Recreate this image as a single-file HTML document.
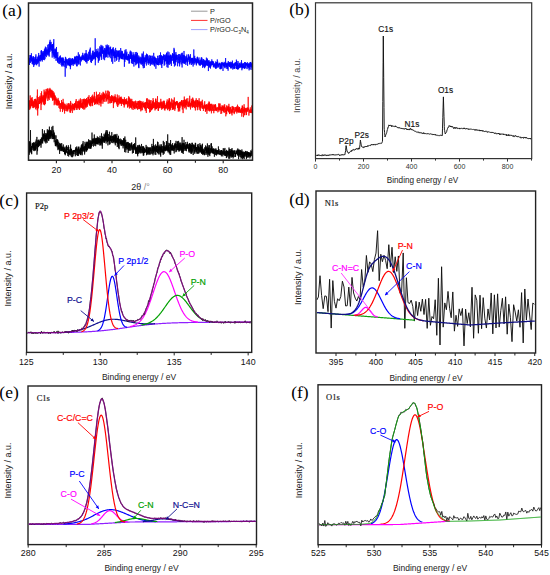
<!DOCTYPE html>
<html><head><meta charset="utf-8"><style>
html,body{margin:0;padding:0;background:#fff;width:550px;height:575px;overflow:hidden;}
svg{display:block;font-family:"Liberation Sans", sans-serif;}
</style></head><body>
<svg width="550" height="575" viewBox="0 0 550 575"><text x="2.3" y="16.2" font-size="17.5" fill="#000" text-anchor="start" font-family='"Liberation Serif", serif' >(a)</text>
<clipPath id="ca"><rect x="29" y="3.5" width="223" height="156.1"/></clipPath>
<polyline fill="none" stroke="#0000ff" stroke-width="0.75" stroke-opacity="1.0" stroke-linejoin="round" clip-path="url(#ca)" points="28.80,60.94 28.90,61.83 29.00,60.12 29.10,55.07 29.20,59.57 29.30,57.96 29.40,61.11 29.50,64.94 29.60,59.44 29.70,59.06 29.80,62.39 29.90,61.98 30.00,61.23 30.10,58.11 30.20,60.82 30.30,62.99 30.40,56.85 30.50,59.51 30.60,55.15 30.70,56.99 30.80,55.32 30.90,60.17 31.00,57.04 31.10,61.69 31.20,61.34 31.30,60.30 31.40,53.23 31.50,59.22 31.60,60.71 31.70,61.19 31.80,56.19 31.90,59.39 32.00,57.86 32.10,58.37 32.20,64.07 32.30,58.36 32.40,60.72 32.50,63.52 32.60,59.03 32.70,60.47 32.80,61.15 32.90,61.00 33.00,57.04 33.10,61.03 33.20,64.97 33.30,56.03 33.40,63.43 33.50,61.15 33.60,58.80 33.70,66.94 33.80,63.12 33.90,57.06 34.00,60.99 34.10,62.53 34.20,60.16 34.30,62.85 34.40,60.53 34.50,62.80 34.60,65.19 34.70,58.61 34.80,61.34 34.90,59.26 35.00,61.09 35.10,56.98 35.20,58.87 35.30,60.05 35.40,63.46 35.50,64.23 35.60,56.49 35.70,58.13 35.80,62.63 35.90,54.34 36.00,59.12 36.10,60.25 36.20,64.50 36.30,62.69 36.40,59.47 36.50,59.32 36.60,59.67 36.70,65.25 36.80,59.05 36.90,59.42 37.00,61.47 37.10,59.94 37.20,59.66 37.30,56.71 37.40,60.18 37.50,58.76 37.60,63.86 37.70,62.19 37.80,59.97 37.90,62.15 38.00,58.87 38.10,63.29 38.20,59.84 38.30,61.68 38.40,55.58 38.50,60.81 38.60,54.16 38.70,52.96 38.80,58.51 38.90,56.51 39.00,59.90 39.10,66.63 39.20,56.51 39.30,57.11 39.40,59.76 39.50,60.63 39.60,58.35 39.70,58.17 39.80,61.09 39.90,60.41 40.00,55.18 40.10,58.26 40.20,58.56 40.30,54.84 40.40,59.14 40.50,55.31 40.60,61.36 40.70,58.66 40.80,58.22 40.90,55.84 41.00,57.34 41.10,50.89 41.20,53.72 41.30,58.70 41.40,50.13 41.50,60.17 41.60,51.22 41.70,59.68 41.80,54.10 41.90,59.58 42.00,57.26 42.10,51.41 42.20,60.94 42.30,61.52 42.40,56.20 42.50,55.38 42.60,55.67 42.70,52.73 42.80,59.88 42.90,54.03 43.00,55.65 43.10,52.94 43.20,53.42 43.30,51.01 43.40,59.88 43.50,54.78 43.60,58.66 43.70,55.17 43.80,52.53 43.90,53.74 44.00,52.79 44.10,54.72 44.20,53.23 44.30,53.39 44.40,49.37 44.50,51.32 44.60,60.17 44.70,51.58 44.80,50.05 44.90,55.04 45.00,58.86 45.10,48.20 45.20,52.68 45.30,50.98 45.40,46.66 45.50,55.83 45.60,52.88 45.70,53.11 45.80,49.89 45.90,54.31 46.00,50.43 46.10,51.81 46.20,48.01 46.30,47.46 46.40,57.08 46.50,49.90 46.60,52.84 46.70,51.46 46.80,49.76 46.90,49.37 47.00,53.67 47.10,49.92 47.20,50.38 47.30,50.93 47.40,55.35 47.50,53.29 47.60,52.00 47.70,48.13 47.80,44.75 47.90,53.92 48.00,53.88 48.10,49.34 48.20,51.98 48.30,52.84 48.40,52.95 48.50,53.22 48.60,47.55 48.70,55.46 48.80,44.15 48.90,52.65 49.00,51.07 49.10,52.55 49.20,56.60 49.30,54.93 49.40,44.08 49.50,41.79 49.60,52.04 49.70,44.46 49.80,48.55 49.90,52.02 50.00,41.76 50.10,39.82 50.20,49.57 50.30,48.68 50.40,47.48 50.50,48.66 50.60,44.96 50.70,42.30 50.80,47.86 50.90,44.59 51.00,41.87 51.10,50.73 51.20,48.45 51.30,50.42 51.40,44.78 51.50,46.20 51.60,44.89 51.70,45.42 51.80,47.36 51.90,46.02 52.00,50.71 52.10,50.74 52.20,57.59 52.30,44.00 52.40,53.22 52.50,49.43 52.60,49.84 52.70,44.29 52.80,48.32 52.90,53.17 53.00,50.06 53.10,50.83 53.20,49.51 53.30,55.25 53.40,50.83 53.50,42.60 53.60,48.54 53.70,43.83 53.80,39.13 53.90,49.62 54.00,56.79 54.10,52.09 54.20,58.64 54.30,48.72 54.40,56.56 54.50,53.11 54.60,52.86 54.70,52.65 54.80,53.14 54.90,56.07 55.00,55.31 55.10,54.25 55.20,49.91 55.30,55.62 55.40,48.64 55.50,57.98 55.60,49.84 55.70,53.97 55.80,54.59 55.90,50.20 56.00,60.86 56.10,60.10 56.20,53.69 56.30,58.04 56.40,56.86 56.50,46.98 56.60,56.74 56.70,55.86 56.80,56.49 56.90,52.83 57.00,55.64 57.10,56.09 57.20,60.67 57.30,58.05 57.40,57.09 57.50,62.14 57.60,55.63 57.70,56.30 57.80,51.94 57.90,62.72 58.00,60.94 58.10,60.90 58.20,60.24 58.30,58.63 58.40,59.07 58.50,57.75 58.60,58.00 58.70,58.90 58.80,63.41 58.90,60.61 59.00,58.85 59.10,57.39 59.20,57.32 59.30,64.07 59.40,60.89 59.50,59.66 59.60,58.52 59.70,56.35 59.80,59.49 59.90,62.31 60.00,58.68 60.10,59.23 60.20,59.31 60.30,60.33 60.40,55.47 60.50,59.45 60.60,57.73 60.70,62.78 60.80,58.08 60.90,61.99 61.00,64.73 61.10,59.54 61.20,58.77 61.30,61.07 61.40,60.56 61.50,57.80 61.60,61.95 61.70,66.37 61.80,60.01 61.90,60.20 62.00,57.89 62.10,61.74 62.20,57.41 62.30,57.84 62.40,64.53 62.50,58.49 62.60,64.04 62.70,65.30 62.80,61.83 62.90,62.68 63.00,66.56 63.10,60.68 63.20,59.63 63.30,57.58 63.40,61.44 63.50,65.41 63.60,64.02 63.70,58.87 63.80,59.15 63.90,60.14 64.00,62.33 64.10,61.02 64.20,62.19 64.30,62.45 64.40,60.88 64.50,61.61 64.60,62.30 64.70,61.56 64.80,63.17 64.90,66.85 65.00,63.47 65.10,62.07 65.20,76.74 65.30,63.02 65.40,56.87 65.50,58.33 65.60,64.35 65.70,63.98 65.80,61.76 65.90,57.69 66.00,61.24 66.10,60.47 66.20,63.94 66.30,68.21 66.40,62.90 66.50,60.33 66.60,59.35 66.70,62.28 66.80,61.99 66.90,59.49 67.00,62.80 67.10,59.54 67.20,65.42 67.30,65.31 67.40,65.39 67.50,61.39 67.60,63.95 67.70,62.30 67.80,61.66 67.90,61.80 68.00,59.35 68.10,59.00 68.20,64.75 68.30,62.23 68.40,63.29 68.50,65.30 68.60,58.30 68.70,60.74 68.80,63.20 68.90,63.76 69.00,61.79 69.10,65.39 69.20,63.29 69.30,59.63 69.40,60.35 69.50,64.80 69.60,63.92 69.70,57.84 69.80,66.17 69.90,64.23 70.00,66.14 70.10,61.68 70.20,61.89 70.30,59.73 70.40,69.18 70.50,62.15 70.60,66.69 70.70,60.88 70.80,62.97 70.90,58.18 71.00,61.50 71.10,65.04 71.20,59.19 71.30,65.23 71.40,63.29 71.50,59.65 71.60,61.04 71.70,61.13 71.80,62.18 71.90,60.87 72.00,60.07 72.10,61.42 72.20,59.48 72.30,58.76 72.40,62.02 72.50,64.47 72.60,58.02 72.70,62.08 72.80,60.30 72.90,59.40 73.00,64.27 73.10,60.57 73.20,65.96 73.30,59.80 73.40,62.92 73.50,61.23 73.60,59.78 73.70,63.38 73.80,62.39 73.90,63.37 74.00,61.58 74.10,58.72 74.20,61.37 74.30,61.76 74.40,64.22 74.50,59.08 74.60,61.43 74.70,56.77 74.80,63.27 74.90,58.47 75.00,56.43 75.10,61.23 75.20,64.43 75.30,57.11 75.40,58.28 75.50,59.21 75.60,58.10 75.70,62.28 75.80,58.94 75.90,56.72 76.00,62.78 76.10,58.99 76.20,62.30 76.30,58.32 76.40,57.61 76.50,55.81 76.60,66.24 76.70,60.03 76.80,61.61 76.90,60.80 77.00,61.31 77.10,60.97 77.20,66.25 77.30,57.80 77.40,56.28 77.50,57.81 77.60,56.85 77.70,62.81 77.80,63.00 77.90,57.83 78.00,56.56 78.10,59.52 78.20,64.55 78.30,52.31 78.40,61.99 78.50,57.30 78.60,63.44 78.70,57.23 78.80,59.52 78.90,55.91 79.00,57.43 79.10,64.33 79.20,62.65 79.30,59.03 79.40,57.62 79.50,54.56 79.60,58.96 79.70,60.00 79.80,59.82 79.90,59.76 80.00,56.68 80.10,59.79 80.20,59.84 80.30,63.78 80.40,65.48 80.50,59.46 80.60,57.54 80.70,59.62 80.80,57.96 80.90,57.52 81.00,59.55 81.10,56.55 81.20,61.50 81.30,58.95 81.40,60.37 81.50,59.03 81.60,57.35 81.70,56.64 81.80,58.78 81.90,57.80 82.00,60.16 82.10,59.40 82.20,55.21 82.30,59.56 82.40,55.20 82.50,57.41 82.60,58.37 82.70,52.84 82.80,59.50 82.90,59.65 83.00,58.67 83.10,57.81 83.20,57.94 83.30,56.03 83.40,58.20 83.50,57.29 83.60,59.27 83.70,55.19 83.80,59.66 83.90,59.34 84.00,58.42 84.10,57.45 84.20,60.54 84.30,53.54 84.40,60.19 84.50,59.47 84.60,59.57 84.70,59.86 84.80,56.55 84.90,57.76 85.00,60.57 85.10,59.89 85.20,59.15 85.30,53.65 85.40,60.14 85.50,62.12 85.60,61.58 85.70,59.07 85.80,53.32 85.90,61.28 86.00,57.76 86.10,50.09 86.20,59.37 86.30,53.35 86.40,53.94 86.50,56.03 86.60,62.12 86.70,56.80 86.80,58.84 86.90,63.56 87.00,63.04 87.10,57.53 87.20,57.05 87.30,53.72 87.40,55.51 87.50,59.10 87.60,58.97 87.70,58.01 87.80,60.85 87.90,55.08 88.00,57.37 88.10,59.90 88.20,59.38 88.30,60.94 88.40,58.71 88.50,56.37 88.60,58.53 88.70,54.04 88.80,51.92 88.90,59.14 89.00,57.03 89.10,58.18 89.20,51.58 89.30,55.91 89.40,55.10 89.50,54.20 89.60,49.59 89.70,55.86 89.80,59.88 89.90,58.15 90.00,54.88 90.10,56.78 90.20,59.29 90.30,47.65 90.40,56.31 90.50,58.48 90.60,58.91 90.70,62.24 90.80,60.34 90.90,57.58 91.00,57.51 91.10,59.09 91.20,54.65 91.30,56.27 91.40,59.39 91.50,62.85 91.60,55.77 91.70,56.11 91.80,56.89 91.90,60.68 92.00,56.06 92.10,61.04 92.20,52.86 92.30,55.44 92.40,55.36 92.50,58.62 92.60,59.46 92.70,50.86 92.80,52.81 92.90,56.98 93.00,53.60 93.10,50.66 93.20,59.24 93.30,57.37 93.40,57.34 93.50,54.04 93.60,59.08 93.70,54.76 93.80,59.24 93.90,52.42 94.00,52.58 94.10,56.13 94.20,53.02 94.30,57.65 94.40,56.21 94.50,52.16 94.60,55.51 94.70,54.03 94.80,58.30 94.90,53.00 95.00,53.62 95.10,59.21 95.20,38.26 95.30,65.24 95.40,55.20 95.50,55.69 95.60,60.15 95.70,54.45 95.80,51.50 95.90,55.21 96.00,56.32 96.10,51.89 96.20,49.05 96.30,49.73 96.40,56.92 96.50,51.99 96.60,54.08 96.70,55.26 96.80,56.63 96.90,53.30 97.00,56.14 97.10,51.32 97.20,53.10 97.30,50.78 97.40,58.20 97.50,54.16 97.60,51.65 97.70,52.96 97.80,53.38 97.90,56.54 98.00,48.54 98.10,50.44 98.20,51.11 98.30,62.78 98.40,57.26 98.50,53.51 98.60,56.35 98.70,61.01 98.80,52.98 98.90,52.48 99.00,57.96 99.10,55.42 99.20,56.01 99.30,51.84 99.40,60.33 99.50,59.55 99.60,55.50 99.70,55.89 99.80,46.33 99.90,55.66 100.00,52.70 100.10,54.87 100.20,55.71 100.30,52.07 100.40,47.28 100.50,50.35 100.60,50.55 100.70,51.97 100.80,56.31 100.90,51.86 101.00,44.86 101.10,57.31 101.20,53.86 101.30,56.87 101.40,59.92 101.50,52.94 101.60,46.43 101.70,49.62 101.80,48.47 101.90,50.94 102.00,52.98 102.10,45.53 102.20,53.85 102.30,47.21 102.40,53.62 102.50,52.14 102.60,51.38 102.70,52.21 102.80,50.51 102.90,50.21 103.00,46.35 103.10,52.24 103.20,58.93 103.30,59.39 103.40,57.00 103.50,54.77 103.60,49.78 103.70,57.36 103.80,51.96 103.90,51.89 104.00,51.06 104.10,52.42 104.20,50.50 104.30,51.74 104.40,48.13 104.50,50.66 104.60,60.20 104.70,51.73 104.80,51.10 104.90,53.86 105.00,54.48 105.10,47.92 105.20,51.17 105.30,55.21 105.40,52.87 105.50,52.33 105.60,57.48 105.70,49.45 105.80,52.18 105.90,50.01 106.00,57.23 106.10,44.87 106.20,49.48 106.30,49.99 106.40,54.27 106.50,47.11 106.60,56.90 106.70,46.27 106.80,54.60 106.90,50.88 107.00,49.56 107.10,53.88 107.20,48.68 107.30,44.56 107.40,50.67 107.50,46.66 107.60,49.71 107.70,53.35 107.80,53.16 107.90,57.70 108.00,51.37 108.10,46.66 108.20,49.44 108.30,48.88 108.40,47.84 108.50,53.71 108.60,49.91 108.70,45.23 108.80,54.69 108.90,51.85 109.00,53.52 109.10,52.66 109.20,54.53 109.30,52.46 109.40,56.68 109.50,53.86 109.60,53.76 109.70,53.84 109.80,47.34 109.90,51.88 110.00,51.57 110.10,53.22 110.20,47.78 110.30,58.22 110.40,52.92 110.50,48.37 110.60,46.67 110.70,51.64 110.80,52.33 110.90,50.18 111.00,51.98 111.10,50.49 111.20,54.63 111.30,50.25 111.40,52.63 111.50,56.16 111.60,61.65 111.70,49.37 111.80,51.26 111.90,49.99 112.00,55.58 112.10,48.99 112.20,49.29 112.30,52.86 112.40,49.64 112.50,49.74 112.60,51.40 112.70,63.76 112.80,48.15 112.90,51.68 113.00,53.61 113.10,52.50 113.20,47.14 113.30,51.60 113.40,55.89 113.50,55.09 113.60,52.97 113.70,50.26 113.80,55.40 113.90,56.22 114.00,49.39 114.10,50.64 114.20,58.22 114.30,54.12 114.40,57.28 114.50,51.82 114.60,56.58 114.70,51.46 114.80,52.96 114.90,61.79 115.00,56.08 115.10,51.88 115.20,53.29 115.30,54.67 115.40,57.63 115.50,52.01 115.60,47.89 115.70,52.75 115.80,53.75 115.90,54.08 116.00,58.08 116.10,55.33 116.20,56.46 116.30,50.18 116.40,56.68 116.50,60.73 116.60,56.40 116.70,54.72 116.80,54.42 116.90,59.78 117.00,50.93 117.10,53.61 117.20,55.50 117.30,56.45 117.40,52.62 117.50,55.06 117.60,53.18 117.70,54.50 117.80,53.70 117.90,50.45 118.00,54.11 118.10,57.04 118.20,51.10 118.30,53.47 118.40,56.42 118.50,50.84 118.60,54.91 118.70,50.92 118.80,58.02 118.90,61.83 119.00,60.92 119.10,53.73 119.20,56.84 119.30,54.88 119.40,54.84 119.50,59.50 119.60,50.33 119.70,57.97 119.80,54.46 119.90,59.15 120.00,55.26 120.10,52.54 120.20,55.60 120.30,57.10 120.40,54.89 120.50,56.36 120.60,53.16 120.70,48.04 120.80,57.75 120.90,57.14 121.00,55.41 121.10,55.18 121.20,58.30 121.30,53.57 121.40,52.80 121.50,54.48 121.60,58.90 121.70,50.72 121.80,58.96 121.90,53.16 122.00,51.72 122.10,59.26 122.20,54.97 122.30,51.17 122.40,54.20 122.50,58.33 122.60,59.19 122.70,54.07 122.80,56.75 122.90,57.76 123.00,53.47 123.10,56.68 123.20,55.48 123.30,53.90 123.40,54.07 123.50,55.88 123.60,55.79 123.70,53.93 123.80,54.40 123.90,59.33 124.00,54.32 124.10,58.66 124.20,59.70 124.30,57.78 124.40,66.77 124.50,53.34 124.60,58.57 124.70,55.01 124.80,61.96 124.90,61.50 125.00,49.90 125.10,53.06 125.20,51.52 125.30,58.72 125.40,58.58 125.50,56.04 125.60,57.74 125.70,58.40 125.80,56.11 125.90,59.65 126.00,49.22 126.10,58.46 126.20,53.18 126.30,59.55 126.40,55.81 126.50,53.74 126.60,57.78 126.70,53.72 126.80,53.75 126.90,51.70 127.00,56.63 127.10,58.32 127.20,60.03 127.30,56.35 127.40,60.17 127.50,56.92 127.60,56.60 127.70,58.75 127.80,60.32 127.90,55.90 128.00,56.24 128.10,56.53 128.20,57.33 128.30,54.24 128.40,60.40 128.50,55.89 128.60,53.95 128.70,54.59 128.80,58.39 128.90,58.53 129.00,55.97 129.10,63.77 129.20,58.55 129.30,63.05 129.40,60.48 129.50,55.35 129.60,56.27 129.70,58.91 129.80,57.74 129.90,57.74 130.00,55.61 130.10,51.89 130.20,56.95 130.30,50.64 130.40,58.91 130.50,55.45 130.60,55.51 130.70,57.12 130.80,58.72 130.90,53.32 131.00,52.35 131.10,54.55 131.20,51.47 131.30,54.92 131.40,63.09 131.50,54.70 131.60,60.16 131.70,53.75 131.80,59.10 131.90,57.16 132.00,58.02 132.10,60.05 132.20,63.86 132.30,58.92 132.40,58.72 132.50,55.26 132.60,60.24 132.70,57.63 132.80,61.09 132.90,58.34 133.00,64.05 133.10,52.23 133.20,57.62 133.30,61.40 133.40,57.51 133.50,56.14 133.60,57.84 133.70,54.33 133.80,59.12 133.90,66.54 134.00,62.45 134.10,55.31 134.20,56.09 134.30,57.61 134.40,62.12 134.50,56.34 134.60,56.79 134.70,61.83 134.80,61.80 134.90,57.89 135.00,55.55 135.10,54.20 135.20,56.94 135.30,52.10 135.40,61.61 135.50,57.25 135.60,60.82 135.70,65.26 135.80,63.08 135.90,55.71 136.00,62.17 136.10,63.12 136.20,57.09 136.30,56.46 136.40,59.17 136.50,54.45 136.60,64.26 136.70,51.95 136.80,56.11 136.90,58.81 137.00,58.97 137.10,60.25 137.20,60.61 137.30,59.10 137.40,63.42 137.50,53.03 137.60,59.86 137.70,57.61 137.80,60.33 137.90,60.64 138.00,57.07 138.10,63.05 138.20,62.54 138.30,61.15 138.40,57.90 138.50,66.57 138.60,67.45 138.70,55.48 138.80,61.12 138.90,68.15 139.00,62.69 139.10,60.92 139.20,59.58 139.30,58.54 139.40,59.60 139.50,58.55 139.60,62.68 139.70,59.06 139.80,58.94 139.90,56.54 140.00,60.22 140.10,57.55 140.20,59.83 140.30,63.72 140.40,61.58 140.50,62.03 140.60,61.57 140.70,60.04 140.80,60.06 140.90,59.50 141.00,62.88 141.10,57.05 141.20,64.74 141.30,60.61 141.40,58.13 141.50,58.96 141.60,58.37 141.70,61.02 141.80,58.25 141.90,64.13 142.00,55.09 142.10,53.35 142.20,58.22 142.30,54.19 142.40,60.40 142.50,63.87 142.60,62.57 142.70,56.32 142.80,58.13 142.90,66.13 143.00,61.53 143.10,60.54 143.20,63.85 143.30,68.24 143.40,51.56 143.50,60.96 143.60,61.64 143.70,62.46 143.80,58.60 143.90,57.20 144.00,60.68 144.10,57.55 144.20,60.32 144.30,60.82 144.40,67.85 144.50,57.85 144.60,60.13 144.70,59.99 144.80,61.87 144.90,63.78 145.00,58.97 145.10,57.93 145.20,55.37 145.30,57.60 145.40,62.17 145.50,60.63 145.60,57.32 145.70,59.33 145.80,60.58 145.90,62.05 146.00,58.63 146.10,59.70 146.20,54.82 146.30,56.89 146.40,65.51 146.50,53.67 146.60,59.42 146.70,61.15 146.80,59.30 146.90,57.96 147.00,60.27 147.10,60.45 147.20,60.20 147.30,54.64 147.40,60.00 147.50,54.62 147.60,58.75 147.70,61.15 147.80,62.43 147.90,63.22 148.00,58.91 148.10,63.30 148.20,64.07 148.30,63.95 148.40,64.73 148.50,59.98 148.60,59.89 148.70,62.97 148.80,56.21 148.90,61.07 149.00,58.79 149.10,59.29 149.20,55.06 149.30,57.68 149.40,60.35 149.50,63.15 149.60,63.46 149.70,60.16 149.80,59.83 149.90,57.85 150.00,61.64 150.10,59.64 150.20,62.26 150.30,65.77 150.40,60.30 150.50,55.80 150.60,57.75 150.70,55.92 150.80,56.72 150.90,64.38 151.00,61.42 151.10,55.73 151.20,62.38 151.30,64.23 151.40,59.28 151.50,58.31 151.60,59.34 151.70,61.24 151.80,62.32 151.90,63.97 152.00,64.06 152.10,63.97 152.20,64.51 152.30,62.37 152.40,55.70 152.50,59.96 152.60,61.31 152.70,59.19 152.80,63.12 152.90,59.25 153.00,57.53 153.10,64.73 153.20,62.36 153.30,61.00 153.40,63.15 153.50,63.56 153.60,61.37 153.70,52.89 153.80,58.28 153.90,58.95 154.00,57.35 154.10,60.92 154.20,65.73 154.30,58.85 154.40,56.89 154.50,66.44 154.60,58.95 154.70,56.59 154.80,61.03 154.90,61.59 155.00,58.18 155.10,62.69 155.20,58.83 155.30,57.52 155.40,60.84 155.50,62.62 155.60,58.39 155.70,61.29 155.80,60.01 155.90,68.77 156.00,58.16 156.10,64.44 156.20,60.12 156.30,59.90 156.40,62.44 156.50,62.96 156.60,64.07 156.70,61.26 156.80,58.47 156.90,58.66 157.00,61.79 157.10,62.00 157.20,64.44 157.30,61.51 157.40,65.01 157.50,64.78 157.60,60.74 157.70,55.81 157.80,56.72 157.90,55.95 158.00,64.99 158.10,57.71 158.20,63.90 158.30,61.97 158.40,65.34 158.50,63.21 158.60,59.91 158.70,59.62 158.80,60.46 158.90,60.73 159.00,58.62 159.10,60.10 159.20,64.98 159.30,55.12 159.40,60.95 159.50,57.48 159.60,60.72 159.70,62.66 159.80,59.99 159.90,62.45 160.00,55.42 160.10,63.43 160.20,58.34 160.30,61.97 160.40,60.65 160.50,52.42 160.60,57.85 160.70,60.74 160.80,64.70 160.90,60.92 161.00,60.83 161.10,55.85 161.20,64.30 161.30,65.40 161.40,60.10 161.50,59.35 161.60,55.18 161.70,62.61 161.80,68.02 161.90,62.10 162.00,63.71 162.10,61.55 162.20,56.99 162.30,63.90 162.40,56.22 162.50,59.26 162.60,60.71 162.70,62.50 162.80,61.09 162.90,60.99 163.00,57.55 163.10,55.96 163.20,59.98 163.30,57.66 163.40,55.86 163.50,55.97 163.60,58.27 163.70,54.18 163.80,55.68 163.90,54.80 164.00,60.23 164.10,60.90 164.20,65.68 164.30,55.15 164.40,57.59 164.50,62.36 164.60,58.95 164.70,58.61 164.80,64.72 164.90,58.54 165.00,56.06 165.10,55.56 165.20,60.53 165.30,60.42 165.40,55.35 165.50,56.50 165.60,61.08 165.70,61.19 165.80,57.49 165.90,61.30 166.00,61.13 166.10,54.00 166.20,58.43 166.30,60.62 166.40,57.61 166.50,52.85 166.60,58.46 166.70,61.59 166.80,64.09 166.90,52.63 167.00,67.20 167.10,55.82 167.20,62.14 167.30,62.97 167.40,62.20 167.50,59.65 167.60,55.64 167.70,61.07 167.80,56.97 167.90,51.45 168.00,67.75 168.10,61.27 168.20,64.64 168.30,56.29 168.40,63.54 168.50,63.91 168.60,63.79 168.70,58.96 168.80,55.33 168.90,58.45 169.00,52.23 169.10,53.75 169.20,59.23 169.30,55.90 169.40,59.68 169.50,58.57 169.60,64.82 169.70,62.86 169.80,58.73 169.90,62.56 170.00,56.44 170.10,57.79 170.20,61.61 170.30,54.97 170.40,57.92 170.50,54.70 170.60,59.11 170.70,63.77 170.80,56.40 170.90,59.41 171.00,55.92 171.10,55.13 171.20,54.85 171.30,63.15 171.40,65.94 171.50,60.12 171.60,56.39 171.70,60.78 171.80,57.55 171.90,61.05 172.00,59.45 172.10,59.40 172.20,60.41 172.30,56.71 172.40,57.24 172.50,53.14 172.60,57.09 172.70,54.03 172.80,57.99 172.90,55.45 173.00,58.72 173.10,59.81 173.20,53.96 173.30,55.83 173.40,55.41 173.50,60.67 173.60,63.65 173.70,60.97 173.80,57.21 173.90,62.86 174.00,47.86 174.10,62.94 174.20,56.19 174.30,49.53 174.40,66.50 174.50,63.14 174.60,54.95 174.70,58.70 174.80,57.48 174.90,58.46 175.00,53.48 175.10,55.98 175.20,59.57 175.30,58.79 175.40,61.84 175.50,58.31 175.60,65.43 175.70,55.79 175.80,58.84 175.90,51.99 176.00,54.06 176.10,62.17 176.20,55.01 176.30,59.64 176.40,57.76 176.50,54.66 176.60,56.84 176.70,56.31 176.80,56.38 176.90,60.28 177.00,59.96 177.10,56.07 177.20,55.03 177.30,58.77 177.40,57.56 177.50,61.11 177.60,66.24 177.70,60.52 177.80,57.75 177.90,57.31 178.00,55.15 178.10,55.00 178.20,54.69 178.30,56.61 178.40,56.51 178.50,60.20 178.60,56.60 178.70,57.24 178.80,54.04 178.90,63.04 179.00,59.47 179.10,63.50 179.20,60.39 179.30,62.57 179.40,57.14 179.50,60.17 179.60,66.39 179.70,54.12 179.80,61.63 179.90,63.27 180.00,59.30 180.10,60.38 180.20,62.00 180.30,55.95 180.40,59.34 180.50,55.31 180.60,55.94 180.70,56.15 180.80,57.67 180.90,58.60 181.00,59.58 181.10,53.71 181.20,64.43 181.30,61.85 181.40,60.52 181.50,57.13 181.60,58.00 181.70,60.01 181.80,59.61 181.90,53.09 182.00,60.68 182.10,67.48 182.20,52.65 182.30,61.52 182.40,59.60 182.50,58.13 182.60,62.75 182.70,54.85 182.80,59.04 182.90,63.08 183.00,57.98 183.10,57.32 183.20,58.98 183.30,57.28 183.40,63.43 183.50,55.92 183.60,61.40 183.70,54.91 183.80,60.81 183.90,58.47 184.00,50.94 184.10,58.82 184.20,55.61 184.30,57.53 184.40,63.57 184.50,55.54 184.60,55.74 184.70,63.32 184.80,59.34 184.90,63.66 185.00,60.01 185.10,56.41 185.20,58.89 185.30,62.79 185.40,61.95 185.50,59.16 185.60,59.32 185.70,58.87 185.80,57.50 185.90,64.98 186.00,59.29 186.10,55.94 186.20,57.90 186.30,61.48 186.40,61.25 186.50,58.98 186.60,57.44 186.70,59.50 186.80,54.55 186.90,55.66 187.00,61.83 187.10,58.12 187.20,60.64 187.30,63.11 187.40,61.48 187.50,59.67 187.60,65.80 187.70,61.59 187.80,58.66 187.90,61.82 188.00,60.90 188.10,57.29 188.20,59.98 188.30,59.32 188.40,54.19 188.50,59.35 188.60,59.06 188.70,58.64 188.80,55.23 188.90,58.92 189.00,59.84 189.10,60.27 189.20,56.79 189.30,61.81 189.40,56.62 189.50,59.44 189.60,63.77 189.70,58.17 189.80,58.71 189.90,64.67 190.00,59.11 190.10,59.38 190.20,60.85 190.30,63.17 190.40,54.15 190.50,58.00 190.60,57.53 190.70,57.34 190.80,58.01 190.90,58.08 191.00,61.24 191.10,57.99 191.20,60.79 191.30,61.58 191.40,58.51 191.50,60.88 191.60,65.01 191.70,61.45 191.80,58.87 191.90,60.44 192.00,58.17 192.10,61.39 192.20,63.01 192.30,58.51 192.40,60.17 192.50,63.73 192.60,57.85 192.70,61.30 192.80,58.10 192.90,58.67 193.00,59.51 193.10,66.54 193.20,59.86 193.30,59.57 193.40,59.51 193.50,60.56 193.60,62.70 193.70,61.52 193.80,49.44 193.90,61.62 194.00,64.80 194.10,61.83 194.20,62.69 194.30,57.49 194.40,60.87 194.50,61.04 194.60,60.62 194.70,55.81 194.80,63.51 194.90,60.33 195.00,60.23 195.10,60.71 195.20,60.80 195.30,62.42 195.40,58.24 195.50,59.12 195.60,62.19 195.70,61.85 195.80,60.57 195.90,60.11 196.00,59.49 196.10,61.44 196.20,64.52 196.30,59.02 196.40,65.40 196.50,63.74 196.60,60.58 196.70,63.63 196.80,58.16 196.90,57.54 197.00,58.64 197.10,60.81 197.20,61.04 197.30,60.60 197.40,62.12 197.50,56.74 197.60,63.12 197.70,58.53 197.80,60.38 197.90,61.00 198.00,59.24 198.10,58.75 198.20,59.65 198.30,62.05 198.40,63.50 198.50,63.46 198.60,59.78 198.70,60.29 198.80,60.01 198.90,63.27 199.00,57.42 199.10,65.16 199.20,61.13 199.30,60.45 199.40,63.11 199.50,64.75 199.60,63.15 199.70,64.83 199.80,62.70 199.90,65.27 200.00,65.32 200.10,62.22 200.20,65.80 200.30,62.87 200.40,62.71 200.50,60.40 200.60,61.88 200.70,64.35 200.80,59.56 200.90,64.09 201.00,63.41 201.10,63.26 201.20,57.59 201.30,62.42 201.40,64.16 201.50,60.95 201.60,62.91 201.70,57.30 201.80,64.26 201.90,61.24 202.00,64.74 202.10,58.59 202.20,64.36 202.30,62.26 202.40,64.65 202.50,60.73 202.60,61.44 202.70,67.93 202.80,60.99 202.90,61.28 203.00,62.27 203.10,60.59 203.20,65.60 203.30,66.81 203.40,61.35 203.50,59.06 203.60,65.60 203.70,65.46 203.80,64.83 203.90,65.59 204.00,61.05 204.10,62.63 204.20,59.92 204.30,59.85 204.40,65.24 204.50,61.55 204.60,68.17 204.70,63.24 204.80,61.65 204.90,64.88 205.00,67.13 205.10,64.20 205.20,60.41 205.30,63.97 205.40,66.22 205.50,62.06 205.60,61.44 205.70,65.45 205.80,63.50 205.90,60.74 206.00,62.36 206.10,61.54 206.20,63.89 206.30,63.48 206.40,57.63 206.50,64.84 206.60,59.80 206.70,64.19 206.80,65.28 206.90,64.31 207.00,65.60 207.10,62.10 207.20,61.23 207.30,65.40 207.40,60.99 207.50,58.59 207.60,65.64 207.70,61.78 207.80,62.72 207.90,60.32 208.00,60.49 208.10,60.87 208.20,62.64 208.30,64.26 208.40,71.05 208.50,65.12 208.60,60.87 208.70,61.14 208.80,65.73 208.90,63.34 209.00,60.14 209.10,67.58 209.20,61.65 209.30,64.09 209.40,64.00 209.50,66.66 209.60,62.58 209.70,65.80 209.80,61.97 209.90,66.07 210.00,61.95 210.10,62.84 210.20,67.79 210.30,64.34 210.40,63.90 210.50,68.57 210.60,64.47 210.70,61.91 210.80,65.30 210.90,61.13 211.00,66.18 211.10,66.36 211.20,62.49 211.30,62.38 211.40,64.15 211.50,63.80 211.60,61.66 211.70,65.03 211.80,59.37 211.90,62.87 212.00,62.95 212.10,63.24 212.20,64.51 212.30,61.19 212.40,65.14 212.50,63.48 212.60,62.48 212.70,60.94 212.80,61.34 212.90,64.69 213.00,61.84 213.10,64.07 213.20,66.24 213.30,66.18 213.40,67.33 213.50,63.34 213.60,61.65 213.70,66.20 213.80,64.67 213.90,66.44 214.00,64.05 214.10,66.61 214.20,65.87 214.30,65.60 214.40,65.15 214.50,64.93 214.60,64.59 214.70,64.58 214.80,66.23 214.90,63.02 215.00,67.85 215.10,63.91 215.20,66.26 215.30,63.97 215.40,63.64 215.50,68.52 215.60,63.53 215.70,61.47 215.80,62.69 215.90,63.54 216.00,68.83 216.10,64.68 216.20,66.24 216.30,62.13 216.40,65.02 216.50,65.71 216.60,68.13 216.70,62.82 216.80,65.60 216.90,64.97 217.00,62.16 217.10,64.30 217.20,63.79 217.30,59.43 217.40,65.64 217.50,65.53 217.60,63.46 217.70,61.57 217.80,67.55 217.90,64.99 218.00,66.59 218.10,67.43 218.20,63.35 218.30,66.18 218.40,63.97 218.50,64.35 218.60,64.32 218.70,64.50 218.80,66.86 218.90,64.79 219.00,64.21 219.10,63.96 219.20,65.28 219.30,62.69 219.40,63.52 219.50,64.48 219.60,63.41 219.70,64.36 219.80,63.34 219.90,68.83 220.00,67.43 220.10,65.59 220.20,64.55 220.30,69.26 220.40,65.36 220.50,64.51 220.60,65.33 220.70,65.35 220.80,67.67 220.90,64.69 221.00,69.12 221.10,62.91 221.20,66.21 221.30,62.68 221.40,68.57 221.50,64.10 221.60,64.68 221.70,66.73 221.80,67.43 221.90,62.52 222.00,64.12 222.10,61.95 222.20,65.15 222.30,64.66 222.40,64.16 222.50,63.47 222.60,64.10 222.70,63.36 222.80,66.02 222.90,68.07 223.00,70.93 223.10,64.71 223.20,64.09 223.30,65.99 223.40,63.01 223.50,64.68 223.60,62.85 223.70,66.44 223.80,65.22 223.90,64.69 224.00,65.79 224.10,64.53 224.20,61.85 224.30,66.28 224.40,63.76 224.50,64.75 224.60,67.10 224.70,67.59 224.80,62.85 224.90,63.50 225.00,68.28 225.10,68.02 225.20,63.61 225.30,62.71 225.40,63.83 225.50,64.12 225.60,58.02 225.70,65.22 225.80,62.54 225.90,62.69 226.00,67.04 226.10,63.78 226.20,65.03 226.30,66.47 226.40,66.85 226.50,64.51 226.60,65.29 226.70,63.52 226.80,68.76 226.90,66.53 227.00,62.97 227.10,65.22 227.20,66.67 227.30,66.20 227.40,68.94 227.50,68.01 227.60,64.14 227.70,65.05 227.80,62.64 227.90,65.74 228.00,65.55 228.10,70.71 228.20,65.44 228.30,61.02 228.40,63.89 228.50,65.48 228.60,62.72 228.70,63.51 228.80,64.52 228.90,65.95 229.00,64.93 229.10,63.48 229.20,66.86 229.30,64.18 229.40,64.27 229.50,62.50 229.60,63.70 229.70,66.59 229.80,62.03 229.90,65.14 230.00,66.73 230.10,64.53 230.20,65.77 230.30,63.05 230.40,67.92 230.50,67.50 230.60,65.77 230.70,61.79 230.80,63.21 230.90,67.25 231.00,68.73 231.10,65.90 231.20,67.80 231.30,64.10 231.40,64.93 231.50,65.32 231.60,66.16 231.70,62.27 231.80,67.19 231.90,67.95 232.00,63.04 232.10,62.63 232.20,66.02 232.30,64.03 232.40,60.62 232.50,66.94 232.60,65.64 232.70,64.39 232.80,69.53 232.90,65.61 233.00,63.85 233.10,65.54 233.20,63.29 233.30,63.84 233.40,66.11 233.50,64.26 233.60,64.46 233.70,68.65 233.80,67.05 233.90,66.94 234.00,66.40 234.10,66.32 234.20,68.23 234.30,65.33 234.40,69.02 234.50,63.50 234.60,64.87 234.70,62.66 234.80,64.70 234.90,66.40 235.00,68.23 235.10,64.08 235.20,65.39 235.30,64.68 235.40,63.94 235.50,63.06 235.60,65.51 235.70,62.00 235.80,65.61 235.90,65.44 236.00,64.11 236.10,63.42 236.20,62.70 236.30,69.06 236.40,59.64 236.50,68.45 236.60,66.58 236.70,64.70 236.80,63.16 236.90,60.95 237.00,68.78 237.10,63.60 237.20,64.84 237.30,67.47 237.40,66.08 237.50,69.31 237.60,64.32 237.70,66.48 237.80,63.01 237.90,69.50 238.00,64.02 238.10,61.16 238.20,65.20 238.30,65.17 238.40,69.15 238.50,64.79 238.60,65.42 238.70,66.60 238.80,68.51 238.90,65.33 239.00,67.46 239.10,66.46 239.20,64.89 239.30,65.61 239.40,65.52 239.50,63.70 239.60,67.80 239.70,62.80 239.80,67.72 239.90,67.31 240.00,65.29 240.10,64.01 240.20,65.04 240.30,66.39 240.40,66.91 240.50,66.03 240.60,67.39 240.70,64.42 240.80,65.94 240.90,62.49 241.00,66.95 241.10,65.79 241.20,64.70 241.30,67.72 241.40,66.82 241.50,60.13 241.60,65.58 241.70,62.73 241.80,67.54 241.90,70.25 242.00,64.52 242.10,65.66 242.20,65.04 242.30,66.18 242.40,66.74 242.50,67.97 242.60,63.65 242.70,68.51 242.80,63.76 242.90,66.05 243.00,67.73 243.10,66.88 243.20,63.76 243.30,64.21 243.40,64.66 243.50,65.44 243.60,67.71 243.70,63.10 243.80,66.43 243.90,66.70 244.00,66.60 244.10,66.43 244.20,68.41 244.30,66.47 244.40,67.17 244.50,66.62 244.60,68.93 244.70,61.99 244.80,67.97 244.90,65.08 245.00,65.04 245.10,63.75 245.20,62.07 245.30,64.86 245.40,64.29 245.50,66.50 245.60,62.82 245.70,68.26 245.80,66.09 245.90,65.12 246.00,64.26 246.10,64.12 246.20,63.48 246.30,64.58 246.40,65.61 246.50,65.27 246.60,62.96 246.70,65.10 246.80,63.94 246.90,65.90 247.00,69.08 247.10,66.77 247.20,65.03 247.30,62.59 247.40,62.99 247.50,62.48 247.60,66.96 247.70,64.20 247.80,65.74 247.90,64.47 248.00,65.79 248.10,68.22 248.20,64.36 248.30,65.00 248.40,64.14 248.50,67.25 248.60,63.74 248.70,63.55 248.80,63.08 248.90,63.04 249.00,66.51 249.10,70.38 249.20,63.81 249.30,67.40 249.40,66.11 249.50,63.62 249.60,65.14 249.70,65.23 249.80,64.39 249.90,69.21 250.00,62.16 250.10,66.36 250.20,66.27 250.30,64.60 250.40,65.94 250.50,62.13 250.60,65.95 250.70,66.43 250.80,66.94 250.90,61.95 251.00,68.38 251.10,69.84 251.20,67.47 251.30,67.53 251.40,63.11 251.50,65.46 251.60,64.20 251.70,64.61 251.80,67.45 251.90,64.22"/>
<polyline fill="none" stroke="#ff0000" stroke-width="0.75" stroke-opacity="1.0" stroke-linejoin="round" clip-path="url(#ca)" points="28.80,105.43 28.90,104.65 29.00,104.99 29.10,105.00 29.20,106.33 29.30,104.62 29.40,106.10 29.50,100.64 29.60,106.95 29.70,109.81 29.80,105.09 29.90,100.26 30.00,108.59 30.10,103.50 30.20,95.43 30.30,103.80 30.40,106.29 30.50,105.60 30.60,108.19 30.70,106.29 30.80,104.77 30.90,98.33 31.00,100.94 31.10,104.88 31.20,106.39 31.30,101.15 31.40,102.40 31.50,105.71 31.60,98.36 31.70,98.22 31.80,103.50 31.90,104.97 32.00,102.69 32.10,97.03 32.20,104.21 32.30,99.98 32.40,106.13 32.50,103.76 32.60,104.88 32.70,106.05 32.80,102.37 32.90,106.60 33.00,107.89 33.10,105.21 33.20,108.13 33.30,101.94 33.40,106.80 33.50,104.73 33.60,100.73 33.70,103.59 33.80,102.14 33.90,102.04 34.00,104.06 34.10,107.15 34.20,102.73 34.30,104.12 34.40,98.99 34.50,104.02 34.60,107.37 34.70,106.25 34.80,105.15 34.90,101.90 35.00,100.42 35.10,103.25 35.20,99.19 35.30,99.50 35.40,106.55 35.50,100.47 35.60,109.29 35.70,98.75 35.80,104.79 35.90,99.52 36.00,103.91 36.10,99.89 36.20,103.41 36.30,102.73 36.40,101.73 36.50,104.88 36.60,108.14 36.70,101.17 36.80,106.02 36.90,103.34 37.00,102.92 37.10,110.28 37.20,95.71 37.30,100.63 37.40,89.52 37.50,101.77 37.60,102.01 37.70,115.51 37.80,103.85 37.90,108.67 38.00,106.96 38.10,101.06 38.20,104.10 38.30,108.07 38.40,102.96 38.50,103.03 38.60,103.97 38.70,97.10 38.80,99.38 38.90,103.22 39.00,103.87 39.10,98.82 39.20,100.78 39.30,101.40 39.40,101.23 39.50,104.05 39.60,101.97 39.70,102.10 39.80,96.59 39.90,97.75 40.00,102.41 40.10,95.72 40.20,102.08 40.30,98.78 40.40,98.18 40.50,103.15 40.60,98.48 40.70,97.76 40.80,98.31 40.90,100.78 41.00,110.08 41.10,93.00 41.20,100.25 41.30,99.39 41.40,103.48 41.50,98.76 41.60,91.28 41.70,104.54 41.80,95.95 41.90,99.49 42.00,94.77 42.10,95.64 42.20,97.67 42.30,102.37 42.40,102.23 42.50,97.02 42.60,100.84 42.70,97.63 42.80,99.26 42.90,99.32 43.00,100.88 43.10,96.37 43.20,98.00 43.30,96.94 43.40,98.60 43.50,95.31 43.60,104.27 43.70,96.31 43.80,100.60 43.90,98.50 44.00,102.07 44.10,89.65 44.20,104.88 44.30,96.57 44.40,92.76 44.50,97.60 44.60,105.24 44.70,98.76 44.80,92.31 44.90,95.01 45.00,101.47 45.10,91.34 45.20,95.70 45.30,95.17 45.40,104.10 45.50,94.96 45.60,100.76 45.70,93.32 45.80,92.74 45.90,99.30 46.00,97.78 46.10,88.98 46.20,97.63 46.30,97.54 46.40,92.77 46.50,95.76 46.60,95.84 46.70,92.93 46.80,92.45 46.90,92.03 47.00,93.42 47.10,89.38 47.20,94.08 47.30,88.56 47.40,94.34 47.50,93.65 47.60,90.01 47.70,97.00 47.80,100.98 47.90,98.62 48.00,88.47 48.10,98.29 48.20,94.28 48.30,93.20 48.40,91.11 48.50,93.27 48.60,98.46 48.70,95.25 48.80,91.63 48.90,90.64 49.00,91.57 49.10,95.30 49.20,100.07 49.30,89.13 49.40,92.91 49.50,91.64 49.60,90.28 49.70,94.59 49.80,95.17 49.90,87.88 50.00,89.33 50.10,97.64 50.20,94.42 50.30,89.46 50.40,91.49 50.50,95.81 50.60,95.14 50.70,91.69 50.80,89.52 50.90,93.66 51.00,97.03 51.10,90.06 51.20,97.73 51.30,96.52 51.40,90.95 51.50,94.19 51.60,94.11 51.70,96.63 51.80,96.85 51.90,89.92 52.00,89.88 52.10,98.44 52.20,95.30 52.30,96.48 52.40,96.30 52.50,100.62 52.60,91.15 52.70,99.29 52.80,92.77 52.90,98.27 53.00,100.50 53.10,91.24 53.20,97.52 53.30,95.32 53.40,95.41 53.50,96.68 53.60,93.11 53.70,93.56 53.80,99.16 53.90,99.92 54.00,95.34 54.10,92.54 54.20,105.19 54.30,101.30 54.40,99.00 54.50,94.60 54.60,96.22 54.70,99.05 54.80,95.31 54.90,103.72 55.00,99.16 55.10,100.12 55.20,95.75 55.30,96.30 55.40,96.84 55.50,100.35 55.60,98.81 55.70,98.89 55.80,100.92 55.90,100.79 56.00,104.79 56.10,99.80 56.20,97.47 56.30,100.66 56.40,105.25 56.50,99.34 56.60,101.29 56.70,100.23 56.80,102.63 56.90,102.33 57.00,99.34 57.10,101.19 57.20,104.73 57.30,105.30 57.40,104.92 57.50,104.87 57.60,101.57 57.70,101.61 57.80,105.41 57.90,99.57 58.00,102.85 58.10,97.91 58.20,102.18 58.30,101.38 58.40,100.10 58.50,105.16 58.60,101.63 58.70,102.74 58.80,103.14 58.90,101.93 59.00,107.92 59.10,102.77 59.20,104.74 59.30,100.74 59.40,103.08 59.50,103.56 59.60,103.68 59.70,103.01 59.80,105.03 59.90,108.88 60.00,104.42 60.10,104.47 60.20,103.86 60.30,111.70 60.40,109.29 60.50,106.54 60.60,106.98 60.70,103.29 60.80,104.81 60.90,105.82 61.00,105.63 61.10,103.11 61.20,103.36 61.30,106.80 61.40,106.31 61.50,100.02 61.60,105.82 61.70,108.93 61.80,103.97 61.90,106.32 62.00,101.95 62.10,107.94 62.20,102.92 62.30,102.60 62.40,105.06 62.50,112.06 62.60,104.38 62.70,102.74 62.80,107.22 62.90,106.66 63.00,110.38 63.10,98.86 63.20,102.08 63.30,105.40 63.40,107.22 63.50,107.20 63.60,109.10 63.70,102.53 63.80,104.28 63.90,106.09 64.00,108.61 64.10,107.71 64.20,105.46 64.30,103.97 64.40,108.85 64.50,109.05 64.60,113.57 64.70,106.26 64.80,110.86 64.90,103.71 65.00,105.43 65.10,105.13 65.20,105.71 65.30,104.70 65.40,105.57 65.50,106.84 65.60,105.88 65.70,108.71 65.80,106.87 65.90,107.11 66.00,110.84 66.10,107.96 66.20,107.59 66.30,107.18 66.40,107.42 66.50,108.73 66.60,105.31 66.70,110.21 66.80,111.30 66.90,110.28 67.00,106.20 67.10,103.47 67.20,106.38 67.30,107.88 67.40,109.58 67.50,107.08 67.60,106.80 67.70,111.36 67.80,105.92 67.90,110.26 68.00,109.87 68.10,104.32 68.20,108.33 68.30,106.26 68.40,105.29 68.50,103.05 68.60,103.76 68.70,108.71 68.80,106.71 68.90,108.36 69.00,105.02 69.10,106.88 69.20,106.99 69.30,103.80 69.40,103.50 69.50,108.76 69.60,108.02 69.70,105.30 69.80,107.37 69.90,109.28 70.00,112.22 70.10,105.35 70.20,109.13 70.30,112.91 70.40,107.71 70.50,111.24 70.60,100.95 70.70,111.17 70.80,107.44 70.90,102.67 71.00,109.41 71.10,110.08 71.20,110.47 71.30,110.43 71.40,107.25 71.50,105.39 71.60,106.10 71.70,107.17 71.80,108.28 71.90,105.96 72.00,107.30 72.10,109.42 72.20,107.97 72.30,113.06 72.40,112.69 72.50,104.05 72.60,105.53 72.70,103.56 72.80,103.91 72.90,108.37 73.00,104.30 73.10,104.12 73.20,106.14 73.30,108.94 73.40,105.85 73.50,105.82 73.60,109.18 73.70,107.96 73.80,107.90 73.90,110.41 74.00,103.92 74.10,107.17 74.20,104.87 74.30,109.30 74.40,108.71 74.50,103.67 74.60,110.06 74.70,103.27 74.80,109.57 74.90,106.93 75.00,103.97 75.10,103.27 75.20,105.46 75.30,106.19 75.40,104.29 75.50,107.74 75.60,102.33 75.70,106.00 75.80,106.12 75.90,100.93 76.00,106.91 76.10,102.54 76.20,99.09 76.30,104.27 76.40,105.31 76.50,108.43 76.60,104.53 76.70,109.97 76.80,109.85 76.90,108.86 77.00,109.48 77.10,106.73 77.20,104.15 77.30,107.51 77.40,108.39 77.50,106.31 77.60,104.91 77.70,101.13 77.80,107.46 77.90,106.52 78.00,101.78 78.10,105.74 78.20,107.50 78.30,105.09 78.40,107.62 78.50,107.51 78.60,101.08 78.70,104.42 78.80,106.66 78.90,107.88 79.00,109.28 79.10,99.62 79.20,104.96 79.30,107.20 79.40,108.65 79.50,109.98 79.60,102.31 79.70,103.92 79.80,101.89 79.90,107.35 80.00,101.04 80.10,108.37 80.20,107.62 80.30,106.27 80.40,98.40 80.50,102.78 80.60,106.97 80.70,100.52 80.80,103.98 80.90,104.35 81.00,107.29 81.10,105.45 81.20,105.40 81.30,103.24 81.40,104.54 81.50,104.09 81.60,106.65 81.70,103.90 81.80,107.52 81.90,99.26 82.00,107.97 82.10,103.81 82.20,107.71 82.30,104.52 82.40,106.83 82.50,108.75 82.60,102.49 82.70,104.39 82.80,103.60 82.90,104.73 83.00,99.11 83.10,103.51 83.20,103.24 83.30,101.57 83.40,103.35 83.50,99.18 83.60,108.19 83.70,105.24 83.80,109.64 83.90,101.11 84.00,100.17 84.10,104.62 84.20,98.55 84.30,104.39 84.40,101.48 84.50,102.59 84.60,104.39 84.70,103.71 84.80,109.33 84.90,105.48 85.00,99.46 85.10,106.51 85.20,99.25 85.30,103.66 85.40,99.47 85.50,100.75 85.60,107.41 85.70,101.53 85.80,101.23 85.90,101.45 86.00,102.20 86.10,107.67 86.20,99.43 86.30,99.22 86.40,104.88 86.50,98.03 86.60,101.85 86.70,106.52 86.80,102.94 86.90,101.40 87.00,100.65 87.10,99.97 87.20,100.96 87.30,103.21 87.40,106.66 87.50,105.75 87.60,100.91 87.70,100.36 87.80,104.81 87.90,96.89 88.00,101.18 88.10,101.51 88.20,99.01 88.30,99.34 88.40,103.53 88.50,97.20 88.60,99.49 88.70,100.30 88.80,102.56 88.90,97.96 89.00,95.26 89.10,101.24 89.20,101.35 89.30,101.00 89.40,99.99 89.50,98.99 89.60,105.65 89.70,102.65 89.80,101.63 89.90,105.07 90.00,99.68 90.10,103.85 90.20,101.92 90.30,99.02 90.40,104.17 90.50,97.06 90.60,103.76 90.70,106.38 90.80,102.93 90.90,105.95 91.00,103.37 91.10,99.67 91.20,101.43 91.30,100.34 91.40,97.78 91.50,97.96 91.60,101.53 91.70,103.04 91.80,95.80 91.90,101.07 92.00,102.85 92.10,101.57 92.20,98.06 92.30,104.41 92.40,97.32 92.50,103.13 92.60,106.08 92.70,94.65 92.80,101.81 92.90,101.95 93.00,101.65 93.10,98.50 93.20,99.90 93.30,96.47 93.40,101.22 93.50,102.46 93.60,98.67 93.70,97.82 93.80,99.21 93.90,100.63 94.00,100.81 94.10,100.26 94.20,100.77 94.30,96.43 94.40,91.97 94.50,102.39 94.60,104.88 94.70,95.98 94.80,98.29 94.90,101.28 95.00,103.29 95.10,102.30 95.20,104.24 95.30,100.05 95.40,101.48 95.50,101.44 95.60,98.78 95.70,103.85 95.80,102.01 95.90,103.09 96.00,98.79 96.10,103.19 96.20,96.65 96.30,101.14 96.40,91.73 96.50,96.70 96.60,102.12 96.70,98.38 96.80,100.30 96.90,94.67 97.00,104.52 97.10,101.52 97.20,99.56 97.30,100.90 97.40,100.60 97.50,103.96 97.60,100.18 97.70,94.90 97.80,98.66 97.90,103.42 98.00,101.17 98.10,98.06 98.20,101.24 98.30,99.67 98.40,101.17 98.50,94.31 98.60,96.42 98.70,101.26 98.80,98.46 98.90,97.73 99.00,105.19 99.10,98.10 99.20,99.79 99.30,97.27 99.40,97.03 99.50,98.71 99.60,94.40 99.70,92.34 99.80,103.10 99.90,98.51 100.00,102.29 100.10,99.15 100.20,99.20 100.30,100.79 100.40,100.91 100.50,94.91 100.60,102.38 100.70,95.57 100.80,99.19 100.90,106.48 101.00,98.75 101.10,103.65 101.20,97.36 101.30,100.32 101.40,98.54 101.50,99.65 101.60,95.67 101.70,95.44 101.80,99.31 101.90,93.38 102.00,95.59 102.10,100.18 102.20,96.24 102.30,95.37 102.40,94.66 102.50,98.53 102.60,96.92 102.70,98.49 102.80,97.41 102.90,103.72 103.00,96.59 103.10,91.84 103.20,98.26 103.30,97.88 103.40,98.33 103.50,92.84 103.60,101.32 103.70,97.20 103.80,97.63 103.90,92.84 104.00,99.19 104.10,97.51 104.20,101.88 104.30,96.39 104.40,93.84 104.50,98.05 104.60,94.81 104.70,98.91 104.80,94.27 104.90,97.21 105.00,96.90 105.10,97.49 105.20,96.00 105.30,95.08 105.40,97.39 105.50,95.79 105.60,98.05 105.70,96.74 105.80,90.66 105.90,97.39 106.00,101.86 106.10,98.52 106.20,99.44 106.30,99.00 106.40,96.17 106.50,93.53 106.60,100.11 106.70,100.87 106.80,99.39 106.90,98.97 107.00,98.89 107.10,97.61 107.20,98.55 107.30,97.77 107.40,98.74 107.50,94.89 107.60,95.87 107.70,99.53 107.80,96.79 107.90,90.50 108.00,98.24 108.10,90.96 108.20,103.70 108.30,100.11 108.40,99.99 108.50,95.97 108.60,94.60 108.70,97.39 108.80,98.11 108.90,95.75 109.00,98.57 109.10,100.19 109.20,99.95 109.30,95.05 109.40,91.71 109.50,98.23 109.60,96.27 109.70,99.61 109.80,103.21 109.90,103.23 110.00,99.21 110.10,101.68 110.20,103.30 110.30,98.57 110.40,99.26 110.50,101.02 110.60,98.40 110.70,97.05 110.80,96.33 110.90,98.61 111.00,96.77 111.10,101.00 111.20,97.68 111.30,103.02 111.40,102.30 111.50,95.09 111.60,101.96 111.70,97.61 111.80,102.86 111.90,100.36 112.00,98.75 112.10,100.88 112.20,97.30 112.30,99.93 112.40,100.12 112.50,98.58 112.60,100.17 112.70,96.14 112.80,100.72 112.90,95.58 113.00,100.97 113.10,100.55 113.20,101.27 113.30,97.61 113.40,108.09 113.50,98.63 113.60,99.75 113.70,97.15 113.80,103.52 113.90,98.03 114.00,102.30 114.10,96.71 114.20,100.38 114.30,98.43 114.40,102.22 114.50,98.72 114.60,97.10 114.70,100.92 114.80,96.20 114.90,96.91 115.00,101.90 115.10,94.34 115.20,101.93 115.30,98.63 115.40,97.18 115.50,100.53 115.60,101.67 115.70,98.21 115.80,99.41 115.90,102.23 116.00,102.12 116.10,99.85 116.20,97.83 116.30,97.35 116.40,102.96 116.50,102.03 116.60,101.77 116.70,101.02 116.80,104.13 116.90,99.36 117.00,99.16 117.10,99.17 117.20,105.70 117.30,94.50 117.40,101.17 117.50,101.63 117.60,100.57 117.70,107.01 117.80,103.76 117.90,102.65 118.00,97.98 118.10,101.94 118.20,99.52 118.30,100.71 118.40,101.18 118.50,99.29 118.60,102.44 118.70,105.26 118.80,103.62 118.90,101.35 119.00,95.37 119.10,103.84 119.20,103.83 119.30,100.31 119.40,99.55 119.50,102.74 119.60,98.68 119.70,103.17 119.80,97.98 119.90,98.45 120.00,101.08 120.10,97.01 120.20,101.09 120.30,102.58 120.40,97.48 120.50,103.72 120.60,99.63 120.70,102.72 120.80,101.82 120.90,99.99 121.00,99.83 121.10,96.59 121.20,99.41 121.30,99.22 121.40,105.90 121.50,104.20 121.60,97.65 121.70,103.65 121.80,102.08 121.90,100.45 122.00,102.79 122.10,103.71 122.20,100.00 122.30,100.83 122.40,102.07 122.50,98.94 122.60,102.16 122.70,101.46 122.80,99.84 122.90,99.43 123.00,102.59 123.10,104.17 123.20,102.70 123.30,99.49 123.40,103.89 123.50,102.33 123.60,103.50 123.70,105.08 123.80,99.48 123.90,101.58 124.00,100.36 124.10,99.63 124.20,107.47 124.30,104.60 124.40,97.28 124.50,103.25 124.60,100.61 124.70,105.25 124.80,102.39 124.90,101.72 125.00,102.60 125.10,103.27 125.20,102.34 125.30,101.69 125.40,101.93 125.50,103.71 125.60,99.30 125.70,102.37 125.80,102.07 125.90,101.11 126.00,104.42 126.10,98.99 126.20,101.50 126.30,100.21 126.40,104.00 126.50,101.29 126.60,102.71 126.70,103.63 126.80,98.33 126.90,103.86 127.00,100.66 127.10,102.01 127.20,102.41 127.30,104.90 127.40,104.73 127.50,107.51 127.60,103.28 127.70,101.55 127.80,101.50 127.90,104.62 128.00,107.18 128.10,103.83 128.20,101.40 128.30,103.69 128.40,103.67 128.50,103.09 128.60,101.05 128.70,96.29 128.80,101.64 128.90,105.90 129.00,103.69 129.10,97.27 129.20,103.18 129.30,98.28 129.40,108.50 129.50,103.74 129.60,100.06 129.70,105.40 129.80,101.22 129.90,104.81 130.00,103.40 130.10,100.24 130.20,105.15 130.30,99.87 130.40,106.98 130.50,103.62 130.60,100.76 130.70,98.71 130.80,107.80 130.90,107.38 131.00,100.25 131.10,107.94 131.20,104.06 131.30,103.05 131.40,103.43 131.50,102.98 131.60,107.48 131.70,104.12 131.80,98.90 131.90,109.28 132.00,106.12 132.10,100.96 132.20,102.90 132.30,101.49 132.40,104.01 132.50,104.94 132.60,104.56 132.70,102.38 132.80,101.88 132.90,106.22 133.00,103.76 133.10,109.94 133.20,101.95 133.30,106.15 133.40,104.24 133.50,102.15 133.60,107.72 133.70,104.50 133.80,101.87 133.90,103.39 134.00,106.90 134.10,101.07 134.20,107.89 134.30,106.10 134.40,103.61 134.50,107.89 134.60,108.94 134.70,106.74 134.80,104.87 134.90,109.26 135.00,108.36 135.10,102.08 135.20,103.98 135.30,103.98 135.40,103.49 135.50,100.69 135.60,106.95 135.70,104.85 135.80,104.91 135.90,108.33 136.00,103.23 136.10,104.57 136.20,105.45 136.30,106.45 136.40,104.50 136.50,107.79 136.60,104.81 136.70,108.30 136.80,102.93 136.90,105.42 137.00,101.22 137.10,104.63 137.20,103.14 137.30,108.51 137.40,106.93 137.50,106.34 137.60,109.82 137.70,108.80 137.80,106.94 137.90,103.31 138.00,101.38 138.10,105.06 138.20,104.24 138.30,103.50 138.40,104.44 138.50,100.93 138.60,109.08 138.70,102.30 138.80,103.52 138.90,106.75 139.00,101.08 139.10,107.69 139.20,107.75 139.30,104.53 139.40,102.56 139.50,104.14 139.60,100.59 139.70,108.98 139.80,105.61 139.90,103.50 140.00,108.94 140.10,106.91 140.20,109.33 140.30,102.15 140.40,103.96 140.50,100.90 140.60,107.22 140.70,105.88 140.80,111.34 140.90,105.17 141.00,104.36 141.10,103.65 141.20,107.71 141.30,101.27 141.40,107.45 141.50,106.15 141.60,104.19 141.70,103.16 141.80,108.26 141.90,110.36 142.00,104.35 142.10,106.89 142.20,110.06 142.30,103.89 142.40,104.85 142.50,102.32 142.60,105.12 142.70,105.30 142.80,104.41 142.90,103.57 143.00,101.36 143.10,101.98 143.20,102.94 143.30,107.18 143.40,104.16 143.50,103.26 143.60,107.22 143.70,106.97 143.80,103.50 143.90,103.83 144.00,107.22 144.10,106.44 144.20,103.27 144.30,106.11 144.40,105.39 144.50,108.41 144.60,103.17 144.70,107.80 144.80,106.60 144.90,102.78 145.00,108.25 145.10,107.86 145.20,101.95 145.30,110.71 145.40,102.40 145.50,103.00 145.60,104.58 145.70,107.48 145.80,106.98 145.90,105.17 146.00,109.07 146.10,106.50 146.20,109.15 146.30,112.95 146.40,105.93 146.50,98.51 146.60,104.19 146.70,102.52 146.80,105.65 146.90,105.66 147.00,102.10 147.10,102.29 147.20,104.68 147.30,104.86 147.40,98.35 147.50,108.01 147.60,105.46 147.70,105.35 147.80,106.17 147.90,102.59 148.00,105.23 148.10,108.18 148.20,108.29 148.30,106.61 148.40,104.59 148.50,103.11 148.60,108.95 148.70,106.78 148.80,104.18 148.90,99.40 149.00,102.95 149.10,100.04 149.20,108.75 149.30,105.84 149.40,103.27 149.50,104.56 149.60,112.48 149.70,108.67 149.80,101.60 149.90,104.95 150.00,101.90 150.10,100.53 150.20,105.78 150.30,112.00 150.40,109.63 150.50,105.41 150.60,104.24 150.70,105.85 150.80,108.17 150.90,101.20 151.00,100.06 151.10,110.53 151.20,106.05 151.30,109.76 151.40,105.93 151.50,109.41 151.60,103.54 151.70,106.65 151.80,109.62 151.90,108.12 152.00,103.95 152.10,107.77 152.20,103.37 152.30,101.21 152.40,106.71 152.50,109.19 152.60,107.63 152.70,101.66 152.80,107.69 152.90,107.15 153.00,103.91 153.10,98.15 153.20,108.10 153.30,107.73 153.40,106.62 153.50,100.27 153.60,100.95 153.70,108.09 153.80,107.49 153.90,106.60 154.00,104.48 154.10,106.31 154.20,103.63 154.30,104.28 154.40,102.69 154.50,105.91 154.60,103.97 154.70,107.90 154.80,107.23 154.90,102.83 155.00,110.44 155.10,101.92 155.20,106.45 155.30,108.27 155.40,108.84 155.50,98.77 155.60,108.03 155.70,108.66 155.80,109.30 155.90,98.69 156.00,103.17 156.10,104.84 156.20,103.83 156.30,109.01 156.40,103.15 156.50,108.68 156.60,106.74 156.70,100.88 156.80,102.22 156.90,103.74 157.00,105.38 157.10,107.99 157.20,104.56 157.30,107.74 157.40,100.49 157.50,96.18 157.60,104.10 157.70,106.42 157.80,104.02 157.90,102.12 158.00,106.30 158.10,110.72 158.20,104.76 158.30,102.93 158.40,102.58 158.50,110.82 158.60,104.93 158.70,106.84 158.80,108.62 158.90,108.20 159.00,102.33 159.10,107.84 159.20,107.51 159.30,106.46 159.40,107.99 159.50,103.36 159.60,104.79 159.70,103.46 159.80,107.23 159.90,103.07 160.00,106.15 160.10,101.77 160.20,104.62 160.30,103.91 160.40,104.64 160.50,105.36 160.60,104.42 160.70,104.31 160.80,98.85 160.90,108.21 161.00,103.11 161.10,104.22 161.20,102.49 161.30,107.88 161.40,102.25 161.50,106.41 161.60,108.39 161.70,109.76 161.80,108.41 161.90,106.72 162.00,101.35 162.10,108.69 162.20,108.39 162.30,107.35 162.40,107.24 162.50,105.09 162.60,103.34 162.70,108.05 162.80,108.61 162.90,101.79 163.00,107.54 163.10,105.57 163.20,107.45 163.30,105.64 163.40,108.10 163.50,107.84 163.60,107.43 163.70,100.75 163.80,107.24 163.90,104.95 164.00,101.49 164.10,106.88 164.20,100.77 164.30,107.42 164.40,109.76 164.50,103.30 164.60,107.48 164.70,106.09 164.80,106.68 164.90,110.58 165.00,106.54 165.10,105.14 165.20,106.92 165.30,104.77 165.40,107.95 165.50,105.54 165.60,106.72 165.70,108.74 165.80,105.25 165.90,107.63 166.00,105.37 166.10,106.23 166.20,103.16 166.30,106.96 166.40,108.28 166.50,104.44 166.60,107.00 166.70,105.93 166.80,101.44 166.90,105.69 167.00,108.51 167.10,103.23 167.20,99.45 167.30,105.24 167.40,102.76 167.50,110.16 167.60,104.51 167.70,104.61 167.80,102.78 167.90,105.34 168.00,102.96 168.10,101.97 168.20,104.41 168.30,102.23 168.40,108.41 168.50,101.18 168.60,104.35 168.70,102.56 168.80,100.54 168.90,109.37 169.00,98.44 169.10,108.75 169.20,100.43 169.30,104.78 169.40,111.08 169.50,98.34 169.60,100.52 169.70,108.30 169.80,104.99 169.90,102.90 170.00,104.38 170.10,101.67 170.20,104.82 170.30,108.79 170.40,103.34 170.50,104.85 170.60,107.92 170.70,110.19 170.80,102.72 170.90,105.29 171.00,102.78 171.10,102.54 171.20,103.24 171.30,102.56 171.40,99.37 171.50,98.62 171.60,102.26 171.70,104.75 171.80,107.88 171.90,102.82 172.00,103.86 172.10,106.25 172.20,106.48 172.30,103.99 172.40,104.17 172.50,109.73 172.60,103.34 172.70,102.88 172.80,99.59 172.90,105.54 173.00,103.52 173.10,109.80 173.20,103.30 173.30,106.61 173.40,106.95 173.50,109.02 173.60,100.45 173.70,108.76 173.80,104.27 173.90,103.92 174.00,103.32 174.10,103.07 174.20,103.21 174.30,97.45 174.40,100.61 174.50,104.36 174.60,101.43 174.70,103.98 174.80,110.81 174.90,105.26 175.00,103.03 175.10,109.08 175.20,101.84 175.30,103.69 175.40,102.53 175.50,102.74 175.60,106.22 175.70,105.78 175.80,101.99 175.90,103.72 176.00,104.33 176.10,102.90 176.20,103.96 176.30,101.98 176.40,101.93 176.50,103.45 176.60,101.06 176.70,105.24 176.80,103.47 176.90,101.36 177.00,102.25 177.10,102.63 177.20,103.54 177.30,104.32 177.40,103.38 177.50,101.48 177.60,108.09 177.70,106.56 177.80,104.27 177.90,106.68 178.00,104.88 178.10,103.19 178.20,104.17 178.30,111.58 178.40,106.76 178.50,106.90 178.60,102.77 178.70,105.62 178.80,110.37 178.90,105.10 179.00,106.95 179.10,107.47 179.20,105.71 179.30,108.37 179.40,104.51 179.50,105.26 179.60,102.03 179.70,111.39 179.80,104.69 179.90,104.13 180.00,107.79 180.10,102.40 180.20,103.78 180.30,101.54 180.40,103.84 180.50,102.66 180.60,105.32 180.70,103.39 180.80,102.04 180.90,102.90 181.00,103.40 181.10,102.26 181.20,106.40 181.30,105.64 181.40,104.13 181.50,100.30 181.60,105.17 181.70,100.04 181.80,104.21 181.90,103.81 182.00,101.98 182.10,101.29 182.20,101.67 182.30,109.51 182.40,102.88 182.50,103.04 182.60,106.37 182.70,104.82 182.80,106.63 182.90,100.11 183.00,100.49 183.10,113.10 183.20,103.47 183.30,102.76 183.40,104.04 183.50,106.40 183.60,100.17 183.70,104.36 183.80,103.47 183.90,105.46 184.00,104.03 184.10,102.02 184.20,101.05 184.30,96.57 184.40,106.30 184.50,99.32 184.60,102.35 184.70,108.22 184.80,102.29 184.90,105.22 185.00,102.87 185.10,105.45 185.20,103.54 185.30,102.00 185.40,107.29 185.50,102.68 185.60,99.62 185.70,102.49 185.80,104.95 185.90,100.24 186.00,105.64 186.10,105.57 186.20,109.42 186.30,101.56 186.40,105.26 186.50,98.63 186.60,102.18 186.70,103.66 186.80,104.51 186.90,103.19 187.00,103.08 187.10,101.59 187.20,102.06 187.30,104.19 187.40,104.90 187.50,105.13 187.60,106.13 187.70,106.67 187.80,98.18 187.90,101.81 188.00,102.82 188.10,101.45 188.20,106.24 188.30,105.39 188.40,102.96 188.50,103.60 188.60,106.84 188.70,102.27 188.80,102.36 188.90,105.81 189.00,104.57 189.10,107.26 189.20,104.29 189.30,105.36 189.40,101.70 189.50,100.58 189.60,103.21 189.70,95.74 189.80,104.39 189.90,105.99 190.00,103.46 190.10,102.62 190.20,106.32 190.30,103.14 190.40,106.03 190.50,109.45 190.60,105.31 190.70,105.92 190.80,104.68 190.90,104.00 191.00,104.08 191.10,103.51 191.20,106.37 191.30,98.81 191.40,102.60 191.50,105.21 191.60,101.01 191.70,103.10 191.80,101.46 191.90,104.65 192.00,105.85 192.10,107.52 192.20,104.87 192.30,101.48 192.40,104.21 192.50,105.11 192.60,107.48 192.70,97.59 192.80,104.62 192.90,98.52 193.00,105.61 193.10,104.88 193.20,105.06 193.30,106.15 193.40,104.78 193.50,99.89 193.60,104.73 193.70,107.10 193.80,103.49 193.90,103.91 194.00,100.51 194.10,107.08 194.20,102.51 194.30,101.88 194.40,102.72 194.50,101.61 194.60,103.31 194.70,107.53 194.80,106.23 194.90,107.98 195.00,108.17 195.10,101.68 195.20,105.47 195.30,108.27 195.40,110.47 195.50,100.37 195.60,100.37 195.70,105.55 195.80,103.39 195.90,101.63 196.00,105.39 196.10,102.24 196.20,98.26 196.30,104.37 196.40,104.79 196.50,106.20 196.60,107.04 196.70,105.02 196.80,103.92 196.90,102.78 197.00,100.17 197.10,103.45 197.20,107.33 197.30,106.43 197.40,110.21 197.50,104.32 197.60,99.97 197.70,106.99 197.80,107.58 197.90,101.71 198.00,100.54 198.10,105.29 198.20,106.80 198.30,101.94 198.40,104.05 198.50,102.91 198.60,101.86 198.70,101.53 198.80,105.42 198.90,104.09 199.00,103.33 199.10,98.22 199.20,109.78 199.30,102.68 199.40,104.84 199.50,102.22 199.60,106.25 199.70,101.30 199.80,105.55 199.90,104.83 200.00,107.76 200.10,102.50 200.20,103.70 200.30,104.81 200.40,110.94 200.50,101.62 200.60,106.26 200.70,103.81 200.80,106.36 200.90,107.28 201.00,105.96 201.10,106.31 201.20,106.37 201.30,104.14 201.40,105.13 201.50,101.42 201.60,104.82 201.70,103.78 201.80,105.14 201.90,107.73 202.00,106.83 202.10,107.09 202.20,108.74 202.30,99.77 202.40,107.05 202.50,105.91 202.60,105.74 202.70,102.66 202.80,107.46 202.90,109.01 203.00,108.73 203.10,105.90 203.20,107.78 203.30,108.53 203.40,110.85 203.50,109.35 203.60,106.61 203.70,106.51 203.80,106.72 203.90,106.90 204.00,105.08 204.10,108.33 204.20,104.64 204.30,104.39 204.40,107.34 204.50,105.02 204.60,105.88 204.70,101.27 204.80,108.55 204.90,106.56 205.00,106.28 205.10,107.79 205.20,107.18 205.30,104.91 205.40,111.73 205.50,105.59 205.60,109.19 205.70,111.36 205.80,105.25 205.90,107.06 206.00,104.81 206.10,109.50 206.20,106.07 206.30,104.18 206.40,110.23 206.50,109.26 206.60,104.79 206.70,109.97 206.80,107.54 206.90,113.81 207.00,111.35 207.10,105.76 207.20,106.49 207.30,105.01 207.40,107.53 207.50,107.35 207.60,109.07 207.70,107.49 207.80,103.69 207.90,105.34 208.00,110.83 208.10,110.21 208.20,107.01 208.30,107.10 208.40,107.04 208.50,107.53 208.60,103.40 208.70,109.71 208.80,105.95 208.90,107.93 209.00,101.44 209.10,108.19 209.20,110.90 209.30,102.24 209.40,111.38 209.50,108.86 209.60,105.96 209.70,103.92 209.80,110.60 209.90,108.44 210.00,109.26 210.10,107.20 210.20,105.95 210.30,109.99 210.40,105.62 210.50,110.10 210.60,103.94 210.70,105.75 210.80,104.51 210.90,111.15 211.00,103.84 211.10,105.33 211.20,109.65 211.30,108.64 211.40,113.34 211.50,112.51 211.60,109.61 211.70,109.80 211.80,103.83 211.90,106.09 212.00,107.42 212.10,107.80 212.20,104.97 212.30,106.04 212.40,106.26 212.50,110.79 212.60,109.30 212.70,107.52 212.80,107.67 212.90,109.02 213.00,106.70 213.10,107.73 213.20,104.32 213.30,109.95 213.40,110.65 213.50,109.25 213.60,109.53 213.70,109.28 213.80,113.21 213.90,108.92 214.00,105.37 214.10,106.02 214.20,110.14 214.30,110.97 214.40,110.29 214.50,110.46 214.60,108.95 214.70,105.08 214.80,106.90 214.90,104.36 215.00,107.66 215.10,105.42 215.20,108.80 215.30,108.19 215.40,104.10 215.50,110.30 215.60,110.37 215.70,105.42 215.80,108.97 215.90,110.29 216.00,107.99 216.10,110.63 216.20,109.10 216.30,111.14 216.40,109.11 216.50,108.32 216.60,109.87 216.70,110.50 216.80,109.29 216.90,107.71 217.00,106.94 217.10,107.90 217.20,107.46 217.30,109.23 217.40,109.16 217.50,108.59 217.60,108.79 217.70,109.19 217.80,112.36 217.90,111.55 218.00,107.53 218.10,109.79 218.20,108.11 218.30,108.64 218.40,108.32 218.50,107.47 218.60,105.82 218.70,103.36 218.80,109.35 218.90,111.57 219.00,106.89 219.10,110.07 219.20,108.08 219.30,109.58 219.40,107.16 219.50,108.45 219.60,108.73 219.70,103.69 219.80,109.48 219.90,108.70 220.00,103.50 220.10,110.47 220.20,108.96 220.30,109.50 220.40,109.85 220.50,108.14 220.60,106.69 220.70,108.09 220.80,108.14 220.90,114.00 221.00,113.17 221.10,108.04 221.20,108.21 221.30,109.84 221.40,110.38 221.50,107.63 221.60,106.96 221.70,113.41 221.80,111.49 221.90,105.79 222.00,105.34 222.10,107.40 222.20,109.70 222.30,110.42 222.40,108.49 222.50,105.72 222.60,109.73 222.70,110.57 222.80,109.27 222.90,108.20 223.00,110.54 223.10,109.18 223.20,106.88 223.30,109.52 223.40,106.53 223.50,111.42 223.60,110.36 223.70,107.21 223.80,109.82 223.90,112.07 224.00,104.77 224.10,109.09 224.20,112.95 224.30,106.08 224.40,109.07 224.50,106.38 224.60,109.30 224.70,104.31 224.80,105.99 224.90,108.32 225.00,109.78 225.10,110.30 225.20,110.41 225.30,111.96 225.40,111.01 225.50,111.11 225.60,107.46 225.70,109.22 225.80,116.33 225.90,114.39 226.00,111.34 226.10,111.16 226.20,111.70 226.30,108.76 226.40,113.77 226.50,108.84 226.60,109.47 226.70,114.25 226.80,105.27 226.90,110.44 227.00,106.05 227.10,108.32 227.20,109.51 227.30,108.97 227.40,110.09 227.50,108.12 227.60,109.52 227.70,107.26 227.80,108.95 227.90,106.87 228.00,111.15 228.10,107.09 228.20,111.25 228.30,108.95 228.40,109.19 228.50,112.29 228.60,110.06 228.70,105.91 228.80,110.90 228.90,103.84 229.00,110.43 229.10,109.06 229.20,107.00 229.30,110.07 229.40,109.28 229.50,114.07 229.60,109.03 229.70,113.95 229.80,112.80 229.90,108.70 230.00,108.29 230.10,112.69 230.20,109.70 230.30,110.32 230.40,109.48 230.50,107.52 230.60,109.25 230.70,108.06 230.80,106.89 230.90,109.44 231.00,113.70 231.10,113.36 231.20,109.93 231.30,110.34 231.40,111.12 231.50,112.85 231.60,110.74 231.70,109.12 231.80,109.30 231.90,112.41 232.00,115.40 232.10,108.84 232.20,105.95 232.30,111.77 232.40,109.98 232.50,110.42 232.60,112.65 232.70,110.28 232.80,107.46 232.90,106.18 233.00,110.06 233.10,107.82 233.20,109.07 233.30,107.60 233.40,109.46 233.50,107.21 233.60,109.45 233.70,109.29 233.80,111.39 233.90,112.90 234.00,109.83 234.10,108.46 234.20,114.13 234.30,110.93 234.40,111.44 234.50,111.43 234.60,113.13 234.70,112.24 234.80,111.58 234.90,107.02 235.00,108.51 235.10,109.01 235.20,110.02 235.30,110.42 235.40,110.28 235.50,110.86 235.60,110.30 235.70,109.40 235.80,107.01 235.90,111.92 236.00,111.43 236.10,108.51 236.20,111.25 236.30,111.05 236.40,110.41 236.50,106.62 236.60,107.88 236.70,109.08 236.80,113.48 236.90,108.58 237.00,109.59 237.10,108.08 237.20,109.31 237.30,110.97 237.40,106.19 237.50,104.69 237.60,111.60 237.70,110.37 237.80,109.11 237.90,112.21 238.00,112.22 238.10,106.18 238.20,109.98 238.30,112.49 238.40,109.00 238.50,109.70 238.60,112.19 238.70,109.80 238.80,107.98 238.90,108.98 239.00,107.73 239.10,111.42 239.20,106.96 239.30,112.30 239.40,107.12 239.50,110.43 239.60,107.48 239.70,109.73 239.80,112.35 239.90,112.54 240.00,112.90 240.10,110.18 240.20,110.57 240.30,110.81 240.40,111.56 240.50,109.59 240.60,112.51 240.70,111.00 240.80,112.60 240.90,111.30 241.00,111.69 241.10,108.97 241.20,109.58 241.30,107.89 241.40,109.82 241.50,110.05 241.60,112.01 241.70,107.96 241.80,116.65 241.90,110.17 242.00,112.83 242.10,112.41 242.20,105.55 242.30,109.91 242.40,113.25 242.50,105.75 242.60,111.90 242.70,108.66 242.80,109.53 242.90,110.86 243.00,106.85 243.10,110.81 243.20,109.19 243.30,109.00 243.40,111.78 243.50,117.15 243.60,111.10 243.70,111.50 243.80,110.35 243.90,109.07 244.00,110.94 244.10,104.26 244.20,110.82 244.30,112.15 244.40,110.03 244.50,115.25 244.60,107.33 244.70,111.58 244.80,111.50 244.90,110.97 245.00,108.35 245.10,108.32 245.20,110.03 245.30,110.66 245.40,108.18 245.50,108.47 245.60,111.54 245.70,112.43 245.80,109.43 245.90,109.17 246.00,109.12 246.10,115.16 246.20,111.42 246.30,110.37 246.40,112.39 246.50,114.82 246.60,112.70 246.70,107.82 246.80,110.35 246.90,109.75 247.00,111.64 247.10,108.23 247.20,109.78 247.30,108.49 247.40,111.15 247.50,110.60 247.60,107.88 247.70,107.33 247.80,109.63 247.90,111.74 248.00,111.45 248.10,110.41 248.20,96.90 248.30,109.61 248.40,109.16 248.50,109.92 248.60,108.27 248.70,109.74 248.80,109.31 248.90,115.59 249.00,111.86 249.10,110.20 249.20,110.47 249.30,110.34 249.40,110.91 249.50,109.81 249.60,110.53 249.70,112.47 249.80,112.11 249.90,111.14 250.00,113.03 250.10,110.99 250.20,108.77 250.30,107.36 250.40,109.30 250.50,110.47 250.60,111.32 250.70,112.57 250.80,109.53 250.90,109.11 251.00,112.01 251.10,112.76 251.20,109.72 251.30,111.22 251.40,113.12 251.50,111.19 251.60,110.50 251.70,106.79 251.80,105.49 251.90,111.79"/>
<polyline fill="none" stroke="#000000" stroke-width="0.75" stroke-opacity="1.0" stroke-linejoin="round" clip-path="url(#ca)" points="28.80,150.28 28.90,147.50 29.00,146.38 29.10,148.83 29.20,147.03 29.30,154.74 29.40,141.16 29.50,148.81 29.60,141.93 29.70,151.39 29.80,146.34 29.90,152.87 30.00,146.97 30.10,151.38 30.20,148.94 30.30,151.59 30.40,148.36 30.50,130.09 30.60,146.22 30.70,143.86 30.80,142.71 30.90,149.58 31.00,148.06 31.10,149.27 31.20,148.50 31.30,146.31 31.40,153.35 31.50,148.49 31.60,147.22 31.70,154.22 31.80,145.91 31.90,147.66 32.00,147.07 32.10,146.17 32.20,147.33 32.30,144.21 32.40,147.40 32.50,142.88 32.60,144.80 32.70,145.10 32.80,149.70 32.90,148.55 33.00,147.30 33.10,143.68 33.20,145.82 33.30,149.28 33.40,150.56 33.50,142.50 33.60,145.52 33.70,147.05 33.80,147.72 33.90,146.66 34.00,148.57 34.10,142.23 34.20,151.13 34.30,143.01 34.40,146.56 34.50,147.90 34.60,149.79 34.70,148.96 34.80,148.82 34.90,150.00 35.00,145.62 35.10,148.31 35.20,150.68 35.30,143.61 35.40,141.59 35.50,142.74 35.60,150.11 35.70,149.54 35.80,144.56 35.90,144.23 36.00,147.02 36.10,148.76 36.20,139.58 36.30,143.64 36.40,144.51 36.50,146.26 36.60,145.44 36.70,144.15 36.80,145.99 36.90,136.92 37.00,154.66 37.10,147.49 37.20,147.62 37.30,142.67 37.40,146.00 37.50,151.15 37.60,150.34 37.70,144.71 37.80,140.43 37.90,144.84 38.00,143.28 38.10,146.90 38.20,139.98 38.30,143.40 38.40,144.79 38.50,142.33 38.60,147.15 38.70,139.99 38.80,139.58 38.90,142.35 39.00,146.07 39.10,142.31 39.20,141.28 39.30,145.71 39.40,143.73 39.50,141.20 39.60,143.21 39.70,141.93 39.80,144.59 39.90,142.97 40.00,139.80 40.10,140.74 40.20,140.84 40.30,143.29 40.40,143.20 40.50,139.17 40.60,141.15 40.70,142.66 40.80,145.13 40.90,142.26 41.00,147.69 41.10,141.30 41.20,143.51 41.30,139.94 41.40,137.65 41.50,141.13 41.60,142.24 41.70,141.61 41.80,140.92 41.90,139.25 42.00,137.55 42.10,139.13 42.20,141.52 42.30,143.00 42.40,129.07 42.50,141.65 42.60,143.08 42.70,143.55 42.80,140.58 42.90,141.40 43.00,137.67 43.10,138.72 43.20,140.60 43.30,135.23 43.40,136.11 43.50,139.20 43.60,134.13 43.70,138.52 43.80,133.44 43.90,138.76 44.00,138.11 44.10,136.10 44.20,134.77 44.30,136.07 44.40,130.38 44.50,136.21 44.60,137.77 44.70,141.15 44.80,135.54 44.90,136.51 45.00,141.42 45.10,142.42 45.20,135.21 45.30,140.01 45.40,140.32 45.50,138.11 45.60,133.23 45.70,133.28 45.80,138.01 45.90,143.48 46.00,135.42 46.10,140.86 46.20,141.79 46.30,141.78 46.40,133.74 46.50,140.29 46.60,138.52 46.70,137.09 46.80,135.25 46.90,137.18 47.00,133.15 47.10,142.88 47.20,131.37 47.30,129.29 47.40,135.29 47.50,139.26 47.60,133.17 47.70,134.47 47.80,131.40 47.90,134.29 48.00,131.31 48.10,131.30 48.20,129.80 48.30,132.62 48.40,140.02 48.50,134.05 48.60,134.78 48.70,141.04 48.80,132.17 48.90,131.02 49.00,135.67 49.10,130.25 49.20,135.04 49.30,137.56 49.40,126.62 49.50,132.38 49.60,139.18 49.70,130.72 49.80,131.88 49.90,134.70 50.00,133.01 50.10,131.38 50.20,138.90 50.30,132.25 50.40,135.06 50.50,136.11 50.60,133.40 50.70,129.94 50.80,136.99 50.90,132.90 51.00,138.14 51.10,130.75 51.20,132.88 51.30,135.86 51.40,134.80 51.50,132.54 51.60,133.62 51.70,130.75 51.80,134.92 51.90,126.82 52.00,135.45 52.10,139.12 52.20,137.81 52.30,137.79 52.40,134.06 52.50,136.91 52.60,134.34 52.70,135.40 52.80,135.49 52.90,125.85 53.00,138.82 53.10,137.55 53.20,138.84 53.30,133.65 53.40,138.68 53.50,138.20 53.60,130.33 53.70,131.89 53.80,137.46 53.90,135.47 54.00,137.54 54.10,135.89 54.20,142.31 54.30,132.57 54.40,134.32 54.50,135.63 54.60,134.69 54.70,137.16 54.80,138.93 54.90,135.35 55.00,140.45 55.10,143.35 55.20,142.91 55.30,145.70 55.40,143.39 55.50,140.27 55.60,145.60 55.70,142.74 55.80,146.22 55.90,140.58 56.00,135.42 56.10,138.24 56.20,142.20 56.30,143.42 56.40,141.51 56.50,145.04 56.60,139.27 56.70,140.69 56.80,145.54 56.90,143.14 57.00,143.44 57.10,147.20 57.20,146.52 57.30,141.53 57.40,144.41 57.50,139.41 57.60,144.16 57.70,145.41 57.80,139.83 57.90,148.86 58.00,150.18 58.10,146.29 58.20,147.57 58.30,149.25 58.40,144.92 58.50,148.28 58.60,146.66 58.70,141.71 58.80,143.50 58.90,144.51 59.00,148.96 59.10,146.50 59.20,148.95 59.30,145.22 59.40,143.21 59.50,152.08 59.60,153.89 59.70,147.86 59.80,146.43 59.90,150.14 60.00,144.24 60.10,146.67 60.20,143.57 60.30,148.63 60.40,148.09 60.50,146.49 60.60,145.92 60.70,143.75 60.80,145.61 60.90,150.99 61.00,146.97 61.10,151.19 61.20,145.79 61.30,147.87 61.40,146.96 61.50,147.54 61.60,150.24 61.70,143.07 61.80,150.28 61.90,150.22 62.00,148.51 62.10,148.76 62.20,148.06 62.30,150.44 62.40,148.88 62.50,146.64 62.60,149.24 62.70,151.33 62.80,149.90 62.90,149.09 63.00,149.59 63.10,147.88 63.20,148.02 63.30,144.49 63.40,148.83 63.50,151.83 63.60,148.43 63.70,147.19 63.80,151.76 63.90,149.98 64.00,149.98 64.10,150.86 64.20,151.48 64.30,149.68 64.40,147.77 64.50,154.23 64.60,150.09 64.70,148.09 64.80,150.52 64.90,153.07 65.00,146.66 65.10,153.46 65.20,149.94 65.30,155.25 65.40,152.03 65.50,150.18 65.60,153.57 65.70,153.67 65.80,149.73 65.90,151.22 66.00,149.43 66.10,152.99 66.20,147.35 66.30,150.41 66.40,145.69 66.50,152.38 66.60,145.56 66.70,148.46 66.80,149.63 66.90,150.27 67.00,150.09 67.10,148.86 67.20,150.12 67.30,147.04 67.40,152.12 67.50,153.33 67.60,153.26 67.70,151.36 67.80,155.93 67.90,152.64 68.00,153.86 68.10,152.53 68.20,151.69 68.30,149.80 68.40,145.31 68.50,153.25 68.60,151.44 68.70,156.53 68.80,146.97 68.90,153.81 69.00,149.50 69.10,151.80 69.20,149.69 69.30,152.68 69.40,151.78 69.50,153.98 69.60,152.23 69.70,153.04 69.80,154.97 69.90,153.15 70.00,151.58 70.10,154.90 70.20,151.63 70.30,152.89 70.40,151.13 70.50,150.30 70.60,144.62 70.70,153.59 70.80,149.10 70.90,153.68 71.00,156.28 71.10,148.68 71.20,154.02 71.30,151.64 71.40,152.98 71.50,148.94 71.60,151.93 71.70,152.23 71.80,155.33 71.90,157.07 72.00,152.59 72.10,150.92 72.20,157.24 72.30,151.53 72.40,151.64 72.50,152.02 72.60,152.91 72.70,153.50 72.80,150.32 72.90,151.46 73.00,156.36 73.10,155.67 73.20,152.80 73.30,152.37 73.40,151.11 73.50,154.21 73.60,150.38 73.70,151.95 73.80,150.50 73.90,150.07 74.00,151.28 74.10,151.61 74.20,150.15 74.30,151.42 74.40,151.74 74.50,150.38 74.60,149.91 74.70,151.19 74.80,153.28 74.90,154.29 75.00,151.96 75.10,150.81 75.20,151.40 75.30,156.27 75.40,153.75 75.50,149.04 75.60,151.29 75.70,150.07 75.80,150.47 75.90,147.12 76.00,151.44 76.10,147.91 76.20,149.85 76.30,155.18 76.40,153.85 76.50,149.09 76.60,148.65 76.70,148.94 76.80,146.44 76.90,148.72 77.00,150.52 77.10,148.51 77.20,153.11 77.30,151.23 77.40,149.77 77.50,155.60 77.60,152.91 77.70,151.25 77.80,155.80 77.90,154.40 78.00,149.17 78.10,151.80 78.20,149.81 78.30,147.20 78.40,155.80 78.50,154.74 78.60,147.52 78.70,152.06 78.80,146.49 78.90,153.51 79.00,150.55 79.10,149.89 79.20,153.89 79.30,150.60 79.40,149.85 79.50,152.88 79.60,149.65 79.70,152.70 79.80,150.37 79.90,152.50 80.00,151.93 80.10,152.31 80.20,147.52 80.30,155.11 80.40,149.66 80.50,154.71 80.60,148.40 80.70,149.21 80.80,149.19 80.90,152.92 81.00,148.64 81.10,150.84 81.20,145.48 81.30,148.34 81.40,150.17 81.50,149.22 81.60,144.42 81.70,150.75 81.80,146.74 81.90,154.52 82.00,148.72 82.10,155.29 82.20,150.92 82.30,150.31 82.40,147.71 82.50,148.63 82.60,150.13 82.70,143.53 82.80,151.49 82.90,145.52 83.00,147.96 83.10,141.12 83.20,149.79 83.30,150.54 83.40,149.21 83.50,149.26 83.60,147.29 83.70,148.68 83.80,151.53 83.90,146.96 84.00,149.47 84.10,150.04 84.20,147.31 84.30,148.57 84.40,148.46 84.50,146.41 84.60,154.51 84.70,146.47 84.80,152.39 84.90,150.55 85.00,141.81 85.10,148.14 85.20,150.27 85.30,149.61 85.40,144.72 85.50,147.94 85.60,143.77 85.70,144.16 85.80,146.35 85.90,147.51 86.00,151.46 86.10,147.87 86.20,149.80 86.30,143.33 86.40,143.39 86.50,145.24 86.60,151.56 86.70,142.69 86.80,141.93 86.90,146.17 87.00,149.73 87.10,141.60 87.20,145.49 87.30,142.25 87.40,150.26 87.50,148.03 87.60,146.77 87.70,145.78 87.80,145.18 87.90,146.20 88.00,143.87 88.10,143.12 88.20,142.40 88.30,145.60 88.40,143.19 88.50,147.99 88.60,139.27 88.70,146.99 88.80,146.83 88.90,148.77 89.00,144.42 89.10,140.70 89.20,142.33 89.30,148.30 89.40,144.02 89.50,143.65 89.60,143.08 89.70,144.55 89.80,144.01 89.90,140.03 90.00,142.80 90.10,147.49 90.20,148.73 90.30,144.03 90.40,142.80 90.50,148.30 90.60,143.69 90.70,140.66 90.80,143.72 90.90,146.11 91.00,148.63 91.10,142.47 91.20,145.48 91.30,142.82 91.40,147.16 91.50,144.46 91.60,144.42 91.70,140.62 91.80,142.56 91.90,142.49 92.00,132.57 92.10,145.92 92.20,143.26 92.30,142.60 92.40,142.09 92.50,143.20 92.60,143.79 92.70,139.05 92.80,143.33 92.90,143.24 93.00,142.92 93.10,138.27 93.20,142.31 93.30,138.78 93.40,143.69 93.50,146.58 93.60,145.17 93.70,141.43 93.80,140.76 93.90,140.64 94.00,143.38 94.10,140.23 94.20,140.58 94.30,134.49 94.40,139.52 94.50,139.67 94.60,140.37 94.70,145.71 94.80,137.77 94.90,137.81 95.00,143.69 95.10,138.79 95.20,141.26 95.30,142.26 95.40,141.73 95.50,139.25 95.60,144.43 95.70,146.18 95.80,138.43 95.90,140.65 96.00,144.35 96.10,140.78 96.20,138.29 96.30,140.02 96.40,143.88 96.50,138.21 96.60,142.03 96.70,142.40 96.80,139.17 96.90,142.90 97.00,143.19 97.10,144.18 97.20,143.95 97.30,136.43 97.40,143.77 97.50,142.78 97.60,143.97 97.70,138.30 97.80,143.69 97.90,142.02 98.00,137.27 98.10,144.75 98.20,138.39 98.30,137.63 98.40,141.97 98.50,138.85 98.60,141.81 98.70,139.91 98.80,141.52 98.90,143.14 99.00,140.49 99.10,143.25 99.20,143.16 99.30,137.93 99.40,143.14 99.50,142.38 99.60,140.86 99.70,143.87 99.80,145.51 99.90,142.72 100.00,135.82 100.10,141.70 100.20,139.90 100.30,138.49 100.40,141.32 100.50,139.22 100.60,145.24 100.70,141.04 100.80,140.22 100.90,142.56 101.00,142.59 101.10,143.74 101.20,142.02 101.30,139.94 101.40,140.44 101.50,133.34 101.60,135.45 101.70,143.16 101.80,138.92 101.90,145.49 102.00,145.44 102.10,135.99 102.20,140.79 102.30,148.71 102.40,137.35 102.50,140.97 102.60,139.02 102.70,138.97 102.80,138.82 102.90,139.61 103.00,141.99 103.10,137.13 103.20,141.14 103.30,137.39 103.40,141.16 103.50,140.49 103.60,137.09 103.70,139.90 103.80,137.17 103.90,136.81 104.00,143.00 104.10,133.75 104.20,141.07 104.30,141.50 104.40,137.47 104.50,142.63 104.60,142.05 104.70,135.23 104.80,140.82 104.90,140.62 105.00,136.87 105.10,140.90 105.20,141.42 105.30,136.85 105.40,132.90 105.50,140.27 105.60,136.71 105.70,133.67 105.80,137.77 105.90,131.58 106.00,137.86 106.10,143.51 106.20,130.05 106.30,140.25 106.40,135.95 106.50,137.51 106.60,135.94 106.70,140.70 106.80,138.68 106.90,136.27 107.00,134.62 107.10,137.32 107.20,142.17 107.30,130.40 107.40,139.85 107.50,139.59 107.60,132.33 107.70,141.91 107.80,138.35 107.90,145.35 108.00,143.80 108.10,137.63 108.20,137.90 108.30,135.24 108.40,134.08 108.50,140.78 108.60,137.52 108.70,137.03 108.80,137.73 108.90,140.35 109.00,141.14 109.10,138.20 109.20,137.58 109.30,138.49 109.40,144.58 109.50,131.69 109.60,134.53 109.70,139.59 109.80,138.56 109.90,141.91 110.00,142.16 110.10,144.22 110.20,135.59 110.30,139.97 110.40,137.32 110.50,141.07 110.60,138.63 110.70,140.81 110.80,135.76 110.90,138.58 111.00,136.47 111.10,137.27 111.20,136.68 111.30,142.72 111.40,141.58 111.50,139.04 111.60,141.53 111.70,135.07 111.80,132.11 111.90,136.19 112.00,137.75 112.10,140.70 112.20,141.55 112.30,142.08 112.40,143.10 112.50,140.62 112.60,138.73 112.70,136.05 112.80,140.58 112.90,136.94 113.00,136.03 113.10,140.38 113.20,139.29 113.30,141.30 113.40,136.47 113.50,142.35 113.60,139.88 113.70,138.29 113.80,136.52 113.90,135.58 114.00,134.74 114.10,143.33 114.20,134.67 114.30,141.05 114.40,138.38 114.50,137.42 114.60,137.78 114.70,139.00 114.80,142.13 114.90,141.13 115.00,139.44 115.10,135.28 115.20,134.07 115.30,145.34 115.40,136.55 115.50,134.88 115.60,143.21 115.70,135.20 115.80,142.14 115.90,142.77 116.00,140.73 116.10,142.97 116.20,135.80 116.30,136.37 116.40,139.58 116.50,140.22 116.60,140.02 116.70,141.76 116.80,138.13 116.90,133.92 117.00,141.73 117.10,139.85 117.20,143.08 117.30,146.99 117.40,140.94 117.50,142.52 117.60,138.07 117.70,143.62 117.80,141.95 117.90,141.72 118.00,143.80 118.10,137.62 118.20,142.83 118.30,142.56 118.40,146.06 118.50,135.79 118.60,141.06 118.70,148.04 118.80,140.20 118.90,140.16 119.00,146.95 119.10,149.19 119.20,142.00 119.30,139.54 119.40,139.96 119.50,140.61 119.60,139.30 119.70,139.47 119.80,142.49 119.90,142.13 120.00,143.51 120.10,142.20 120.20,138.52 120.30,144.45 120.40,143.02 120.50,140.58 120.60,141.57 120.70,143.41 120.80,142.73 120.90,142.15 121.00,144.90 121.10,145.85 121.20,141.76 121.30,142.69 121.40,139.48 121.50,142.35 121.60,144.34 121.70,145.56 121.80,143.52 121.90,142.81 122.00,140.98 122.10,143.82 122.20,139.96 122.30,143.66 122.40,143.39 122.50,140.68 122.60,144.42 122.70,142.86 122.80,145.34 122.90,142.16 123.00,145.09 123.10,148.36 123.20,142.41 123.30,146.16 123.40,141.96 123.50,142.86 123.60,138.36 123.70,143.57 123.80,140.72 123.90,144.46 124.00,138.06 124.10,141.68 124.20,144.53 124.30,145.49 124.40,139.48 124.50,143.21 124.60,152.08 124.70,146.88 124.80,145.07 124.90,136.51 125.00,141.98 125.10,146.29 125.20,145.50 125.30,146.20 125.40,147.74 125.50,145.25 125.60,147.53 125.70,139.80 125.80,152.48 125.90,144.30 126.00,143.33 126.10,149.69 126.20,147.11 126.30,148.24 126.40,143.62 126.50,146.31 126.60,147.62 126.70,142.26 126.80,145.00 126.90,144.98 127.00,144.89 127.10,143.75 127.20,142.16 127.30,147.15 127.40,146.66 127.50,149.37 127.60,145.85 127.70,144.14 127.80,141.92 127.90,146.44 128.00,145.34 128.10,152.15 128.20,153.01 128.30,150.97 128.40,143.81 128.50,142.43 128.60,145.84 128.70,143.98 128.80,150.74 128.90,147.00 129.00,145.53 129.10,146.71 129.20,150.43 129.30,144.11 129.40,148.29 129.50,143.10 129.60,146.37 129.70,145.10 129.80,147.95 129.90,147.53 130.00,150.58 130.10,149.14 130.20,145.46 130.30,143.43 130.40,144.93 130.50,146.08 130.60,146.69 130.70,145.20 130.80,150.52 130.90,150.12 131.00,146.71 131.10,146.10 131.20,146.87 131.30,147.46 131.40,147.55 131.50,143.03 131.60,146.45 131.70,142.37 131.80,147.84 131.90,149.69 132.00,144.78 132.10,148.30 132.20,146.12 132.30,145.92 132.40,153.48 132.50,150.47 132.60,149.34 132.70,146.78 132.80,149.19 132.90,147.52 133.00,149.37 133.10,145.58 133.20,147.94 133.30,147.06 133.40,144.22 133.50,152.98 133.60,150.55 133.70,146.07 133.80,144.19 133.90,146.30 134.00,146.02 134.10,146.69 134.20,144.19 134.30,146.13 134.40,148.65 134.50,149.65 134.60,143.01 134.70,148.55 134.80,145.83 134.90,145.71 135.00,147.75 135.10,146.76 135.20,150.63 135.30,150.67 135.40,147.90 135.50,146.99 135.60,153.76 135.70,137.42 135.80,149.93 135.90,148.46 136.00,151.70 136.10,152.94 136.20,147.51 136.30,153.98 136.40,148.58 136.50,152.05 136.60,147.65 136.70,149.28 136.80,147.87 136.90,149.22 137.00,151.98 137.10,146.74 137.20,148.41 137.30,150.75 137.40,148.00 137.50,154.88 137.60,145.32 137.70,156.31 137.80,147.58 137.90,152.07 138.00,153.85 138.10,150.91 138.20,145.62 138.30,148.58 138.40,149.71 138.50,151.09 138.60,152.25 138.70,152.65 138.80,153.62 138.90,147.03 139.00,152.35 139.10,144.92 139.20,150.09 139.30,146.79 139.40,144.87 139.50,152.23 139.60,149.67 139.70,152.46 139.80,145.48 139.90,146.49 140.00,149.54 140.10,148.01 140.20,150.03 140.30,148.16 140.40,148.94 140.50,146.77 140.60,153.36 140.70,149.02 140.80,146.70 140.90,151.75 141.00,151.23 141.10,150.51 141.20,150.54 141.30,148.87 141.40,149.59 141.50,143.95 141.60,145.74 141.70,146.63 141.80,150.74 141.90,153.28 142.00,149.53 142.10,149.25 142.20,153.03 142.30,149.00 142.40,151.76 142.50,151.16 142.60,146.39 142.70,150.84 142.80,150.55 142.90,146.88 143.00,147.19 143.10,146.55 143.20,153.71 143.30,155.72 143.40,151.92 143.50,154.25 143.60,146.35 143.70,153.82 143.80,155.35 143.90,154.38 144.00,147.45 144.10,152.95 144.20,149.69 144.30,152.92 144.40,148.26 144.50,150.04 144.60,148.46 144.70,151.30 144.80,149.73 144.90,153.03 145.00,152.24 145.10,151.13 145.20,149.91 145.30,149.19 145.40,150.02 145.50,152.05 145.60,150.36 145.70,150.80 145.80,149.91 145.90,149.80 146.00,148.20 146.10,144.91 146.20,151.56 146.30,151.53 146.40,147.37 146.50,155.20 146.60,146.84 146.70,152.72 146.80,150.70 146.90,150.87 147.00,153.10 147.10,152.51 147.20,150.08 147.30,147.13 147.40,146.69 147.50,150.53 147.60,154.30 147.70,152.40 147.80,149.92 147.90,150.91 148.00,151.87 148.10,154.69 148.20,147.94 148.30,151.98 148.40,150.77 148.50,147.95 148.60,147.25 148.70,153.46 148.80,150.91 148.90,149.44 149.00,150.28 149.10,152.68 149.20,150.27 149.30,154.38 149.40,149.31 149.50,147.88 149.60,149.71 149.70,147.46 149.80,149.06 149.90,153.35 150.00,154.66 150.10,151.73 150.20,150.55 150.30,147.54 150.40,147.29 150.50,151.02 150.60,150.47 150.70,148.44 150.80,148.80 150.90,154.26 151.00,152.71 151.10,150.16 151.20,150.64 151.30,153.49 151.40,151.00 151.50,150.66 151.60,145.73 151.70,145.42 151.80,144.82 151.90,143.88 152.00,149.98 152.10,150.91 152.20,147.64 152.30,151.22 152.40,151.22 152.50,149.80 152.60,146.00 152.70,153.94 152.80,153.76 152.90,148.44 153.00,155.30 153.10,150.14 153.20,147.88 153.30,148.90 153.40,138.91 153.50,149.06 153.60,145.65 153.70,153.10 153.80,150.89 153.90,146.23 154.00,151.58 154.10,145.34 154.20,150.44 154.30,151.32 154.40,150.20 154.50,146.95 154.60,149.71 154.70,149.51 154.80,150.18 154.90,154.06 155.00,154.63 155.10,154.32 155.20,148.28 155.30,147.97 155.40,150.07 155.50,151.20 155.60,144.40 155.70,148.34 155.80,154.89 155.90,146.62 156.00,148.00 156.10,148.08 156.20,151.34 156.30,149.83 156.40,149.12 156.50,145.87 156.60,151.67 156.70,150.01 156.80,146.02 156.90,150.07 157.00,152.15 157.10,145.97 157.20,145.77 157.30,147.21 157.40,147.61 157.50,141.68 157.60,148.35 157.70,153.03 157.80,149.09 157.90,152.77 158.00,142.14 158.10,149.68 158.20,153.78 158.30,154.28 158.40,148.62 158.50,147.73 158.60,151.03 158.70,146.65 158.80,148.97 158.90,145.40 159.00,150.19 159.10,149.97 159.20,154.41 159.30,150.93 159.40,148.14 159.50,149.69 159.60,146.41 159.70,150.02 159.80,149.34 159.90,151.07 160.00,152.47 160.10,144.42 160.20,150.79 160.30,151.91 160.40,146.59 160.50,155.09 160.60,147.88 160.70,156.63 160.80,152.00 160.90,152.50 161.00,150.57 161.10,152.59 161.20,146.94 161.30,147.56 161.40,144.36 161.50,151.26 161.60,147.79 161.70,151.82 161.80,151.38 161.90,146.00 162.00,151.64 162.10,150.40 162.20,150.23 162.30,150.93 162.40,149.57 162.50,149.66 162.60,152.54 162.70,146.83 162.80,146.23 162.90,147.45 163.00,152.44 163.10,150.88 163.20,154.86 163.30,140.89 163.40,147.49 163.50,148.22 163.60,150.21 163.70,153.18 163.80,148.90 163.90,146.55 164.00,151.74 164.10,153.72 164.20,142.17 164.30,150.97 164.40,150.15 164.50,146.96 164.60,147.95 164.70,150.09 164.80,149.33 164.90,148.53 165.00,145.92 165.10,150.01 165.20,147.30 165.30,149.41 165.40,147.49 165.50,149.98 165.60,151.24 165.70,149.77 165.80,150.95 165.90,145.12 166.00,150.37 166.10,149.86 166.20,147.23 166.30,148.53 166.40,140.99 166.50,149.19 166.60,147.77 166.70,142.44 166.80,150.36 166.90,147.06 167.00,149.67 167.10,148.17 167.20,150.23 167.30,149.07 167.40,147.98 167.50,150.20 167.60,151.17 167.70,134.37 167.80,148.81 167.90,147.00 168.00,145.50 168.10,152.45 168.20,151.44 168.30,145.65 168.40,145.40 168.50,150.98 168.60,146.78 168.70,147.63 168.80,142.84 168.90,148.15 169.00,151.82 169.10,147.17 169.20,148.15 169.30,153.55 169.40,151.01 169.50,152.59 169.60,150.26 169.70,151.91 169.80,143.53 169.90,145.97 170.00,143.51 170.10,154.84 170.20,148.85 170.30,147.93 170.40,146.07 170.50,145.29 170.60,140.02 170.70,154.82 170.80,147.97 170.90,148.38 171.00,144.04 171.10,147.98 171.20,145.77 171.30,147.89 171.40,149.94 171.50,145.61 171.60,149.04 171.70,150.70 171.80,149.70 171.90,149.16 172.00,147.70 172.10,145.06 172.20,149.62 172.30,146.79 172.40,145.13 172.50,150.20 172.60,143.12 172.70,146.23 172.80,150.18 172.90,150.68 173.00,146.72 173.10,148.01 173.20,149.43 173.30,147.58 173.40,145.46 173.50,149.05 173.60,148.23 173.70,148.03 173.80,151.05 173.90,148.60 174.00,146.29 174.10,148.14 174.20,153.47 174.30,145.46 174.40,146.81 174.50,145.17 174.60,148.63 174.70,143.74 174.80,148.88 174.90,149.81 175.00,145.16 175.10,144.91 175.20,142.96 175.30,147.58 175.40,144.04 175.50,145.52 175.60,146.12 175.70,145.29 175.80,149.90 175.90,152.20 176.00,140.85 176.10,144.84 176.20,148.06 176.30,144.07 176.40,145.63 176.50,147.89 176.60,151.48 176.70,150.80 176.80,146.30 176.90,147.58 177.00,146.05 177.10,146.61 177.20,143.53 177.30,141.68 177.40,145.97 177.50,150.08 177.60,149.41 177.70,141.30 177.80,146.44 177.90,145.08 178.00,147.88 178.10,143.59 178.20,149.78 178.30,146.31 178.40,148.71 178.50,149.62 178.60,140.88 178.70,146.21 178.80,151.55 178.90,146.91 179.00,150.07 179.10,148.12 179.20,145.25 179.30,147.66 179.40,150.04 179.50,150.77 179.60,151.25 179.70,143.27 179.80,149.29 179.90,142.40 180.00,146.27 180.10,146.01 180.20,148.61 180.30,147.62 180.40,150.52 180.50,144.69 180.60,149.23 180.70,147.80 180.80,146.58 180.90,142.79 181.00,148.33 181.10,147.52 181.20,150.22 181.30,146.39 181.40,145.70 181.50,147.72 181.60,147.94 181.70,148.64 181.80,152.42 181.90,144.52 182.00,152.76 182.10,137.14 182.20,149.47 182.30,143.87 182.40,152.75 182.50,143.65 182.60,149.78 182.70,143.33 182.80,142.88 182.90,148.96 183.00,149.17 183.10,144.25 183.20,154.00 183.30,145.45 183.40,151.36 183.50,143.28 183.60,143.45 183.70,146.76 183.80,143.31 183.90,147.92 184.00,139.77 184.10,147.07 184.20,144.76 184.30,143.53 184.40,147.20 184.50,145.86 184.60,145.16 184.70,149.11 184.80,147.52 184.90,147.79 185.00,150.76 185.10,146.41 185.20,150.56 185.30,145.37 185.40,148.57 185.50,148.33 185.60,145.02 185.70,142.04 185.80,142.79 185.90,143.85 186.00,148.50 186.10,146.38 186.20,145.90 186.30,148.30 186.40,149.10 186.50,151.16 186.60,145.05 186.70,148.59 186.80,149.09 186.90,144.02 187.00,147.34 187.10,144.17 187.20,146.30 187.30,148.30 187.40,141.84 187.50,144.38 187.60,144.60 187.70,147.36 187.80,144.86 187.90,148.25 188.00,144.53 188.10,145.59 188.20,149.01 188.30,148.15 188.40,147.67 188.50,147.11 188.60,150.27 188.70,151.41 188.80,146.16 188.90,145.11 189.00,144.19 189.10,152.55 189.20,144.66 189.30,143.40 189.40,148.19 189.50,150.56 189.60,143.73 189.70,147.07 189.80,143.17 189.90,145.40 190.00,152.36 190.10,148.02 190.20,146.76 190.30,147.77 190.40,148.41 190.50,147.28 190.60,144.08 190.70,144.12 190.80,153.60 190.90,145.40 191.00,151.22 191.10,145.58 191.20,151.56 191.30,149.79 191.40,147.13 191.50,153.69 191.60,145.04 191.70,147.12 191.80,145.31 191.90,142.82 192.00,146.80 192.10,145.08 192.20,146.95 192.30,152.54 192.40,142.85 192.50,144.29 192.60,145.19 192.70,146.63 192.80,150.95 192.90,150.12 193.00,149.44 193.10,148.66 193.20,155.04 193.30,144.83 193.40,144.78 193.50,148.06 193.60,148.75 193.70,147.49 193.80,145.76 193.90,144.43 194.00,147.43 194.10,146.21 194.20,146.88 194.30,145.17 194.40,152.15 194.50,149.61 194.60,153.65 194.70,146.88 194.80,148.54 194.90,147.68 195.00,148.47 195.10,147.70 195.20,147.97 195.30,142.84 195.40,147.71 195.50,150.47 195.60,142.98 195.70,147.55 195.80,150.18 195.90,152.16 196.00,148.35 196.10,149.90 196.20,153.59 196.30,152.31 196.40,147.39 196.50,146.98 196.60,151.57 196.70,149.34 196.80,147.21 196.90,148.10 197.00,149.66 197.10,148.23 197.20,148.10 197.30,148.16 197.40,144.67 197.50,153.71 197.60,152.29 197.70,153.12 197.80,148.54 197.90,149.28 198.00,150.55 198.10,151.25 198.20,143.91 198.30,149.99 198.40,146.26 198.50,148.84 198.60,147.22 198.70,153.79 198.80,150.58 198.90,149.04 199.00,152.97 199.10,148.95 199.20,147.17 199.30,148.67 199.40,148.20 199.50,149.35 199.60,151.54 199.70,148.93 199.80,149.09 199.90,143.19 200.00,150.09 200.10,151.91 200.20,149.70 200.30,145.80 200.40,146.31 200.50,144.87 200.60,152.50 200.70,150.54 200.80,148.15 200.90,146.76 201.00,150.44 201.10,149.12 201.20,150.36 201.30,147.23 201.40,146.53 201.50,153.78 201.60,146.99 201.70,149.44 201.80,153.19 201.90,144.67 202.00,151.50 202.10,149.82 202.20,149.26 202.30,150.39 202.40,146.50 202.50,143.74 202.60,154.76 202.70,148.96 202.80,152.11 202.90,152.70 203.00,150.53 203.10,150.99 203.20,151.69 203.30,154.00 203.40,151.13 203.50,153.19 203.60,149.08 203.70,148.74 203.80,150.10 203.90,150.95 204.00,151.32 204.10,155.07 204.20,152.15 204.30,150.12 204.40,155.20 204.50,150.84 204.60,150.93 204.70,151.30 204.80,149.14 204.90,147.16 205.00,150.39 205.10,149.24 205.20,147.81 205.30,150.40 205.40,149.58 205.50,148.56 205.60,145.48 205.70,149.70 205.80,154.74 205.90,152.48 206.00,153.00 206.10,150.14 206.20,152.95 206.30,148.47 206.40,149.05 206.50,151.59 206.60,146.56 206.70,150.42 206.80,151.07 206.90,154.67 207.00,148.51 207.10,151.42 207.20,148.66 207.30,148.95 207.40,143.41 207.50,147.96 207.60,153.36 207.70,151.74 207.80,150.83 207.90,156.77 208.00,151.84 208.10,147.29 208.20,149.96 208.30,150.34 208.40,154.62 208.50,148.22 208.60,151.62 208.70,153.05 208.80,148.49 208.90,150.80 209.00,145.46 209.10,150.86 209.20,145.01 209.30,149.65 209.40,155.02 209.50,151.70 209.60,150.80 209.70,151.07 209.80,156.16 209.90,152.11 210.00,153.36 210.10,149.63 210.20,149.66 210.30,148.13 210.40,150.34 210.50,149.03 210.60,153.29 210.70,152.44 210.80,150.54 210.90,149.48 211.00,143.59 211.10,149.39 211.20,151.65 211.30,152.56 211.40,143.19 211.50,144.92 211.60,151.34 211.70,148.37 211.80,150.42 211.90,149.80 212.00,152.46 212.10,146.38 212.20,149.60 212.30,153.38 212.40,151.56 212.50,149.00 212.60,152.20 212.70,151.80 212.80,148.90 212.90,152.83 213.00,152.80 213.10,151.60 213.20,153.48 213.30,148.28 213.40,153.07 213.50,150.72 213.60,148.90 213.70,149.76 213.80,154.11 213.90,149.89 214.00,150.41 214.10,149.67 214.20,149.35 214.30,153.66 214.40,156.74 214.50,154.61 214.60,152.59 214.70,153.21 214.80,150.53 214.90,150.18 215.00,148.54 215.10,154.92 215.20,150.60 215.30,149.70 215.40,149.91 215.50,151.93 215.60,150.15 215.70,151.54 215.80,151.91 215.90,154.76 216.00,148.53 216.10,152.27 216.20,149.88 216.30,150.54 216.40,155.50 216.50,153.11 216.60,150.69 216.70,152.81 216.80,151.60 216.90,154.33 217.00,150.50 217.10,152.86 217.20,151.20 217.30,151.74 217.40,151.36 217.50,150.26 217.60,152.01 217.70,154.11 217.80,150.34 217.90,150.87 218.00,152.69 218.10,154.46 218.20,153.91 218.30,153.53 218.40,146.42 218.50,150.33 218.60,149.33 218.70,153.87 218.80,154.14 218.90,149.10 219.00,150.33 219.10,151.77 219.20,151.10 219.30,153.68 219.40,154.31 219.50,153.41 219.60,154.59 219.70,154.24 219.80,151.89 219.90,151.05 220.00,150.35 220.10,154.01 220.20,154.19 220.30,154.50 220.40,151.37 220.50,151.24 220.60,152.78 220.70,155.10 220.80,153.02 220.90,152.73 221.00,150.30 221.10,153.26 221.20,153.50 221.30,150.06 221.40,156.34 221.50,150.16 221.60,154.45 221.70,151.85 221.80,152.70 221.90,150.53 222.00,151.06 222.10,153.98 222.20,151.94 222.30,150.71 222.40,154.45 222.50,154.06 222.60,152.82 222.70,152.98 222.80,156.40 222.90,152.09 223.00,153.38 223.10,153.48 223.20,149.32 223.30,148.12 223.40,152.83 223.50,154.53 223.60,153.03 223.70,151.37 223.80,151.10 223.90,154.45 224.00,151.94 224.10,148.98 224.20,154.18 224.30,151.36 224.40,153.52 224.50,155.02 224.60,155.67 224.70,153.96 224.80,152.31 224.90,147.95 225.00,153.39 225.10,152.40 225.20,155.71 225.30,155.63 225.40,153.84 225.50,155.85 225.60,152.62 225.70,152.70 225.80,150.91 225.90,152.12 226.00,153.29 226.10,155.20 226.20,151.20 226.30,154.64 226.40,158.08 226.50,149.86 226.60,152.29 226.70,152.92 226.80,155.12 226.90,157.32 227.00,155.65 227.10,152.83 227.20,151.02 227.30,152.80 227.40,152.84 227.50,153.48 227.60,150.96 227.70,156.33 227.80,151.35 227.90,154.47 228.00,153.44 228.10,150.54 228.20,153.12 228.30,153.03 228.40,152.57 228.50,154.78 228.60,151.95 228.70,158.64 228.80,155.51 228.90,150.99 229.00,147.52 229.10,155.80 229.20,153.59 229.30,153.22 229.40,150.89 229.50,149.87 229.60,148.94 229.70,158.72 229.80,156.61 229.90,151.85 230.00,157.21 230.10,149.00 230.20,155.41 230.30,154.65 230.40,151.20 230.50,152.10 230.60,150.81 230.70,153.20 230.80,156.01 230.90,155.31 231.00,154.05 231.10,155.59 231.20,149.21 231.30,157.59 231.40,153.04 231.50,150.26 231.60,152.32 231.70,151.74 231.80,153.38 231.90,153.86 232.00,148.05 232.10,155.95 232.20,156.99 232.30,150.92 232.40,156.44 232.50,155.97 232.60,155.44 232.70,156.80 232.80,150.18 232.90,154.82 233.00,151.02 233.10,158.43 233.20,151.12 233.30,150.57 233.40,155.72 233.50,154.62 233.60,153.33 233.70,153.57 233.80,154.62 233.90,157.07 234.00,151.73 234.10,152.07 234.20,152.04 234.30,153.14 234.40,153.34 234.50,150.50 234.60,153.98 234.70,150.56 234.80,152.65 234.90,152.79 235.00,152.81 235.10,156.59 235.20,156.93 235.30,155.71 235.40,156.82 235.50,152.75 235.60,156.45 235.70,153.27 235.80,153.88 235.90,153.99 236.00,150.49 236.10,152.08 236.20,153.06 236.30,154.21 236.40,153.14 236.50,151.57 236.60,150.91 236.70,153.46 236.80,150.87 236.90,150.89 237.00,153.23 237.10,153.85 237.20,151.66 237.30,149.61 237.40,154.10 237.50,155.25 237.60,152.60 237.70,152.68 237.80,148.46 237.90,155.46 238.00,151.14 238.10,155.07 238.20,152.25 238.30,153.22 238.40,153.13 238.50,149.65 238.60,159.48 238.70,150.17 238.80,153.79 238.90,151.81 239.00,153.05 239.10,156.54 239.20,149.56 239.30,153.27 239.40,154.65 239.50,153.85 239.60,154.45 239.70,151.99 239.80,150.08 239.90,150.80 240.00,152.74 240.10,155.22 240.20,153.81 240.30,157.08 240.40,153.86 240.50,154.06 240.60,154.08 240.70,149.95 240.80,154.90 240.90,151.29 241.00,152.87 241.10,158.70 241.20,151.05 241.30,153.95 241.40,154.32 241.50,153.98 241.60,153.72 241.70,152.53 241.80,157.97 241.90,149.45 242.00,151.55 242.10,156.90 242.20,154.91 242.30,152.12 242.40,151.85 242.50,153.23 242.60,159.38 242.70,154.82 242.80,151.59 242.90,154.29 243.00,152.46 243.10,156.98 243.20,154.43 243.30,156.48 243.40,154.15 243.50,158.14 243.60,154.70 243.70,154.42 243.80,151.68 243.90,152.95 244.00,154.67 244.10,152.80 244.20,159.11 244.30,153.84 244.40,152.26 244.50,155.96 244.60,152.76 244.70,154.74 244.80,153.70 244.90,152.38 245.00,156.83 245.10,154.10 245.20,156.20 245.30,153.21 245.40,150.93 245.50,151.32 245.60,152.85 245.70,153.56 245.80,154.07 245.90,155.03 246.00,151.35 246.10,154.45 246.20,151.42 246.30,152.55 246.40,159.35 246.50,156.65 246.60,153.24 246.70,157.75 246.80,156.97 246.90,155.87 247.00,157.08 247.10,153.51 247.20,153.77 247.30,152.24 247.40,155.26 247.50,151.43 247.60,153.00 247.70,155.01 247.80,153.01 247.90,154.79 248.00,157.87 248.10,152.03 248.20,157.00 248.30,152.67 248.40,152.16 248.50,154.57 248.60,156.24 248.70,152.63 248.80,152.61 248.90,153.21 249.00,152.64 249.10,154.52 249.20,152.66 249.30,153.62 249.40,154.88 249.50,153.29 249.60,156.54 249.70,152.77 249.80,152.58 249.90,158.38 250.00,157.29 250.10,154.33 250.20,155.90 250.30,154.90 250.40,153.15 250.50,155.60 250.60,154.83 250.70,156.85 250.80,150.42 250.90,155.88 251.00,154.57 251.10,152.81 251.20,153.35 251.30,153.40 251.40,151.52 251.50,153.06 251.60,155.85 251.70,151.13 251.80,153.48 251.90,149.40"/>
<rect x="28.5" y="3" width="224.0" height="157.2" fill="none" stroke="#222" stroke-width="1.5"/>
<line x1="56.40" y1="160.2" x2="56.40" y2="163.2" stroke="#222" stroke-width="1.1"/>
<line x1="112.00" y1="160.2" x2="112.00" y2="163.2" stroke="#222" stroke-width="1.1"/>
<line x1="167.60" y1="160.2" x2="167.60" y2="163.2" stroke="#222" stroke-width="1.1"/>
<line x1="223.20" y1="160.2" x2="223.20" y2="163.2" stroke="#222" stroke-width="1.1"/>
<line x1="84.20" y1="160.2" x2="84.20" y2="162.7" stroke="#222" stroke-width="1.1"/>
<line x1="139.80" y1="160.2" x2="139.80" y2="162.7" stroke="#222" stroke-width="1.1"/>
<line x1="195.40" y1="160.2" x2="195.40" y2="162.7" stroke="#222" stroke-width="1.1"/>
<text x="56.4" y="172.5" font-size="8.8" fill="#111" text-anchor="middle" font-family='"Liberation Sans", sans-serif' >20</text>
<text x="112.0" y="172.5" font-size="8.8" fill="#111" text-anchor="middle" font-family='"Liberation Sans", sans-serif' >40</text>
<text x="167.6" y="172.5" font-size="8.8" fill="#111" text-anchor="middle" font-family='"Liberation Sans", sans-serif' >60</text>
<text x="223.2" y="172.5" font-size="8.8" fill="#111" text-anchor="middle" font-family='"Liberation Sans", sans-serif' >80</text>
<text x="140.5" y="189.5" font-size="9" fill="#222" text-anchor="middle" font-family='"Liberation Sans", sans-serif'>2θ <tspan fill="#888">/°</tspan></text>
<text x="12" y="81.2" font-size="9" fill="#111" text-anchor="middle" font-family='"Liberation Sans", sans-serif' transform="rotate(-90 12 81.2)">Intensity / a.u.</text>
<line x1="191" y1="11.2" x2="207.5" y2="11.2" stroke="#999" stroke-width="1"/>
<text x="210" y="13.799999999999999" font-size="7.3" fill="#222" text-anchor="start" font-family='"Liberation Sans", sans-serif' >P</text>
<line x1="191" y1="20.4" x2="207.5" y2="20.4" stroke="#ff3030" stroke-width="1"/>
<text x="210" y="23.0" font-size="7.3" fill="#222" text-anchor="start" font-family='"Liberation Sans", sans-serif' >P/rGO</text>
<line x1="191" y1="29.599999999999998" x2="207.5" y2="29.599999999999998" stroke="#a0a0ff" stroke-width="1"/>
<text x="210" y="32.199999999999996" font-size="7.3" fill="#222" text-anchor="start" font-family='"Liberation Sans", sans-serif' >P/rGO-C<tspan font-size="4.5" dy="1.5">3</tspan><tspan dy="-1.5">N</tspan><tspan font-size="4.5" dy="1.5">4</tspan></text>
<text x="289.3" y="14.5" font-size="17.5" fill="#000" text-anchor="start" font-family='"Liberation Serif", serif' >(b)</text>
<rect x="315.5" y="2.8" width="216.20000000000005" height="155.79999999999998" fill="none" stroke="#333" stroke-width="1.2"/>
<line x1="315.50" y1="158.6" x2="315.50" y2="161.6" stroke="#333" stroke-width="1.0"/>
<line x1="363.50" y1="158.6" x2="363.50" y2="161.6" stroke="#333" stroke-width="1.0"/>
<line x1="411.50" y1="158.6" x2="411.50" y2="161.6" stroke="#333" stroke-width="1.0"/>
<line x1="459.50" y1="158.6" x2="459.50" y2="161.6" stroke="#333" stroke-width="1.0"/>
<line x1="507.50" y1="158.6" x2="507.50" y2="161.6" stroke="#333" stroke-width="1.0"/>
<line x1="339.50" y1="158.6" x2="339.50" y2="160.6" stroke="#333" stroke-width="1.0"/>
<line x1="387.50" y1="158.6" x2="387.50" y2="160.6" stroke="#333" stroke-width="1.0"/>
<line x1="435.50" y1="158.6" x2="435.50" y2="160.6" stroke="#333" stroke-width="1.0"/>
<line x1="483.50" y1="158.6" x2="483.50" y2="160.6" stroke="#333" stroke-width="1.0"/>
<line x1="531.50" y1="158.6" x2="531.50" y2="160.6" stroke="#333" stroke-width="1.0"/>
<text x="315.5" y="169.3" font-size="7" fill="#333" text-anchor="middle" font-family='"Liberation Sans", sans-serif' >0</text>
<text x="363.5" y="169.3" font-size="7" fill="#333" text-anchor="middle" font-family='"Liberation Sans", sans-serif' >200</text>
<text x="411.5" y="169.3" font-size="7" fill="#333" text-anchor="middle" font-family='"Liberation Sans", sans-serif' >400</text>
<text x="459.5" y="169.3" font-size="7" fill="#333" text-anchor="middle" font-family='"Liberation Sans", sans-serif' >600</text>
<text x="507.5" y="169.3" font-size="7" fill="#333" text-anchor="middle" font-family='"Liberation Sans", sans-serif' >800</text>
<text x="422.5" y="183" font-size="8.2" fill="#222" text-anchor="middle" font-family='"Liberation Sans", sans-serif' >Binding energy / eV</text>
<text x="299.8" y="85.5" font-size="8.8" fill="#444" text-anchor="middle" font-family='"Liberation Sans", sans-serif' transform="rotate(-90 299.8 85.5)">Intensity / a.u.</text>
<clipPath id="cb"><rect x="316" y="3.3" width="215.20000000000005" height="154.7"/></clipPath>
<polyline fill="none" stroke="#111" stroke-width="0.95" stroke-opacity="1.0" stroke-linejoin="round" clip-path="url(#cb)" points="316.50,155.66 316.50,155.30 316.80,154.94 317.10,155.64 317.40,154.83 317.70,156.00 318.00,155.70 318.30,155.09 318.60,155.11 318.90,154.57 319.20,155.24 319.50,155.66 319.80,155.46 320.10,155.16 320.40,155.94 320.70,155.43 321.00,155.37 321.30,155.13 321.60,155.42 321.90,156.11 322.20,155.37 322.50,154.65 322.80,155.28 323.10,155.85 323.40,155.60 323.70,155.02 324.00,155.31 324.30,154.69 324.60,155.40 324.90,154.88 325.20,154.99 325.50,154.97 325.80,154.92 326.10,155.73 326.40,155.65 326.70,155.05 327.00,155.18 327.30,155.71 327.60,155.04 327.90,154.98 328.20,154.84 328.50,155.65 328.80,155.17 329.10,155.12 329.40,154.97 329.70,154.80 330.00,155.10 330.00,155.42 330.30,154.83 330.60,154.91 330.90,154.51 331.20,154.69 331.50,154.88 331.80,154.88 332.10,154.53 332.40,154.83 332.70,154.98 333.00,154.13 333.30,155.21 333.60,154.91 333.90,154.54 334.20,154.89 334.50,155.12 334.80,154.96 335.10,154.97 335.40,154.95 335.70,155.16 336.00,154.47 336.30,154.73 336.60,155.05 336.90,154.92 337.20,154.54 337.50,154.80 337.80,154.65 338.10,154.88 338.40,154.31 338.70,154.31 339.00,154.36 339.30,154.80 339.60,155.67 339.90,155.16 340.20,155.23 340.50,154.81 340.80,155.34 341.10,154.91 341.40,154.81 341.70,155.15 342.00,154.36 342.30,154.02 342.60,154.35 342.90,155.22 343.20,155.04 343.50,154.79 343.80,154.64 344.10,154.65 344.40,154.84 344.70,154.40 344.80,154.70 345.00,154.05 345.30,152.11 345.40,152.00 345.60,150.62 345.90,147.31 346.10,145.60 346.20,145.94 346.50,148.12 346.80,149.87 347.00,151.50 347.10,151.57 347.40,151.36 347.70,152.17 348.00,152.72 348.30,153.18 348.50,153.30 348.60,153.07 348.90,153.35 349.20,152.10 349.50,152.33 349.80,151.98 350.10,151.87 350.40,151.52 350.70,151.81 351.00,151.08 351.30,150.50 351.60,151.39 351.90,150.29 352.00,150.20 352.20,150.09 352.50,150.39 352.80,149.82 353.10,149.88 353.40,150.19 353.70,149.43 354.00,149.62 354.30,150.03 354.60,150.25 354.90,149.55 355.20,149.48 355.50,149.82 355.80,148.89 356.10,149.09 356.40,148.99 356.70,148.50 357.00,148.15 357.30,148.94 357.60,149.32 357.90,149.18 358.20,149.32 358.50,147.89 358.80,148.71 359.10,149.15 359.40,148.34 359.60,148.60 359.70,147.10 360.00,144.51 360.30,141.25 360.40,140.20 360.60,141.52 360.90,142.96 361.20,145.05 361.50,146.30 361.50,146.53 361.80,146.60 362.10,146.60 362.40,147.19 362.70,146.95 363.00,147.40 363.00,147.72 363.30,147.69 363.60,147.53 363.90,146.69 364.20,147.18 364.50,147.07 364.80,147.15 365.10,146.23 365.40,146.47 365.70,146.56 366.00,146.97 366.30,146.20 366.60,146.62 366.90,146.27 367.20,146.79 367.50,146.15 367.80,145.40 368.10,145.77 368.40,145.86 368.70,146.12 369.00,145.82 369.30,145.41 369.60,144.98 369.90,145.34 370.00,145.30 370.20,145.22 370.50,145.66 370.80,145.47 371.10,144.61 371.40,144.24 371.70,144.84 372.00,145.02 372.30,144.54 372.60,144.64 372.90,145.17 373.20,144.96 373.50,144.06 373.80,144.72 374.10,144.60 374.40,144.42 374.70,144.63 375.00,144.58 375.30,145.18 375.60,144.35 375.90,143.97 376.20,143.99 376.50,144.35 376.80,144.72 377.10,144.21 377.40,144.13 377.70,143.98 378.00,143.68 378.30,143.81 378.60,143.31 378.90,143.93 379.20,143.78 379.50,143.62 379.80,143.21 380.10,143.36 380.40,143.20 380.70,143.45 381.00,143.19 381.30,143.36 381.50,143.20 381.60,143.35 381.90,142.95 382.20,141.66 382.50,141.50 382.50,141.38 382.80,101.56 383.10,62.80 383.30,36.00 383.40,45.93 383.70,77.35 384.00,107.38 384.20,128.00 384.30,129.47 384.60,132.31 384.90,135.80 385.00,137.00 385.20,136.51 385.50,135.70 385.80,134.81 386.10,134.29 386.40,133.68 386.50,133.00 386.70,132.62 387.00,131.16 387.30,129.69 387.60,129.35 387.90,127.34 388.20,127.54 388.50,126.52 388.80,125.30 388.80,124.88 389.10,125.54 389.40,125.15 389.70,125.86 390.00,125.20 390.30,125.22 390.60,125.32 390.90,125.67 391.00,125.60 391.20,125.29 391.50,126.50 391.80,125.67 392.10,126.48 392.40,125.86 392.70,125.92 393.00,125.86 393.30,125.92 393.60,126.41 393.90,126.75 394.20,126.45 394.50,126.18 394.80,126.64 395.10,126.37 395.40,125.80 395.70,126.84 396.00,126.27 396.30,126.73 396.60,127.04 396.90,126.96 397.20,127.08 397.50,127.78 397.80,127.65 398.10,127.92 398.40,127.55 398.70,127.63 399.00,128.24 399.30,127.49 399.60,127.90 399.90,127.90 400.20,128.04 400.50,128.22 400.80,128.13 401.10,128.44 401.40,127.95 401.70,128.49 402.00,128.03 402.30,128.84 402.60,128.88 402.90,128.55 403.20,128.52 403.50,128.76 403.80,129.04 404.00,128.90 404.10,128.39 404.40,128.61 404.70,129.32 405.00,128.96 405.30,128.64 405.60,128.36 405.90,129.01 406.20,128.60 406.50,129.29 406.80,129.26 407.10,129.96 407.40,128.94 407.70,129.63 408.00,129.04 408.30,129.14 408.60,129.47 408.90,129.29 409.00,129.60 409.20,130.08 409.50,129.24 409.80,128.80 410.10,129.65 410.40,128.39 410.50,128.60 410.70,128.62 411.00,128.92 411.30,128.96 411.60,129.67 411.90,130.11 412.00,129.80 412.20,129.45 412.50,129.87 412.80,130.06 413.10,129.86 413.40,130.04 413.70,130.51 414.00,130.48 414.30,131.04 414.60,131.36 414.90,131.30 415.20,131.48 415.50,131.22 415.80,131.48 416.10,131.97 416.40,132.18 416.70,132.10 416.80,132.20 417.00,132.39 417.30,132.17 417.60,131.90 417.90,132.44 418.20,132.23 418.50,131.84 418.80,132.74 419.10,132.63 419.40,132.78 419.70,132.42 420.00,133.12 420.30,132.82 420.60,133.03 420.90,132.52 421.20,132.68 421.50,133.26 421.80,132.85 422.10,132.91 422.40,133.45 422.70,133.38 423.00,133.10 423.30,133.71 423.60,132.61 423.90,133.13 424.20,133.01 424.50,133.73 424.80,133.81 425.10,133.15 425.40,133.41 425.70,133.71 426.00,133.61 426.30,133.57 426.60,133.86 426.90,134.22 427.20,133.64 427.50,133.27 427.80,133.65 428.10,133.71 428.40,133.64 428.70,134.04 429.00,134.10 429.30,134.20 429.60,134.09 429.90,134.06 430.00,134.00 430.20,133.68 430.50,133.95 430.80,133.83 431.10,134.27 431.40,134.17 431.70,134.25 432.00,134.48 432.30,134.26 432.60,134.76 432.90,134.80 433.20,134.18 433.50,134.99 433.80,134.48 434.10,134.40 434.40,134.59 434.70,134.32 435.00,134.90 435.30,135.24 435.60,134.38 435.90,135.07 436.20,135.17 436.50,135.25 436.80,135.29 437.10,135.27 437.40,135.02 437.70,135.52 438.00,135.38 438.30,135.58 438.60,135.47 438.90,135.32 439.20,135.44 439.50,135.71 439.80,135.90 440.00,135.60 440.10,134.94 440.40,135.13 440.70,134.98 441.00,135.32 441.30,135.25 441.60,135.51 441.90,135.32 442.20,135.84 442.30,135.40 442.50,128.20 442.80,117.70 443.10,107.19 443.40,97.00 443.40,96.89 443.70,106.94 444.00,116.62 444.30,126.38 444.40,130.00 444.60,130.42 444.90,132.27 445.20,133.36 445.30,134.00 445.50,133.23 445.80,132.81 446.10,132.37 446.40,132.29 446.70,131.50 447.00,130.01 447.30,129.51 447.60,128.36 447.90,127.71 448.20,127.10 448.50,127.37 448.80,126.37 449.00,126.00 449.10,125.53 449.40,125.89 449.70,126.05 450.00,126.10 450.30,126.90 450.60,125.87 450.90,126.46 451.20,126.80 451.50,126.98 451.80,126.19 452.10,127.08 452.40,126.70 452.70,127.02 453.00,126.79 453.30,127.67 453.60,128.55 453.90,127.95 454.20,127.62 454.50,127.23 454.80,128.21 455.00,128.00 455.10,128.39 455.40,127.64 455.70,128.34 456.00,127.45 456.30,127.64 456.60,128.14 456.90,127.65 457.20,128.38 457.50,128.63 457.80,128.19 458.10,128.36 458.40,128.75 458.70,128.41 459.00,128.69 459.30,128.75 459.60,127.95 459.90,129.05 460.20,128.73 460.50,128.41 460.80,128.65 461.10,128.50 461.40,128.50 461.70,128.11 462.00,128.33 462.30,128.37 462.60,128.86 462.90,128.68 463.20,128.68 463.50,128.52 463.80,129.00 464.10,127.79 464.40,128.32 464.70,128.96 465.00,128.53 465.30,128.90 465.60,129.23 465.90,128.99 466.20,128.25 466.50,128.69 466.80,128.40 467.10,128.96 467.40,129.17 467.70,128.76 468.00,129.03 468.30,128.82 468.60,129.54 468.90,128.97 469.20,129.02 469.50,129.15 469.80,129.34 470.00,129.00 470.10,129.24 470.40,129.05 470.70,129.12 471.00,129.32 471.30,129.40 471.60,129.12 471.90,129.10 472.20,129.26 472.50,129.54 472.80,129.28 473.10,129.12 473.40,129.41 473.70,129.41 474.00,129.82 474.30,129.49 474.60,129.57 474.90,130.38 475.20,129.95 475.50,129.54 475.80,130.29 476.10,129.82 476.40,129.72 476.70,130.25 477.00,129.61 477.30,130.10 477.60,130.36 477.90,130.46 478.20,130.09 478.50,130.14 478.80,130.33 479.10,130.80 479.40,129.85 479.70,130.77 480.00,130.64 480.30,131.04 480.60,130.26 480.90,131.06 481.20,130.44 481.50,130.87 481.80,130.69 482.10,130.05 482.40,130.89 482.70,131.09 483.00,131.00 483.00,131.29 483.30,130.85 483.60,130.72 483.90,131.40 484.20,131.10 484.50,131.61 484.80,131.79 485.10,131.30 485.40,131.37 485.70,131.24 486.00,130.86 486.30,131.58 486.60,131.88 486.90,132.04 487.20,131.74 487.50,132.41 487.80,131.68 488.10,131.90 488.40,131.78 488.70,131.86 489.00,131.97 489.30,131.89 489.60,132.03 489.90,132.32 490.20,132.31 490.50,131.98 490.80,132.55 491.10,132.16 491.40,132.64 491.70,132.56 492.00,131.95 492.30,132.30 492.60,133.01 492.90,132.54 493.20,132.59 493.50,132.71 493.80,132.95 494.10,133.16 494.40,132.92 494.70,133.63 495.00,132.93 495.30,133.02 495.60,133.17 495.90,133.34 496.20,133.82 496.50,134.17 496.80,133.33 497.10,133.44 497.40,133.76 497.70,133.56 498.00,133.94 498.30,133.35 498.60,134.04 498.90,133.08 499.20,134.04 499.50,134.14 499.80,134.80 500.00,134.00 500.10,133.72 500.40,134.30 500.70,134.33 501.00,133.84 501.30,134.29 501.60,133.96 501.90,133.90 502.20,133.83 502.50,134.31 502.80,134.07 503.10,133.77 503.40,134.61 503.70,133.98 504.00,134.84 504.30,134.73 504.60,134.42 504.90,134.21 505.20,134.48 505.50,134.37 505.80,134.74 506.10,134.79 506.40,135.79 506.70,134.30 507.00,134.85 507.30,135.28 507.60,135.49 507.90,135.64 508.20,134.90 508.50,135.55 508.80,134.35 509.10,135.29 509.40,135.70 509.70,135.70 510.00,135.02 510.30,135.26 510.60,134.86 510.90,135.38 511.20,135.21 511.50,135.82 511.80,135.51 512.10,136.02 512.40,135.82 512.70,135.79 513.00,136.55 513.30,136.39 513.60,135.59 513.90,136.55 514.20,136.39 514.50,136.62 514.80,136.37 515.10,135.65 515.40,136.18 515.70,135.53 516.00,135.92 516.30,136.21 516.60,136.92 516.90,136.55 517.20,136.65 517.50,136.87 517.80,136.36 518.10,137.09 518.40,136.83 518.70,136.48 519.00,136.65 519.30,136.81 519.60,137.15 519.90,137.47 520.00,137.00 520.20,136.92 520.50,136.99 520.80,137.73 521.10,138.25 521.40,137.82 521.70,137.31 522.00,137.17 522.30,137.57 522.60,137.48 522.90,137.15 523.20,137.93 523.50,138.37 523.80,137.26 524.10,137.32 524.40,137.46 524.70,137.25 525.00,138.00 525.30,137.28 525.60,138.04 525.90,137.99 526.20,138.16 526.50,137.44 526.80,138.04 527.10,138.12 527.40,138.38 527.70,138.25 528.00,137.96 528.30,138.60 528.60,138.72 528.90,138.76 529.20,138.08 529.50,138.56 529.80,138.11 530.10,138.41 530.40,138.77 530.70,138.06 531.00,138.60 531.00,139.55"/>
<text x="385.7" y="31.6" font-size="8.3" fill="#111" text-anchor="middle" font-family='"Liberation Sans", sans-serif' stroke="#111" stroke-width="0.15">C1s</text>
<text x="346.2" y="143.8" font-size="8.3" fill="#111" text-anchor="middle" font-family='"Liberation Sans", sans-serif' stroke="#111" stroke-width="0.15">P2p</text>
<text x="361.7" y="137.5" font-size="8.3" fill="#111" text-anchor="middle" font-family='"Liberation Sans", sans-serif' stroke="#111" stroke-width="0.15">P2s</text>
<text x="412" y="126.8" font-size="8.3" fill="#111" text-anchor="middle" font-family='"Liberation Sans", sans-serif' stroke="#111" stroke-width="0.15">N1s</text>
<text x="445.5" y="92.6" font-size="8.3" fill="#111" text-anchor="middle" font-family='"Liberation Sans", sans-serif' stroke="#111" stroke-width="0.15">O1s</text>
<text x="-0.7" y="206.2" font-size="17.5" fill="#000" text-anchor="start" font-family='"Liberation Serif", serif' >(c)</text>
<rect x="26.6" y="193" width="225.1" height="159.39999999999998" fill="none" stroke="#222" stroke-width="1.4"/>
<line x1="26.30" y1="352.4" x2="26.30" y2="355.4" stroke="#222" stroke-width="1.0"/>
<line x1="100.25" y1="352.4" x2="100.25" y2="355.4" stroke="#222" stroke-width="1.0"/>
<line x1="174.20" y1="352.4" x2="174.20" y2="355.4" stroke="#222" stroke-width="1.0"/>
<line x1="248.15" y1="352.4" x2="248.15" y2="355.4" stroke="#222" stroke-width="1.0"/>
<line x1="63.27" y1="352.4" x2="63.27" y2="354.9" stroke="#222" stroke-width="1.0"/>
<line x1="137.22" y1="352.4" x2="137.22" y2="354.9" stroke="#222" stroke-width="1.0"/>
<line x1="211.18" y1="352.4" x2="211.18" y2="354.9" stroke="#222" stroke-width="1.0"/>
<text x="26.3" y="364.8" font-size="8.8" fill="#111" text-anchor="middle" font-family='"Liberation Sans", sans-serif' >125</text>
<text x="100.2" y="364.8" font-size="8.8" fill="#111" text-anchor="middle" font-family='"Liberation Sans", sans-serif' >130</text>
<text x="174.2" y="364.8" font-size="8.8" fill="#111" text-anchor="middle" font-family='"Liberation Sans", sans-serif' >135</text>
<text x="248.2" y="364.8" font-size="8.8" fill="#111" text-anchor="middle" font-family='"Liberation Sans", sans-serif' >140</text>
<text x="139" y="379.8" font-size="8.5" fill="#222" text-anchor="middle" font-family='"Liberation Sans", sans-serif' >Binding energy / eV</text>
<text x="10.8" y="278.4" font-size="9" fill="#222" text-anchor="middle" font-family='"Liberation Sans", sans-serif' transform="rotate(-90 10.8 278.4)">Intensity / a.u.</text>
<text x="35" y="208.5" font-size="8.5" fill="#111" stroke="#111" stroke-width="0.15" font-family='"Liberation Serif", serif'>P2p</text>
<clipPath id="cc"><rect x="27.2" y="193.6" width="223.9" height="158.20000000000002"/></clipPath>
<polyline fill="none" stroke="#9020ff" stroke-width="1.2" stroke-opacity="1.0" stroke-linejoin="round" clip-path="url(#cc)" points="27.50,332.76 28.00,332.76 28.50,332.76 29.00,332.76 29.50,332.76 30.00,332.76 30.50,332.75 31.00,332.75 31.50,332.75 32.00,332.75 32.50,332.75 33.00,332.75 33.50,332.75 34.00,332.74 34.50,332.74 35.00,332.74 35.50,332.74 36.00,332.74 36.50,332.74 37.00,332.73 37.50,332.73 38.00,332.73 38.50,332.73 39.00,332.73 39.50,332.72 40.00,332.72 40.50,332.72 41.00,332.72 41.50,332.71 42.00,332.71 42.50,332.71 43.00,332.71 43.50,332.70 44.00,332.70 44.50,332.70 45.00,332.70 45.50,332.69 46.00,332.69 46.50,332.69 47.00,332.68 47.50,332.68 48.00,332.68 48.50,332.67 49.00,332.67 49.50,332.67 50.00,332.66 50.50,332.66 51.00,332.65 51.50,332.65 52.00,332.65 52.50,332.64 53.00,332.64 53.50,332.63 54.00,332.63 54.50,332.62 55.00,332.62 55.50,332.61 56.00,332.61 56.50,332.60 57.00,332.60 57.50,332.59 58.00,332.59 58.50,332.58 59.00,332.57 59.50,332.57 60.00,332.56 60.50,332.55 61.00,332.55 61.50,332.54 62.00,332.53 62.50,332.53 63.00,332.52 63.50,332.51 64.00,332.50 64.50,332.49 65.00,332.49 65.50,332.48 66.00,332.47 66.50,332.46 67.00,332.45 67.50,332.44 68.00,332.43 68.50,332.42 69.00,332.41 69.50,332.40 70.00,332.39 70.50,332.38 71.00,332.36 71.50,332.35 72.00,332.34 72.50,332.33 73.00,332.31 73.50,332.30 74.00,332.29 74.50,332.27 75.00,332.26 75.50,332.24 76.00,332.23 76.50,332.21 77.00,332.20 77.50,332.18 78.00,332.17 78.50,332.15 79.00,332.13 79.50,332.11 80.00,332.09 80.50,332.08 81.00,332.06 81.50,332.04 82.00,332.02 82.50,332.00 83.00,331.97 83.50,331.95 84.00,331.93 84.50,331.91 85.00,331.88 85.50,331.86 86.00,331.84 86.50,331.81 87.00,331.79 87.50,331.76 88.00,331.73 88.50,331.71 89.00,331.68 89.50,331.65 90.00,331.62 90.50,331.59 91.00,331.56 91.50,331.53 92.00,331.50 92.50,331.46 93.00,331.43 93.50,331.40 94.00,331.36 94.50,331.33 95.00,331.29 95.50,331.25 96.00,331.22 96.50,331.18 97.00,331.14 97.50,331.10 98.00,331.06 98.50,331.02 99.00,330.98 99.50,330.93 100.00,330.89 100.50,330.84 101.00,330.80 101.50,330.75 102.00,330.71 102.50,330.66 103.00,330.61 103.50,330.56 104.00,330.51 104.50,330.46 105.00,330.41 105.50,330.35 106.00,330.30 106.50,330.25 107.00,330.19 107.50,330.14 108.00,330.08 108.50,330.02 109.00,329.96 109.50,329.90 110.00,329.85 110.50,329.78 111.00,329.72 111.50,329.66 112.00,329.60 112.50,329.54 113.00,329.47 113.50,329.41 114.00,329.34 114.50,329.28 115.00,329.21 115.50,329.14 116.00,329.07 116.50,329.01 117.00,328.94 117.50,328.87 118.00,328.80 118.50,328.73 119.00,328.66 119.50,328.59 120.00,328.51 120.50,328.44 121.00,328.37 121.50,328.30 122.00,328.22 122.50,328.15 123.00,328.08 123.50,328.00 124.00,327.93 124.50,327.85 125.00,327.78 125.50,327.70 126.00,327.63 126.50,327.56 127.00,327.48 127.50,327.41 128.00,327.33 128.50,327.26 129.00,327.18 129.50,327.11 130.00,327.03 130.50,326.96 131.00,326.89 131.50,326.81 132.00,326.74 132.50,326.67 133.00,326.59 133.50,326.52 134.00,326.45 134.50,326.38 135.00,326.31 135.50,326.24 136.00,326.17 136.50,326.10 137.00,326.03 137.50,325.96 138.00,325.89 138.50,325.82 139.00,325.76 139.50,325.69 140.00,325.62 140.50,325.56 141.00,325.50 141.50,325.43 142.00,325.37 142.50,325.31 143.00,325.24 143.50,325.18 144.00,325.12 144.50,325.06 145.00,325.01 145.50,324.95 146.00,324.89 146.50,324.84 147.00,324.78 147.50,324.73 148.00,324.67 148.50,324.62 149.00,324.57 149.50,324.52 150.00,324.46 150.50,324.41 151.00,324.37 151.50,324.32 152.00,324.27 152.50,324.22 153.00,324.18 153.50,324.13 154.00,324.09 154.50,324.05 155.00,324.00 155.50,323.96 156.00,323.92 156.50,323.88 157.00,323.84 157.50,323.80 158.00,323.76 158.50,323.73 159.00,323.69 159.50,323.65 160.00,323.62 160.50,323.59 161.00,323.55 161.50,323.52 162.00,323.49 162.50,323.46 163.00,323.42 163.50,323.39 164.00,323.36 164.50,323.34 165.00,323.31 165.50,323.28 166.00,323.25 166.50,323.23 167.00,323.20 167.50,323.18 168.00,323.15 168.50,323.13 169.00,323.10 169.50,323.08 170.00,323.06 170.50,323.04 171.00,323.01 171.50,322.99 172.00,322.97 172.50,322.95 173.00,322.93 173.50,322.91 174.00,322.90 174.50,322.88 175.00,322.86 175.50,322.84 176.00,322.83 176.50,322.81 177.00,322.79 177.50,322.78 178.00,322.76 178.50,322.75 179.00,322.73 179.50,322.72 180.00,322.71 180.50,322.69 181.00,322.68 181.50,322.67 182.00,322.65 182.50,322.64 183.00,322.63 183.50,322.62 184.00,322.61 184.50,322.60 185.00,322.59 185.50,322.58 186.00,322.57 186.50,322.56 187.00,322.55 187.50,322.54 188.00,322.53 188.50,322.52 189.00,322.51 189.50,322.50 190.00,322.49 190.50,322.49 191.00,322.48 191.50,322.47 192.00,322.46 192.50,322.46 193.00,322.45 193.50,322.44 194.00,322.44 194.50,322.43 195.00,322.42 195.50,322.42 196.00,322.41 196.50,322.41 197.00,322.40 197.50,322.39 198.00,322.39 198.50,322.38 199.00,322.38 199.50,322.37 200.00,322.37 200.50,322.36 201.00,322.36 201.50,322.36 202.00,322.35 202.50,322.35 203.00,322.34 203.50,322.34 204.00,322.34 204.50,322.33 205.00,322.33 205.50,322.32 206.00,322.32 206.50,322.32 207.00,322.31 207.50,322.31 208.00,322.31 208.50,322.31 209.00,322.30 209.50,322.30 210.00,322.30 210.50,322.29 211.00,322.29 211.50,322.29 212.00,322.29 212.50,322.28 213.00,322.28 213.50,322.28 214.00,322.28 214.50,322.28 215.00,322.27 215.50,322.27 216.00,322.27 216.50,322.27 217.00,322.27 217.50,322.26 218.00,322.26 218.50,322.26 219.00,322.26 219.50,322.26 220.00,322.26 220.50,322.25 221.00,322.25 221.50,322.25 222.00,322.25 222.50,322.25 223.00,322.25 223.50,322.25 224.00,322.24 224.50,322.24 225.00,322.24 225.50,322.24 226.00,322.24 226.50,322.24 227.00,322.24 227.50,322.24 228.00,322.24 228.50,322.23 229.00,322.23 229.50,322.23 230.00,322.23 230.50,322.23 231.00,322.23 231.50,322.23 232.00,322.23 232.50,322.23 233.00,322.23 233.50,322.23 234.00,322.23 234.50,322.22 235.00,322.22 235.50,322.22 236.00,322.22 236.50,322.22 237.00,322.22 237.50,322.22 238.00,322.22 238.50,322.22 239.00,322.22 239.50,322.22 240.00,322.22 240.50,322.22 241.00,322.22 241.50,322.22 242.00,322.22 242.50,322.22 243.00,322.22 243.50,322.21 244.00,322.21 244.50,322.21 245.00,322.21 245.50,322.21 246.00,322.21 246.50,322.21 247.00,322.21 247.50,322.21 248.00,322.21 248.50,322.21 249.00,322.21 249.50,322.21 250.00,322.21 250.50,322.21"/>
<polyline fill="none" stroke="#101090" stroke-width="1.2" stroke-opacity="1.0" stroke-linejoin="round" clip-path="url(#cc)" points="65.00,332.17 65.50,332.14 66.00,332.10 66.50,332.06 67.00,332.02 67.50,331.98 68.00,331.94 68.50,331.89 69.00,331.84 69.50,331.79 70.00,331.73 70.50,331.67 71.00,331.61 71.50,331.55 72.00,331.48 72.50,331.41 73.00,331.33 73.50,331.26 74.00,331.18 74.50,331.09 75.00,331.00 75.50,330.91 76.00,330.81 76.50,330.71 77.00,330.61 77.50,330.50 78.00,330.39 78.50,330.27 79.00,330.15 79.50,330.02 80.00,329.89 80.50,329.75 81.00,329.61 81.50,329.47 82.00,329.32 82.50,329.17 83.00,329.01 83.50,328.85 84.00,328.68 84.50,328.51 85.00,328.33 85.50,328.16 86.00,327.97 86.50,327.79 87.00,327.60 87.50,327.40 88.00,327.20 88.50,327.00 89.00,326.80 89.50,326.59 90.00,326.38 90.50,326.17 91.00,325.96 91.50,325.74 92.00,325.53 92.50,325.31 93.00,325.09 93.50,324.87 94.00,324.65 94.50,324.43 95.00,324.21 95.50,323.99 96.00,323.77 96.50,323.55 97.00,323.34 97.50,323.13 98.00,322.92 98.50,322.71 99.00,322.50 99.50,322.30 100.00,322.11 100.50,321.91 101.00,321.73 101.50,321.54 102.00,321.37 102.50,321.19 103.00,321.03 103.50,320.87 104.00,320.71 104.50,320.57 105.00,320.43 105.50,320.29 106.00,320.17 106.50,320.05 107.00,319.94 107.50,319.84 108.00,319.74 108.50,319.66 109.00,319.58 109.50,319.51 110.00,319.45 110.50,319.39 111.00,319.35 111.50,319.31 112.00,319.28 112.50,319.26 113.00,319.25 113.50,319.24 114.00,319.25 114.50,319.26 115.00,319.28 115.50,319.30 116.00,319.33 116.50,319.37 117.00,319.42 117.50,319.47 118.00,319.53 118.50,319.59 119.00,319.66 119.50,319.74 120.00,319.81 120.50,319.90 121.00,319.99 121.50,320.08 122.00,320.17 122.50,320.27 123.00,320.37 123.50,320.47 124.00,320.58 124.50,320.69 125.00,320.80 125.50,320.91 126.00,321.02 126.50,321.13 127.00,321.24 127.50,321.35 128.00,321.46 128.50,321.57 129.00,321.68 129.50,321.79 130.00,321.90 130.50,322.00 131.00,322.10 131.50,322.20 132.00,322.30 132.50,322.40 133.00,322.49 133.50,322.58 134.00,322.67 134.50,322.76 135.00,322.84 135.50,322.92 136.00,323.00 136.50,323.07 137.00,323.14 137.50,323.20 138.00,323.27 138.50,323.32 139.00,323.38 139.50,323.43 140.00,323.48 140.50,323.53 141.00,323.57 141.50,323.61 142.00,323.64 142.50,323.67 143.00,323.70 143.50,323.73 144.00,323.75 144.50,323.77 145.00,323.79 145.50,323.81 146.00,323.82 146.50,323.83 147.00,323.83 147.50,323.84 148.00,323.84 148.50,323.84 149.00,323.84 149.50,323.84 150.00,323.83 150.50,323.83 151.00,323.82 151.50,323.81 152.00,323.80 152.50,323.78 153.00,323.77 153.50,323.75 154.00,323.74 154.50,323.72 155.00,323.70"/>
<polyline fill="none" stroke="#0000ff" stroke-width="1.2" stroke-opacity="1.0" stroke-linejoin="round" clip-path="url(#cc)" points="97.50,330.75 98.00,330.57 98.50,330.34 99.00,330.05 99.50,329.68 100.00,329.21 100.50,328.63 101.00,327.92 101.50,327.04 102.00,325.97 102.50,324.69 103.00,323.18 103.50,321.41 104.00,319.37 104.50,317.06 105.00,314.48 105.50,311.64 106.00,308.55 106.50,305.27 107.00,301.84 107.50,298.32 108.00,294.79 108.50,291.32 109.00,288.02 109.50,284.97 110.00,282.25 110.50,279.96 111.00,278.16 111.50,276.92 112.00,276.26 112.50,276.23 113.00,276.80 113.50,277.96 114.00,279.68 114.50,281.88 115.00,284.50 115.50,287.45 116.00,290.65 116.50,293.99 117.00,297.40 117.50,300.79 118.00,304.09 118.50,307.23 119.00,310.17 119.50,312.87 120.00,315.31 120.50,317.48 121.00,319.37 121.50,320.99 122.00,322.36 122.50,323.50 123.00,324.43 123.50,325.18 124.00,325.77 124.50,326.22 125.00,326.55 125.50,326.80 126.00,326.97 126.50,327.08 127.00,327.14"/>
<polyline fill="none" stroke="#ff0000" stroke-width="1.2" stroke-opacity="1.0" stroke-linejoin="round" clip-path="url(#cc)" points="81.50,331.68 82.00,331.53 82.50,331.34 83.00,331.10 83.50,330.80 84.00,330.41 84.50,329.93 85.00,329.34 85.50,328.60 86.00,327.70 86.50,326.60 87.00,325.28 87.50,323.72 88.00,321.87 88.50,319.71 89.00,317.22 89.50,314.37 90.00,311.14 90.50,307.53 91.00,303.53 91.50,299.15 92.00,294.42 92.50,289.37 93.00,284.05 93.50,278.51 94.00,272.84 94.50,267.12 95.00,261.45 95.50,255.93 96.00,250.68 96.50,245.80 97.00,241.39 97.50,237.57 98.00,234.42 98.50,232.02 99.00,230.42 99.50,229.68 100.00,229.79 100.50,230.77 101.00,232.58 101.50,235.17 102.00,238.49 102.50,242.45 103.00,246.95 103.50,251.90 104.00,257.17 104.50,262.67 105.00,268.28 105.50,273.91 106.00,279.45 106.50,284.83 107.00,289.97 107.50,294.82 108.00,299.34 108.50,303.49 109.00,307.26 109.50,310.64 110.00,313.64 110.50,316.27 111.00,318.55 111.50,320.50 112.00,322.15 112.50,323.53 113.00,324.68 113.50,325.61 114.00,326.36 114.50,326.95 115.00,327.42 115.50,327.77 116.00,328.03 116.50,328.22 117.00,328.35 117.50,328.43 118.00,328.48"/>
<polyline fill="none" stroke="#ff00ff" stroke-width="1.2" stroke-opacity="1.0" stroke-linejoin="round" clip-path="url(#cc)" points="130.00,326.69 130.50,326.57 131.00,326.43 131.50,326.29 132.00,326.13 132.50,325.97 133.00,325.80 133.50,325.61 134.00,325.41 134.50,325.20 135.00,324.96 135.50,324.71 136.00,324.44 136.50,324.15 137.00,323.84 137.50,323.50 138.00,323.13 138.50,322.73 139.00,322.31 139.50,321.85 140.00,321.36 140.50,320.83 141.00,320.26 141.50,319.65 142.00,319.00 142.50,318.30 143.00,317.56 143.50,316.77 144.00,315.94 144.50,315.05 145.00,314.12 145.50,313.14 146.00,312.10 146.50,311.02 147.00,309.89 147.50,308.71 148.00,307.49 148.50,306.22 149.00,304.90 149.50,303.55 150.00,302.17 150.50,300.75 151.00,299.30 151.50,297.83 152.00,296.33 152.50,294.83 153.00,293.32 153.50,291.81 154.00,290.30 154.50,288.80 155.00,287.32 155.50,285.87 156.00,284.46 156.50,283.08 157.00,281.75 157.50,280.47 158.00,279.26 158.50,278.12 159.00,277.05 159.50,276.07 160.00,275.17 160.50,274.36 161.00,273.66 161.50,273.05 162.00,272.55 162.50,272.17 163.00,271.89 163.50,271.72 164.00,271.67 164.50,271.73 165.00,271.91 165.50,272.20 166.00,272.59 166.50,273.10 167.00,273.71 167.50,274.41 168.00,275.22 168.50,276.11 169.00,277.09 169.50,278.14 170.00,279.27 170.50,280.46 171.00,281.71 171.50,283.00 172.00,284.35 172.50,285.72 173.00,287.13 173.50,288.56 174.00,290.00 174.50,291.45 175.00,292.90 175.50,294.34 176.00,295.78 176.50,297.19 177.00,298.58 177.50,299.95 178.00,301.29 178.50,302.59 179.00,303.85 179.50,305.07 180.00,306.24 180.50,307.37 181.00,308.45 181.50,309.49 182.00,310.47 182.50,311.40 183.00,312.28 183.50,313.12 184.00,313.90 184.50,314.63 185.00,315.32 185.50,315.96 186.00,316.56 186.50,317.11 187.00,317.62 187.50,318.09 188.00,318.53 188.50,318.92 189.00,319.29 189.50,319.62 190.00,319.92 190.50,320.19 191.00,320.44 191.50,320.66 192.00,320.86 192.50,321.04 193.00,321.21 193.50,321.35 194.00,321.48 194.50,321.59 195.00,321.69 195.50,321.78 196.00,321.86 196.50,321.92 197.00,321.98 197.50,322.03 198.00,322.08"/>
<polyline fill="none" stroke="#00a000" stroke-width="1.2" stroke-opacity="1.0" stroke-linejoin="round" clip-path="url(#cc)" points="141.50,325.12 142.00,325.01 142.50,324.90 143.00,324.79 143.50,324.67 144.00,324.55 144.50,324.42 145.00,324.28 145.50,324.14 146.00,323.99 146.50,323.82 147.00,323.66 147.50,323.48 148.00,323.29 148.50,323.09 149.00,322.87 149.50,322.65 150.00,322.41 150.50,322.15 151.00,321.89 151.50,321.60 152.00,321.30 152.50,320.98 153.00,320.65 153.50,320.29 154.00,319.92 154.50,319.53 155.00,319.12 155.50,318.68 156.00,318.23 156.50,317.76 157.00,317.26 157.50,316.75 158.00,316.21 158.50,315.66 159.00,315.08 159.50,314.49 160.00,313.87 160.50,313.24 161.00,312.60 161.50,311.93 162.00,311.26 162.50,310.57 163.00,309.87 163.50,309.16 164.00,308.45 164.50,307.72 165.00,307.00 165.50,306.28 166.00,305.56 166.50,304.84 167.00,304.13 167.50,303.43 168.00,302.74 168.50,302.07 169.00,301.41 169.50,300.78 170.00,300.17 170.50,299.58 171.00,299.03 171.50,298.51 172.00,298.02 172.50,297.56 173.00,297.15 173.50,296.77 174.00,296.44 174.50,296.15 175.00,295.90 175.50,295.71 176.00,295.55 176.50,295.45 177.00,295.40 177.50,295.39 178.00,295.43 178.50,295.52 179.00,295.66 179.50,295.84 180.00,296.07 180.50,296.35 181.00,296.66 181.50,297.02 182.00,297.42 182.50,297.85 183.00,298.32 183.50,298.83 184.00,299.36 184.50,299.92 185.00,300.51 185.50,301.12 186.00,301.74 186.50,302.39 187.00,303.05 187.50,303.72 188.00,304.39 188.50,305.08 189.00,305.76 189.50,306.45 190.00,307.14 190.50,307.82 191.00,308.50 191.50,309.16 192.00,309.82 192.50,310.47 193.00,311.10 193.50,311.71 194.00,312.31 194.50,312.90 195.00,313.46 195.50,314.01 196.00,314.53 196.50,315.04 197.00,315.52 197.50,315.99 198.00,316.43 198.50,316.85 199.00,317.25 199.50,317.63 200.00,317.98 200.50,318.32 201.00,318.64 201.50,318.93 202.00,319.21 202.50,319.47 203.00,319.72 203.50,319.94 204.00,320.15 204.50,320.35 205.00,320.53 205.50,320.69 206.00,320.84 206.50,320.98 207.00,321.11 207.50,321.23 208.00,321.34 208.50,321.43 209.00,321.52 209.50,321.60 210.00,321.68 210.50,321.74 211.00,321.80 211.50,321.85 212.00,321.90 212.50,321.94 213.00,321.98"/>
<polyline fill="none" stroke="#222" stroke-width="0.9" stroke-opacity="1.0" stroke-linejoin="round" clip-path="url(#cc)" points="27.50,333.60 28.00,332.23 28.50,332.36 29.00,332.70 29.50,332.66 30.00,331.92 30.50,332.66 31.00,331.69 31.50,332.32 32.00,333.98 32.50,332.70 33.00,332.48 33.50,333.82 34.00,332.96 34.50,333.17 35.00,332.34 35.50,333.49 36.00,332.51 36.50,333.34 37.00,333.17 37.50,333.92 38.00,333.41 38.50,332.71 39.00,331.99 39.50,332.51 40.00,332.24 40.50,333.77 41.00,332.40 41.50,331.12 42.00,332.97 42.50,333.27 43.00,332.07 43.50,333.19 44.00,331.78 44.50,332.86 45.00,332.57 45.50,332.90 46.00,332.97 46.50,332.21 47.00,333.23 47.50,332.32 48.00,332.74 48.50,333.64 49.00,332.01 49.50,332.70 50.00,333.75 50.50,333.51 51.00,332.15 51.50,332.19 52.00,332.99 52.50,332.15 53.00,332.65 53.50,331.64 54.00,333.02 54.50,331.45 55.00,332.65 55.50,333.04 56.00,332.07 56.50,331.43 57.00,331.63 57.50,331.17 58.00,333.73 58.50,331.13 59.00,331.56 59.50,332.66 60.00,332.45 60.50,333.12 61.00,333.30 61.50,332.67 62.00,332.29 62.50,331.92 63.00,332.16 63.50,332.92 64.00,332.66 64.50,332.63 65.00,331.00 65.50,331.60 66.00,331.62 66.50,331.68 67.00,331.28 67.50,332.45 68.00,332.67 68.50,333.15 69.00,331.47 69.50,331.71 70.00,331.79 70.50,331.66 71.00,331.02 71.50,332.10 72.00,330.06 72.50,331.07 73.00,330.00 73.50,331.69 74.00,330.20 74.50,330.28 75.00,330.99 75.50,330.17 76.00,330.98 76.50,330.43 77.00,331.96 77.50,329.62 78.00,329.78 78.50,330.61 79.00,330.15 79.50,330.23 80.00,329.54 80.50,330.22 81.00,329.58 81.50,330.02 82.00,327.86 82.50,328.66 83.00,327.93 83.50,327.91 84.00,326.42 84.50,327.00 85.00,324.72 85.50,325.34 86.00,324.00 86.50,321.04 87.00,321.03 87.50,317.57 88.00,317.21 88.50,313.24 89.00,311.51 89.50,308.19 90.00,303.65 90.50,299.49 91.00,296.73 91.50,291.22 92.00,287.13 92.50,280.79 93.00,276.91 93.50,269.02 94.00,263.90 94.50,256.60 95.00,250.13 95.50,244.31 96.00,237.50 96.50,232.04 97.00,228.58 97.50,222.77 98.00,218.23 98.50,216.25 99.00,212.93 99.50,211.99 100.00,211.95 100.50,212.06 101.00,213.16 101.50,214.10 102.00,215.70 102.50,218.06 103.00,220.67 103.50,223.45 104.00,228.20 104.50,229.66 105.00,233.88 105.50,235.41 106.00,238.86 106.50,238.20 107.00,242.14 107.50,243.10 108.00,245.84 108.50,246.73 109.00,245.99 109.50,247.02 110.00,248.36 110.50,248.64 111.00,249.38 111.50,251.13 112.00,250.97 112.50,254.82 113.00,256.18 113.50,256.41 114.00,260.73 114.50,264.59 115.00,269.79 115.50,271.96 116.00,274.83 116.50,280.83 117.00,284.13 117.50,287.75 118.00,292.25 118.50,294.81 119.00,298.34 119.50,302.19 120.00,304.57 120.50,307.43 121.00,308.69 121.50,312.06 122.00,311.53 122.50,312.99 123.00,315.51 123.50,315.96 124.00,317.16 124.50,317.76 125.00,318.22 125.50,318.08 126.00,319.45 126.50,320.51 127.00,319.30 127.50,321.47 128.00,321.46 128.50,319.96 129.00,321.29 129.50,320.10 130.00,320.92 130.50,320.35 131.00,320.83 131.50,319.98 132.00,321.23 132.50,320.65 133.00,320.78 133.50,320.02 134.00,321.41 134.50,322.67 135.00,321.01 135.50,321.06 136.00,320.25 136.50,320.56 137.00,320.10 137.50,319.38 138.00,319.59 138.50,319.56 139.00,319.80 139.50,318.96 140.00,318.97 140.50,319.21 141.00,318.43 141.50,316.91 142.00,315.33 142.50,315.76 143.00,315.20 143.50,315.04 144.00,313.57 144.50,314.50 145.00,311.33 145.50,310.96 146.00,308.74 146.50,307.49 147.00,306.73 147.50,305.77 148.00,304.72 148.50,300.59 149.00,302.08 149.50,300.77 150.00,299.05 150.50,297.03 151.00,294.62 151.50,293.33 152.00,292.03 152.50,288.61 153.00,287.88 153.50,285.87 154.00,283.51 154.50,282.94 155.00,279.27 155.50,277.14 156.00,275.88 156.50,273.58 157.00,273.10 157.50,269.16 158.00,267.62 158.50,267.01 159.00,265.64 159.50,262.67 160.00,262.86 160.50,259.14 161.00,259.82 161.50,257.19 162.00,256.29 162.50,256.78 163.00,254.49 163.50,253.20 164.00,253.06 164.50,253.56 165.00,251.74 165.50,250.74 166.00,251.12 166.50,249.92 167.00,250.24 167.50,250.37 168.00,251.38 168.50,250.85 169.00,251.91 169.50,252.85 170.00,253.73 170.50,252.12 171.00,254.03 171.50,254.11 172.00,256.30 172.50,257.03 173.00,257.93 173.50,258.71 174.00,259.60 174.50,260.35 175.00,263.50 175.50,264.03 176.00,265.57 176.50,267.18 177.00,268.95 177.50,271.18 178.00,271.21 178.50,273.28 179.00,273.18 179.50,275.55 180.00,276.83 180.50,278.39 181.00,281.13 181.50,281.88 182.00,283.32 182.50,284.79 183.00,286.02 183.50,287.45 184.00,288.55 184.50,290.01 185.00,291.44 185.50,292.94 186.00,293.06 186.50,295.69 187.00,296.86 187.50,298.39 188.00,298.50 188.50,299.78 189.00,302.10 189.50,302.12 190.00,304.01 190.50,304.22 191.00,304.84 191.50,305.60 192.00,307.10 192.50,308.08 193.00,308.39 193.50,311.04 194.00,310.84 194.50,310.95 195.00,313.31 195.50,313.52 196.00,313.06 196.50,313.48 197.00,314.64 197.50,315.82 198.00,314.86 198.50,317.12 199.00,316.52 199.50,317.79 200.00,317.52 200.50,318.34 201.00,318.80 201.50,319.59 202.00,318.51 202.50,320.60 203.00,318.67 203.50,320.02 204.00,320.50 204.50,320.26 205.00,321.06 205.50,319.50 206.00,320.76 206.50,321.63 207.00,321.09 207.50,320.44 208.00,321.43 208.50,321.56 209.00,320.83 209.50,322.52 210.00,321.31 210.50,321.04 211.00,321.89 211.50,321.42 212.00,321.79 212.50,322.13 213.00,321.72 213.50,322.45 214.00,322.28 214.50,322.94 215.00,321.44 215.50,322.20 216.00,322.35 216.50,322.38 217.00,320.75 217.50,321.48 218.00,322.45 218.50,322.63 219.00,322.27 219.50,322.38 220.00,323.10 220.50,322.02 221.00,321.74 221.50,323.30 222.00,322.70 222.50,322.16 223.00,321.78 223.50,323.39 224.00,322.09 224.50,321.72 225.00,323.16 225.50,321.27 226.00,322.18 226.50,322.71 227.00,322.09 227.50,321.93 228.00,322.58 228.50,321.44 229.00,322.13 229.50,322.78 230.00,321.52 230.50,323.23 231.00,322.13 231.50,322.23 232.00,321.95 232.50,322.67 233.00,321.95 233.50,322.43 234.00,323.14 234.50,323.14 235.00,321.23 235.50,323.20 236.00,321.93 236.50,322.48 237.00,322.34 237.50,322.46 238.00,321.85 238.50,322.67 239.00,322.97 239.50,321.87 240.00,322.26 240.50,322.83 241.00,323.01 241.50,322.49 242.00,322.45 242.50,322.60 243.00,322.03 243.50,322.49 244.00,322.07 244.50,322.02 245.00,320.64 245.50,321.02 246.00,322.51 246.50,322.77 247.00,322.57 247.50,322.33 248.00,322.05 248.50,322.64 249.00,321.98 249.50,322.25 250.00,323.28 250.50,321.30"/>
<polyline fill="none" stroke="#800080" stroke-width="1.2" stroke-opacity="0.85" stroke-linejoin="round" clip-path="url(#cc)" points="27.50,332.76 28.00,332.76 28.50,332.76 29.00,332.76 29.50,332.76 30.00,332.75 30.50,332.75 31.00,332.75 31.50,332.75 32.00,332.75 32.50,332.75 33.00,332.75 33.50,332.74 34.00,332.74 34.50,332.74 35.00,332.74 35.50,332.74 36.00,332.74 36.50,332.73 37.00,332.73 37.50,332.73 38.00,332.73 38.50,332.73 39.00,332.72 39.50,332.72 40.00,332.72 40.50,332.72 41.00,332.71 41.50,332.71 42.00,332.71 42.50,332.71 43.00,332.70 43.50,332.70 44.00,332.70 44.50,332.69 45.00,332.69 45.50,332.69 46.00,332.68 46.50,332.68 47.00,332.67 47.50,332.67 48.00,332.66 48.50,332.66 49.00,332.65 49.50,332.65 50.00,332.64 50.50,332.64 51.00,332.63 51.50,332.62 52.00,332.62 52.50,332.61 53.00,332.60 53.50,332.59 54.00,332.58 54.50,332.57 55.00,332.56 55.50,332.55 56.00,332.54 56.50,332.53 57.00,332.52 57.50,332.50 58.00,332.49 58.50,332.47 59.00,332.46 59.50,332.44 60.00,332.42 60.50,332.40 61.00,332.38 61.50,332.36 62.00,332.34 62.50,332.31 63.00,332.29 63.50,332.26 64.00,332.23 64.50,332.20 65.00,332.17 65.50,332.14 66.00,332.10 66.50,332.06 67.00,332.02 67.50,331.98 68.00,331.94 68.50,331.89 69.00,331.84 69.50,331.79 70.00,331.73 70.50,331.67 71.00,331.61 71.50,331.55 72.00,331.48 72.50,331.41 73.00,331.33 73.50,331.26 74.00,331.17 74.50,331.09 75.00,331.00 75.50,330.90 76.00,330.81 76.50,330.70 77.00,330.59 77.50,330.48 78.00,330.35 78.50,330.22 79.00,330.07 79.50,329.92 80.00,329.75 80.50,329.56 81.00,329.34 81.50,329.09 82.00,328.81 82.50,328.48 83.00,328.09 83.50,327.63 84.00,327.09 84.50,326.43 85.00,325.65 85.50,324.72 86.00,323.61 86.50,322.30 87.00,320.75 87.50,318.93 88.00,316.82 88.50,314.37 89.00,311.56 89.50,308.38 90.00,304.79 90.50,300.79 91.00,296.38 91.50,291.56 92.00,286.36 92.50,280.82 93.00,274.98 93.50,268.90 94.00,262.66 94.50,256.35 95.00,250.07 95.50,243.93 96.00,238.03 96.50,232.49 97.00,227.41 97.50,222.90 98.00,219.03 98.50,215.89 99.00,213.51 99.50,211.93 100.00,211.15 100.50,211.14 101.00,211.87 101.50,213.26 102.00,215.23 102.50,217.66 103.00,220.45 103.50,223.46 104.00,226.58 104.50,229.70 105.00,232.69 105.50,235.48 106.00,237.99 106.50,240.17 107.00,242.01 107.50,243.52 108.00,244.71 108.50,245.65 109.00,246.40 109.50,247.05 110.00,247.68 110.50,248.39 111.00,249.28 111.50,250.41 112.00,251.85 112.50,253.64 113.00,255.82 113.50,258.39 114.00,261.33 114.50,264.60 115.00,268.15 115.50,271.92 116.00,275.83 116.50,279.82 117.00,283.79 117.50,287.70 118.00,291.46 118.50,295.02 119.00,298.35 119.50,301.42 120.00,304.20 120.50,306.68 121.00,308.88 121.50,310.80 122.00,312.46 122.50,313.88 123.00,315.08 123.50,316.09 124.00,316.94 124.50,317.65 125.00,318.25 125.50,318.74 126.00,319.15 126.50,319.50 127.00,319.80 127.50,320.06 128.00,320.28 128.50,320.47 129.00,320.64 129.50,320.79 130.00,320.92 130.50,321.03 131.00,321.12 131.50,321.20 132.00,321.25 132.50,321.29 133.00,321.32 133.50,321.32 134.00,321.29 134.50,321.25 135.00,321.18 135.50,321.08 136.00,320.96 136.50,320.80 137.00,320.61 137.50,320.39 138.00,320.13 138.50,319.84 139.00,319.50 139.50,319.12 140.00,318.69 140.50,318.22 141.00,317.70 141.50,317.12 142.00,316.49 142.50,315.81 143.00,315.07 143.50,314.26 144.00,313.40 144.50,312.47 145.00,311.48 145.50,310.43 146.00,309.31 146.50,308.12 147.00,306.87 147.50,305.55 148.00,304.17 148.50,302.73 149.00,301.22 149.50,299.66 150.00,298.04 150.50,296.36 151.00,294.64 151.50,292.87 152.00,291.07 152.50,289.22 153.00,287.35 153.50,285.45 154.00,283.54 154.50,281.62 155.00,279.69 155.50,277.77 156.00,275.86 156.50,273.96 157.00,272.10 157.50,270.27 158.00,268.48 158.50,266.74 159.00,265.06 159.50,263.44 160.00,261.90 160.50,260.43 161.00,259.05 161.50,257.76 162.00,256.57 162.50,255.47 163.00,254.49 163.50,253.61 164.00,252.84 164.50,252.19 165.00,251.65 165.50,251.23 166.00,250.93 166.50,250.74 167.00,250.67 167.50,250.72 168.00,250.88 168.50,251.15 169.00,251.53 169.50,252.01 170.00,252.59 170.50,253.26 171.00,254.03 171.50,254.88 172.00,255.81 172.50,256.82 173.00,257.90 173.50,259.04 174.00,260.24 174.50,261.49 175.00,262.79 175.50,264.13 176.00,265.51 176.50,266.92 177.00,268.36 177.50,269.82 178.00,271.30 178.50,272.79 179.00,274.28 179.50,275.78 180.00,277.29 180.50,278.79 181.00,280.28 181.50,281.77 182.00,283.24 182.50,284.70 183.00,286.14 183.50,287.56 184.00,288.97 184.50,290.35 185.00,291.70 185.50,293.03 186.00,294.33 186.50,295.61 187.00,296.85 187.50,298.06 188.00,299.24 188.50,300.39 189.00,301.51 189.50,302.59 190.00,303.64 190.50,304.66 191.00,305.64 191.50,306.58 192.00,307.49 192.50,308.37 193.00,309.21 193.50,310.02 194.00,310.79 194.50,311.53 195.00,312.24 195.50,312.91 196.00,313.55 196.50,314.16 197.00,314.74 197.50,315.28 198.00,315.80 198.50,316.29 199.00,316.75 199.50,317.18 200.00,317.59 200.50,317.97 201.00,318.32 201.50,318.65 202.00,318.96 202.50,319.25 203.00,319.52 203.50,319.77 204.00,320.00 204.50,320.21 205.00,320.40 205.50,320.58 206.00,320.75 206.50,320.90 207.00,321.04 207.50,321.16 208.00,321.28 208.50,321.38 209.00,321.48 209.50,321.56 210.00,321.64 210.50,321.71 211.00,321.77 211.50,321.83 212.00,321.88 212.50,321.92 213.00,321.96 213.50,322.00 214.00,322.03 214.50,322.06 215.00,322.08 215.50,322.11 216.00,322.13 216.50,322.14 217.00,322.16 217.50,322.17 218.00,322.18 218.50,322.19 219.00,322.20 219.50,322.20 220.00,322.21 220.50,322.21 221.00,322.22 221.50,322.22 222.00,322.22 222.50,322.23 223.00,322.23 223.50,322.23 224.00,322.23 224.50,322.23 225.00,322.23 225.50,322.23 226.00,322.23 226.50,322.23 227.00,322.23 227.50,322.23 228.00,322.23 228.50,322.23 229.00,322.23 229.50,322.23 230.00,322.23 230.50,322.23 231.00,322.23 231.50,322.23 232.00,322.23 232.50,322.23 233.00,322.23 233.50,322.23 234.00,322.22 234.50,322.22 235.00,322.22 235.50,322.22 236.00,322.22 236.50,322.22 237.00,322.22 237.50,322.22 238.00,322.22 238.50,322.22 239.00,322.22 239.50,322.22 240.00,322.22 240.50,322.22 241.00,322.22 241.50,322.22 242.00,322.22 242.50,322.22 243.00,322.22 243.50,322.21 244.00,322.21 244.50,322.21 245.00,322.21 245.50,322.21 246.00,322.21 246.50,322.21 247.00,322.21 247.50,322.21 248.00,322.21 248.50,322.21 249.00,322.21 249.50,322.21 250.00,322.21 250.50,322.21"/>
<text x="64" y="218.5" font-size="8.8" fill="#ff0000" stroke="#ff0000" stroke-width="0.18" font-family='"Liberation Sans", sans-serif'>P 2p3/2</text>
<line x1="83.1" y1="219.5" x2="98.9" y2="231.6" stroke="#ff0000" stroke-width="0.9"/>
<polygon points="98.90,231.60 95.39,230.92 97.33,228.38" fill="#ff0000"/>
<text x="118.3" y="264.3" font-size="8.8" fill="#0000ff" stroke="#0000ff" stroke-width="0.18" font-family='"Liberation Sans", sans-serif'>P 2p1/2</text>
<line x1="124" y1="265.5" x2="114.5" y2="275.5" stroke="#0000ff" stroke-width="0.9"/>
<polygon points="114.50,275.50 115.54,272.08 117.86,274.28" fill="#0000ff"/>
<text x="67" y="303.2" font-size="8.8" fill="#101090" stroke="#101090" stroke-width="0.18" font-family='"Liberation Sans", sans-serif'>P-C</text>
<line x1="80.7" y1="310.6" x2="94" y2="321.6" stroke="#101090" stroke-width="0.9"/>
<polygon points="94.00,321.60 90.51,320.79 92.55,318.33" fill="#101090"/>
<text x="179.5" y="256.5" font-size="8.8" fill="#ff00ff" stroke="#ff00ff" stroke-width="0.18" font-family='"Liberation Sans", sans-serif'>P-O</text>
<line x1="184.8" y1="258" x2="169.1" y2="272.1" stroke="#ff00ff" stroke-width="0.9"/>
<polygon points="169.10,272.10 170.41,268.77 172.55,271.15" fill="#ff00ff"/>
<text x="190.7" y="284.9" font-size="8.8" fill="#00a000" stroke="#00a000" stroke-width="0.18" font-family='"Liberation Sans", sans-serif'>P-N</text>
<line x1="194.2" y1="285.4" x2="182.4" y2="296.4" stroke="#00a000" stroke-width="0.9"/>
<polygon points="182.40,296.40 183.65,293.05 185.83,295.39" fill="#00a000"/>
<text x="289.2" y="204.6" font-size="17.5" fill="#000" text-anchor="start" font-family='"Liberation Serif", serif' >(d)</text>
<rect x="316" y="191" width="219.60000000000002" height="162" fill="none" stroke="#222" stroke-width="1.4"/>
<line x1="336.00" y1="353" x2="336.00" y2="356" stroke="#222" stroke-width="1.0"/>
<line x1="375.75" y1="353" x2="375.75" y2="356" stroke="#222" stroke-width="1.0"/>
<line x1="415.50" y1="353" x2="415.50" y2="356" stroke="#222" stroke-width="1.0"/>
<line x1="455.25" y1="353" x2="455.25" y2="356" stroke="#222" stroke-width="1.0"/>
<line x1="495.00" y1="353" x2="495.00" y2="356" stroke="#222" stroke-width="1.0"/>
<line x1="534.75" y1="353" x2="534.75" y2="356" stroke="#222" stroke-width="1.0"/>
<line x1="355.88" y1="353" x2="355.88" y2="355.5" stroke="#222" stroke-width="1.0"/>
<line x1="395.62" y1="353" x2="395.62" y2="355.5" stroke="#222" stroke-width="1.0"/>
<line x1="435.38" y1="353" x2="435.38" y2="355.5" stroke="#222" stroke-width="1.0"/>
<line x1="475.12" y1="353" x2="475.12" y2="355.5" stroke="#222" stroke-width="1.0"/>
<line x1="514.88" y1="353" x2="514.88" y2="355.5" stroke="#222" stroke-width="1.0"/>
<text x="336.0" y="364.5" font-size="8.6" fill="#111" text-anchor="middle" font-family='"Liberation Sans", sans-serif' >395</text>
<text x="375.8" y="364.5" font-size="8.6" fill="#111" text-anchor="middle" font-family='"Liberation Sans", sans-serif' >400</text>
<text x="415.5" y="364.5" font-size="8.6" fill="#111" text-anchor="middle" font-family='"Liberation Sans", sans-serif' >405</text>
<text x="455.2" y="364.5" font-size="8.6" fill="#111" text-anchor="middle" font-family='"Liberation Sans", sans-serif' >410</text>
<text x="495.0" y="364.5" font-size="8.6" fill="#111" text-anchor="middle" font-family='"Liberation Sans", sans-serif' >415</text>
<text x="534.8" y="364.5" font-size="8.6" fill="#111" text-anchor="middle" font-family='"Liberation Sans", sans-serif' >420</text>
<text x="426" y="380.5" font-size="8.4" fill="#222" text-anchor="middle" font-family='"Liberation Sans", sans-serif' >Binding energy / eV</text>
<text x="300.5" y="277" font-size="9" fill="#222" text-anchor="middle" font-family='"Liberation Sans", sans-serif' transform="rotate(-90 300.5 277)">Intensity / a.u.</text>
<text x="324.7" y="206" font-size="8.5" fill="#111" stroke="#111" stroke-width="0.15" font-family='"Liberation Serif", serif'>N1s</text>
<clipPath id="cd"><rect x="316.6" y="191.6" width="218.39999999999998" height="160.79999999999998"/></clipPath>
<polyline fill="none" stroke="#111" stroke-width="0.95" stroke-opacity="1.0" stroke-linejoin="round" clip-path="url(#cd)" points="316.80,300.00 318.40,296.98 320.00,275.71 321.60,295.42 323.20,308.66 324.80,295.91 326.40,296.32 328.00,311.68 329.60,279.30 331.20,328.06 332.80,280.62 334.40,301.34 336.00,308.11 337.60,298.72 339.20,300.76 340.80,296.53 342.40,281.20 344.00,286.98 345.60,305.93 347.20,305.73 348.80,287.10 350.40,306.40 352.00,277.42 353.60,292.99 355.20,298.13 356.80,301.04 358.40,296.54 360.00,299.69 361.60,269.52 363.20,286.76 364.80,281.05 366.40,255.47 368.00,272.29 369.60,261.84 371.20,263.93 372.80,271.58 374.40,259.58 376.00,253.10 377.60,230.69 379.20,280.71 380.80,254.29 382.40,261.68 384.00,255.34 385.60,260.41 387.20,268.73 388.80,244.69 390.40,267.06 392.00,247.26 393.60,272.54 395.20,256.74 396.80,271.38 398.40,255.97 400.00,293.27 401.60,292.23 403.20,252.94 404.80,328.32 406.40,277.72 408.00,302.55 409.60,303.56 411.20,300.13 412.80,306.45 414.40,321.08 416.00,301.34 417.60,315.56 419.20,302.10 420.80,311.28 422.40,299.02 424.00,314.54 425.60,299.42 427.20,328.38 428.80,298.20 430.40,325.30 432.00,316.52 433.60,318.71 435.20,299.74 436.80,335.31 438.40,278.25 440.00,345.00 441.60,266.74 443.20,327.14 444.80,302.93 446.40,309.73 448.00,291.41 449.60,308.25 451.20,317.71 452.80,291.95 454.40,331.17 456.00,315.28 457.60,326.36 459.20,308.89 460.80,315.59 462.40,308.40 464.00,345.91 465.60,309.18 467.20,323.57 468.80,312.75 470.40,326.87 472.00,287.25 473.60,338.26 475.20,294.89 476.80,300.19 478.40,333.28 480.00,295.18 481.60,328.70 483.20,297.67 484.80,318.18 486.40,328.04 488.00,308.94 489.60,319.95 491.20,292.97 492.80,333.85 494.40,294.83 496.00,327.95 497.60,293.84 499.20,327.12 500.80,310.61 502.40,298.28 504.00,323.78 505.60,296.84 507.20,334.19 508.80,304.23 510.40,317.25 512.00,341.66 513.60,304.72 515.20,312.05 516.80,321.20 518.40,309.80 520.00,327.26 521.60,292.63 523.20,342.96 524.80,288.99 526.40,319.93 528.00,299.03 529.60,314.99 531.20,329.58 532.80,303.09 534.40,304.25"/>
<polyline fill="none" stroke="#10a010" stroke-width="1.2" stroke-opacity="1.0" stroke-linejoin="round" clip-path="url(#cd)" points="316.80,312.56 317.30,312.60 317.80,312.64 318.30,312.68 318.80,312.72 319.30,312.76 319.80,312.80 320.30,312.84 320.80,312.88 321.30,312.92 321.80,312.96 322.30,313.00 322.80,313.03 323.30,313.07 323.80,313.11 324.30,313.15 324.80,313.19 325.30,313.23 325.80,313.27 326.30,313.31 326.80,313.35 327.30,313.39 327.80,313.43 328.30,313.47 328.80,313.51 329.30,313.55 329.80,313.58 330.30,313.62 330.80,313.66 331.30,313.70 331.80,313.74 332.30,313.78 332.80,313.82 333.30,313.86 333.80,313.89 334.30,313.93 334.80,313.97 335.30,314.01 335.80,314.05 336.30,314.09 336.80,314.13 337.30,314.17 337.80,314.20 338.30,314.24 338.80,314.28 339.30,314.32 339.80,314.36 340.30,314.40 340.80,314.44 341.30,314.48 341.80,314.51 342.30,314.55 342.80,314.59 343.30,314.63 343.80,314.67 344.30,314.71 344.80,314.75 345.30,314.79 345.80,314.82 346.30,314.86 346.80,314.90 347.30,314.94 347.80,314.98 348.30,315.02 348.80,315.06 349.30,315.10 349.80,315.13 350.30,315.17 350.80,315.21 351.30,315.25 351.80,315.29 352.30,315.33 352.80,315.37 353.30,315.41 353.80,315.44 354.30,315.48 354.80,315.52 355.30,315.56 355.80,315.60 356.30,315.64 356.80,315.68 357.30,315.72 357.80,315.75 358.30,315.79 358.80,315.83 359.30,315.87 359.80,315.91 360.30,315.95 360.80,315.99 361.30,316.03 361.80,316.06 362.30,316.10 362.80,316.14 363.30,316.18 363.80,316.22 364.30,316.26 364.80,316.30 365.30,316.34 365.80,316.37 366.30,316.41 366.80,316.45 367.30,316.49 367.80,316.53 368.30,316.57 368.80,316.61 369.30,316.65 369.80,316.68 370.30,316.72 370.80,316.76 371.30,316.80 371.80,316.84 372.30,316.88 372.80,316.92 373.30,316.96 373.80,316.99 374.30,317.03 374.80,317.07 375.30,317.11 375.80,317.15 376.30,317.19 376.80,317.23 377.30,317.27 377.80,317.30 378.30,317.34 378.80,317.38 379.30,317.42 379.80,317.46 380.30,317.50 380.80,317.54 381.30,317.58 381.80,317.61 382.30,317.65 382.80,317.69 383.30,317.73 383.80,317.77 384.30,317.81 384.80,317.85 385.30,317.89 385.80,317.92 386.30,317.96 386.80,318.00 387.30,318.04 387.80,318.08 388.30,318.12 388.80,318.16 389.30,318.20 389.80,318.23 390.30,318.27 390.80,318.31 391.30,318.35 391.80,318.39 392.30,318.43 392.80,318.47 393.30,318.51 393.80,318.54 394.30,318.58 394.80,318.62 395.30,318.66 395.80,318.70 396.30,318.74 396.80,318.78 397.30,318.82 397.80,318.85 398.30,318.89 398.80,318.93 399.30,318.97 399.80,319.01 400.30,319.05 400.80,319.09 401.30,319.13 401.80,319.16 402.30,319.20 402.80,319.24 403.30,319.28 403.80,319.32 404.30,319.36 404.80,319.40 405.30,319.44 405.80,319.47 406.30,319.51 406.80,319.55 407.30,319.59 407.80,319.63 408.30,319.67 408.80,319.71 409.30,319.75 409.80,319.78 410.30,319.83 410.80,319.87 411.30,319.91 411.80,319.96 412.30,320.00 412.80,320.04 413.30,320.09 413.80,320.13 414.30,320.17 414.80,320.22"/>
<polyline fill="none" stroke="#ff00ff" stroke-width="1.2" stroke-opacity="1.0" stroke-linejoin="round" clip-path="url(#cd)" points="354.30,315.22 354.80,315.17 355.30,315.09 355.80,314.99 356.30,314.84 356.80,314.66 357.30,314.44 357.80,314.16 358.30,313.84 358.80,313.46 359.30,313.04 359.80,312.56 360.30,312.04 360.80,311.49 361.30,310.92 361.80,310.34 362.30,309.76 362.80,309.21 363.30,308.70 363.80,308.26 364.30,307.89 364.80,307.61 365.30,307.44 365.80,307.38 366.30,307.44 366.80,307.61 367.30,307.89 367.80,308.28 368.30,308.75 368.80,309.29 369.30,309.90 369.80,310.53 370.30,311.19 370.80,311.85 371.30,312.49 371.80,313.11 372.30,313.70 372.80,314.23 373.30,314.72 373.80,315.16 374.30,315.55 374.80,315.88 375.30,316.17 375.80,316.42 376.30,316.62 376.80,316.80 377.30,316.94 377.80,317.07"/>
<polyline fill="none" stroke="#0000ff" stroke-width="1.2" stroke-opacity="1.0" stroke-linejoin="round" clip-path="url(#cd)" points="344.30,314.49 344.80,314.49 345.30,314.48 345.80,314.47 346.30,314.44 346.80,314.41 347.30,314.36 347.80,314.30 348.30,314.23 348.80,314.14 349.30,314.04 349.80,313.92 350.30,313.78 350.80,313.61 351.30,313.42 351.80,313.21 352.30,312.96 352.80,312.69 353.30,312.39 353.80,312.05 354.30,311.68 354.80,311.27 355.30,310.82 355.80,310.34 356.30,309.82 356.80,309.25 357.30,308.65 357.80,308.00 358.30,307.32 358.80,306.59 359.30,305.83 359.80,305.04 360.30,304.21 360.80,303.35 361.30,302.47 361.80,301.56 362.30,300.64 362.80,299.70 363.30,298.76 363.80,297.81 364.30,296.88 364.80,295.95 365.30,295.04 365.80,294.16 366.30,293.31 366.80,292.50 367.30,291.73 367.80,291.02 368.30,290.37 368.80,289.78 369.30,289.26 369.80,288.82 370.30,288.46 370.80,288.18 371.30,287.99 371.80,287.89 372.30,287.88 372.80,287.96 373.30,288.13 373.80,288.38 374.30,288.73 374.80,289.16 375.30,289.66 375.80,290.25 376.30,290.91 376.80,291.63 377.30,292.41 377.80,293.25 378.30,294.13 378.80,295.05 379.30,296.01 379.80,296.99 380.30,297.99 380.80,299.01 381.30,300.03 381.80,301.05 382.30,302.06 382.80,303.07 383.30,304.05 383.80,305.02 384.30,305.96 384.80,306.87 385.30,307.74 385.80,308.59 386.30,309.39 386.80,310.16 387.30,310.89 387.80,311.57 388.30,312.22 388.80,312.83 389.30,313.40 389.80,313.92 390.30,314.41 390.80,314.87 391.30,315.29 391.80,315.67 392.30,316.03 392.80,316.35 393.30,316.65 393.80,316.92 394.30,317.16 394.80,317.38 395.30,317.59 395.80,317.77 396.30,317.94 396.80,318.09 397.30,318.23 397.80,318.35 398.30,318.46 398.80,318.57 399.30,318.66 399.80,318.75 400.30,318.83"/>
<polyline fill="none" stroke="#ff0000" stroke-width="1.2" stroke-opacity="1.0" stroke-linejoin="round" clip-path="url(#cd)" points="353.80,315.23 354.30,315.23 354.80,315.23 355.30,315.22 355.80,315.21 356.30,315.19 356.80,315.16 357.30,315.12 357.80,315.07 358.30,315.01 358.80,314.94 359.30,314.85 359.80,314.75 360.30,314.63 360.80,314.49 361.30,314.34 361.80,314.16 362.30,313.96 362.80,313.74 363.30,313.48 363.80,313.21 364.30,312.90 364.80,312.56 365.30,312.18 365.80,311.78 366.30,311.33 366.80,310.85 367.30,310.32 367.80,309.76 368.30,309.15 368.80,308.49 369.30,307.79 369.80,307.05 370.30,306.26 370.80,305.43 371.30,304.54 371.80,303.62 372.30,302.65 372.80,301.63 373.30,300.57 373.80,299.48 374.30,298.34 374.80,297.17 375.30,295.97 375.80,294.75 376.30,293.50 376.80,292.23 377.30,290.94 377.80,289.65 378.30,288.35 378.80,287.06 379.30,285.78 379.80,284.51 380.30,283.26 380.80,282.04 381.30,280.86 381.80,279.72 382.30,278.62 382.80,277.59 383.30,276.61 383.80,275.70 384.30,274.86 384.80,274.10 385.30,273.43 385.80,272.84 386.30,272.35 386.80,271.95 387.30,271.65 387.80,271.45 388.30,271.35 388.80,271.36 389.30,271.47 389.80,271.68 390.30,271.99 390.80,272.41 391.30,272.92 391.80,273.53 392.30,274.22 392.80,275.01 393.30,275.87 393.80,276.81 394.30,277.82 394.80,278.90 395.30,280.04 395.80,281.23 396.30,282.46 396.80,283.74 397.30,285.05 397.80,286.38 398.30,287.73 398.80,289.10 399.30,290.47 399.80,291.84 400.30,293.21 400.80,294.57 401.30,295.91 401.80,297.23 402.30,298.52 402.80,299.79 403.30,301.02 403.80,302.22 404.30,303.38 404.80,304.50 405.30,305.58 405.80,306.61 406.30,307.60 406.80,308.54 407.30,309.44 407.80,310.29 408.30,311.09 408.80,311.85 409.30,312.57 409.80,313.24 410.30,313.87 410.80,314.46 411.30,315.01 411.80,315.53 412.30,316.00 412.80,316.45 413.30,316.86 413.80,317.24 414.30,317.59 414.80,317.91 415.30,318.21 415.80,318.48 416.30,318.73 416.80,318.96 417.30,319.17 417.80,319.37 418.30,319.54 418.80,319.71 419.30,319.86 419.80,320.00 420.30,320.13 420.80,320.24 421.30,320.35 421.80,320.45 422.30,320.55 422.80,320.63 423.30,320.72 423.80,320.79"/>
<polyline fill="none" stroke="#101080" stroke-width="1.3" stroke-opacity="1.0" stroke-linejoin="round" clip-path="url(#cd)" points="316.80,312.56 317.30,312.60 317.80,312.64 318.30,312.68 318.80,312.72 319.30,312.76 319.80,312.80 320.30,312.84 320.80,312.88 321.30,312.92 321.80,312.96 322.30,312.99 322.80,313.03 323.30,313.07 323.80,313.11 324.30,313.15 324.80,313.19 325.30,313.23 325.80,313.27 326.30,313.31 326.80,313.35 327.30,313.39 327.80,313.43 328.30,313.47 328.80,313.51 329.30,313.54 329.80,313.58 330.30,313.62 330.80,313.66 331.30,313.70 331.80,313.74 332.30,313.78 332.80,313.82 333.30,313.85 333.80,313.89 334.30,313.93 334.80,313.97 335.30,314.00 335.80,314.04 336.30,314.08 336.80,314.11 337.30,314.15 337.80,314.19 338.30,314.22 338.80,314.25 339.30,314.28 339.80,314.31 340.30,314.34 340.80,314.37 341.30,314.39 341.80,314.42 342.30,314.43 342.80,314.45 343.30,314.46 343.80,314.46 344.30,314.46 344.80,314.45 345.30,314.43 345.80,314.41 346.30,314.37 346.80,314.33 347.30,314.27 347.80,314.19 348.30,314.10 348.80,313.99 349.30,313.86 349.80,313.70 350.30,313.52 350.80,313.31 351.30,313.07 351.80,312.80 352.30,312.49 352.80,312.14 353.30,311.74 353.80,311.29 354.30,310.79 354.80,310.23 355.30,309.60 355.80,308.90 356.30,308.13 356.80,307.27 357.30,306.33 357.80,305.29 358.30,304.16 358.80,302.92 359.30,301.59 359.80,300.15 360.30,298.61 360.80,296.98 361.30,295.26 361.80,293.46 362.30,291.60 362.80,289.68 363.30,287.74 363.80,285.77 364.30,283.81 364.80,281.88 365.30,279.99 365.80,278.17 366.30,276.43 366.80,274.78 367.30,273.24 367.80,271.82 368.30,270.51 368.80,269.32 369.30,268.25 369.80,267.28 370.30,266.41 370.80,265.63 371.30,264.93 371.80,264.30 372.30,263.72 372.80,263.17 373.30,262.67 373.80,262.18 374.30,261.72 374.80,261.27 375.30,260.83 375.80,260.39 376.30,259.97 376.80,259.56 377.30,259.15 377.80,258.77 378.30,258.40 378.80,258.05 379.30,257.72 379.80,257.43 380.30,257.16 380.80,256.92 381.30,256.72 381.80,256.56 382.30,256.44 382.80,256.37 383.30,256.34 383.80,256.36 384.30,256.43 384.80,256.55 385.30,256.73 385.80,256.97 386.30,257.27 386.80,257.64 387.30,258.07 387.80,258.57 388.30,259.14 388.80,259.77 389.30,260.48 389.80,261.27 390.30,262.12 390.80,263.04 391.30,264.04 391.80,265.10 392.30,266.23 392.80,267.42 393.30,268.67 393.80,269.98 394.30,271.34 394.80,272.75 395.30,274.20 395.80,275.69 396.30,277.21 396.80,278.76 397.30,280.33 397.80,281.92 398.30,283.51 398.80,285.11 399.30,286.70 399.80,288.29 400.30,289.86 400.80,291.42 401.30,292.95 401.80,294.45 402.30,295.92 402.80,297.36 403.30,298.75 403.80,300.10 404.30,301.41 404.80,302.67 405.30,303.88 405.80,305.04 406.30,306.15 406.80,307.20 407.30,308.20 407.80,309.15 408.30,310.05 408.80,310.90 409.30,311.70 409.80,312.45 410.30,313.15 410.80,313.81 411.30,314.42 411.80,314.99 412.30,315.52 412.80,316.01 413.30,316.47 413.80,316.89 414.30,317.27 414.80,317.63 415.30,317.96 415.80,318.26 416.30,318.54 416.80,318.79 417.30,319.02 417.80,319.23 418.30,319.43 418.80,319.61 419.30,319.77 419.80,319.92 420.30,320.06 420.80,320.18 421.30,320.30 421.80,320.41 422.30,320.51 422.80,320.60 423.30,320.69 423.80,320.77 424.30,320.85 424.80,320.92 425.30,320.99 425.80,321.05 426.30,321.11 426.80,321.17 427.30,321.23 427.80,321.28 428.30,321.33 428.80,321.39 429.30,321.44 429.80,321.49 430.30,321.53 430.80,321.58 431.30,321.63 431.80,321.68 432.30,321.72 432.80,321.77 433.30,321.81 433.80,321.86 434.30,321.90 434.80,321.94 435.30,321.99 435.80,322.03 436.30,322.08 436.80,322.12 437.30,322.16 437.80,322.21 438.30,322.25 438.80,322.30 439.30,322.34 439.80,322.38 440.30,322.43 440.80,322.47 441.30,322.51 441.80,322.56 442.30,322.60 442.80,322.64 443.30,322.69 443.80,322.73 444.30,322.77 444.80,322.82 445.30,322.86 445.80,322.90 446.30,322.95 446.80,322.99 447.30,323.03 447.80,323.08 448.30,323.12 448.80,323.16 449.30,323.21 449.80,323.25 450.30,323.29 450.80,323.34 451.30,323.38 451.80,323.42 452.30,323.47 452.80,323.51 453.30,323.55 453.80,323.60 454.30,323.64 454.80,323.68 455.30,323.73 455.80,323.77 456.30,323.81 456.80,323.86 457.30,323.90 457.80,323.94 458.30,323.99 458.80,324.03 459.30,324.07 459.80,324.12 460.30,324.16 460.80,324.20 461.30,324.25 461.80,324.29 462.30,324.33 462.80,324.38 463.30,324.42 463.80,324.46 464.30,324.51 464.80,324.55 465.30,324.59 465.80,324.64 466.30,324.68 466.80,324.72 467.30,324.77 467.80,324.81 468.30,324.85 468.80,324.90 469.30,324.94 469.80,324.98 470.30,324.98 470.80,324.95 471.30,324.91 471.80,324.88 472.30,324.85 472.80,324.81 473.30,324.78 473.80,324.75 474.30,324.71 474.80,324.68 475.30,324.65 475.80,324.61 476.30,324.58 476.80,324.55 477.30,324.51 477.80,324.48 478.30,324.45 478.80,324.41 479.30,324.38 479.80,324.35 480.30,324.31 480.80,324.28 481.30,324.25 481.80,324.21 482.30,324.18 482.80,324.15 483.30,324.11 483.80,324.08 484.30,324.05 484.80,324.01 485.30,323.98 485.80,323.95 486.30,323.91 486.80,323.88 487.30,323.85 487.80,323.81 488.30,323.78 488.80,323.75 489.30,323.71 489.80,323.68 490.30,323.65 490.80,323.61 491.30,323.58 491.80,323.55 492.30,323.51 492.80,323.48 493.30,323.45 493.80,323.41 494.30,323.38 494.80,323.35 495.30,323.31 495.80,323.28 496.30,323.25 496.80,323.21 497.30,323.18 497.80,323.15 498.30,323.11 498.80,323.08 499.30,323.05 499.80,323.01 500.30,322.98 500.80,322.95 501.30,322.93 501.80,322.90 502.30,322.87 502.80,322.84 503.30,322.81 503.80,322.79 504.30,322.76 504.80,322.73 505.30,322.70 505.80,322.67 506.30,322.65 506.80,322.62 507.30,322.59 507.80,322.56 508.30,322.53 508.80,322.50 509.30,322.48 509.80,322.45 510.30,322.42 510.80,322.39 511.30,322.36 511.80,322.34 512.30,322.31 512.80,322.28 513.30,322.25 513.80,322.22 514.30,322.19 514.80,322.17 515.30,322.14 515.80,322.11 516.30,322.08 516.80,322.05 517.30,322.03 517.80,322.00 518.30,321.97 518.80,321.94 519.30,321.91 519.80,321.88 520.30,321.86 520.80,321.83 521.30,321.80 521.80,321.77 522.30,321.74 522.80,321.72 523.30,321.69 523.80,321.66 524.30,321.63 524.80,321.60 525.30,321.57 525.80,321.55 526.30,321.52 526.80,321.49 527.30,321.46 527.80,321.43 528.30,321.41 528.80,321.38 529.30,321.35 529.80,321.32 530.30,321.29 530.80,321.26 531.30,321.24 531.80,321.21 532.30,321.18 532.80,321.15 533.30,321.12 533.80,321.10 534.30,321.07 534.80,321.04"/>
<text x="332" y="270.8" font-size="8.8" fill="#ff00ff" stroke="#ff00ff" stroke-width="0.18" font-family='"Liberation Sans", sans-serif'>C-N=C</text>
<line x1="341.2" y1="273" x2="374.6" y2="316" stroke="#ff30ff" stroke-width="0.9"/>
<text x="397.7" y="249" font-size="8.8" fill="#ff0000" stroke="#ff0000" stroke-width="0.18" font-family='"Liberation Sans", sans-serif'>P-N</text>
<line x1="402.5" y1="250.1" x2="392.7" y2="271.6" stroke="#ff0000" stroke-width="0.9"/>
<polygon points="392.70,271.60 392.57,268.02 395.48,269.35" fill="#ff0000"/>
<text x="406.1" y="269" font-size="8.8" fill="#0000ff" stroke="#0000ff" stroke-width="0.18" font-family='"Liberation Sans", sans-serif'>C-N</text>
<line x1="409.4" y1="271.6" x2="385" y2="295.2" stroke="#0000ff" stroke-width="0.9"/>
<polygon points="385.00,295.20 386.19,291.83 388.41,294.13" fill="#0000ff"/>
<text x="-0.7" y="398.2" font-size="17.5" fill="#000" text-anchor="start" font-family='"Liberation Serif", serif' >(e)</text>
<rect x="28" y="386" width="228.5" height="158.60000000000002" fill="none" stroke="#222" stroke-width="1.4"/>
<line x1="28.20" y1="544.6" x2="28.20" y2="547.6" stroke="#222" stroke-width="1.0"/>
<line x1="104.20" y1="544.6" x2="104.20" y2="547.6" stroke="#222" stroke-width="1.0"/>
<line x1="180.20" y1="544.6" x2="180.20" y2="547.6" stroke="#222" stroke-width="1.0"/>
<line x1="256.20" y1="544.6" x2="256.20" y2="547.6" stroke="#222" stroke-width="1.0"/>
<line x1="66.20" y1="544.6" x2="66.20" y2="547.1" stroke="#222" stroke-width="1.0"/>
<line x1="142.20" y1="544.6" x2="142.20" y2="547.1" stroke="#222" stroke-width="1.0"/>
<line x1="218.20" y1="544.6" x2="218.20" y2="547.1" stroke="#222" stroke-width="1.0"/>
<text x="28.2" y="556" font-size="8.8" fill="#111" text-anchor="middle" font-family='"Liberation Sans", sans-serif' >280</text>
<text x="104.2" y="556" font-size="8.8" fill="#111" text-anchor="middle" font-family='"Liberation Sans", sans-serif' >285</text>
<text x="180.2" y="556" font-size="8.8" fill="#111" text-anchor="middle" font-family='"Liberation Sans", sans-serif' >290</text>
<text x="256.2" y="556" font-size="8.8" fill="#111" text-anchor="middle" font-family='"Liberation Sans", sans-serif' >295</text>
<text x="141.5" y="571" font-size="8.5" fill="#222" text-anchor="middle" font-family='"Liberation Sans", sans-serif' >Binding energy / eV</text>
<text x="10.8" y="470.5" font-size="9" fill="#222" text-anchor="middle" font-family='"Liberation Sans", sans-serif' transform="rotate(-90 10.8 470.5)">Intensity / a.u.</text>
<text x="36.7" y="401" font-size="8.5" fill="#111" stroke="#111" stroke-width="0.15" font-family='"Liberation Serif", serif'>C1s</text>
<clipPath id="ce"><rect x="28.6" y="386.6" width="227.3" height="157.39999999999998"/></clipPath>
<polyline fill="none" stroke="#9020ff" stroke-width="1.2" stroke-opacity="1.0" stroke-linejoin="round" clip-path="url(#ce)" points="28.80,524.30 29.30,524.30 29.80,524.30 30.30,524.30 30.80,524.30 31.30,524.30 31.80,524.30 32.30,524.30 32.80,524.30 33.30,524.30 33.80,524.30 34.30,524.30 34.80,524.30 35.30,524.30 35.80,524.30 36.30,524.30 36.80,524.30 37.30,524.30 37.80,524.30 38.30,524.30 38.80,524.30 39.30,524.30 39.80,524.30 40.30,524.30 40.80,524.30 41.30,524.30 41.80,524.30 42.30,524.30 42.80,524.30 43.30,524.30 43.80,524.30 44.30,524.30 44.80,524.30 45.30,524.30 45.80,524.30 46.30,524.30 46.80,524.30 47.30,524.30 47.80,524.30 48.30,524.30 48.80,524.30 49.30,524.30 49.80,524.30 50.30,524.30 50.80,524.30 51.30,524.30 51.80,524.30 52.30,524.30 52.80,524.30 53.30,524.30 53.80,524.30 54.30,524.30 54.80,524.30 55.30,524.30 55.80,524.30 56.30,524.30 56.80,524.30 57.30,524.30 57.80,524.30 58.30,524.30 58.80,524.30 59.30,524.30 59.80,524.30 60.30,524.30 60.80,524.30 61.30,524.30 61.80,524.30 62.30,524.30 62.80,524.30 63.30,524.30 63.80,524.30 64.30,524.30 64.80,524.30 65.30,524.30 65.80,524.30 66.30,524.30 66.80,524.30 67.30,524.30 67.80,524.30 68.30,524.30 68.80,524.30 69.30,524.30 69.80,524.30 70.30,524.30 70.80,524.30 71.30,524.30 71.80,524.30 72.30,524.30 72.80,524.30 73.30,524.30 73.80,524.30 74.30,524.30 74.80,524.30 75.30,524.30 75.80,524.30 76.30,524.30 76.80,524.30 77.30,524.30 77.80,524.30 78.30,524.30 78.80,524.30 79.30,524.30 79.80,524.30 80.30,524.30 80.80,524.30 81.30,524.30 81.80,524.30 82.30,524.30 82.80,524.30 83.30,524.30 83.80,524.30 84.30,524.30 84.80,524.30 85.30,524.30 85.80,524.30 86.30,524.30 86.80,524.30 87.30,524.30 87.80,524.30 88.30,524.30 88.80,524.30 89.30,524.30 89.80,524.30 90.30,524.28 90.80,524.25 91.30,524.23 91.80,524.20 92.30,524.17 92.80,524.14 93.30,524.11 93.80,524.08 94.30,524.05 94.80,524.02 95.30,524.00 95.80,523.97 96.30,523.94 96.80,523.91 97.30,523.88 97.80,523.85 98.30,523.82 98.80,523.79 99.30,523.77 99.80,523.74 100.30,523.71 100.80,523.68 101.30,523.65 101.80,523.62 102.30,523.59 102.80,523.56 103.30,523.54 103.80,523.51 104.30,523.48 104.80,523.45 105.30,523.42 105.80,523.39 106.30,523.36 106.80,523.33 107.30,523.31 107.80,523.28 108.30,523.25 108.80,523.22 109.30,523.19 109.80,523.16 110.30,523.13 110.80,523.10 111.30,523.08 111.80,523.05 112.30,523.02 112.80,522.99 113.30,522.96 113.80,522.93 114.30,522.90 114.80,522.87 115.30,522.85 115.80,522.82 116.30,522.79 116.80,522.76 117.30,522.73 117.80,522.70 118.30,522.67 118.80,522.64 119.30,522.62 119.80,522.59 120.30,522.56 120.80,522.53 121.30,522.50 121.80,522.47 122.30,522.44 122.80,522.41 123.30,522.39 123.80,522.36 124.30,522.33 124.80,522.30 125.30,522.27 125.80,522.24 126.30,522.21 126.80,522.18 127.30,522.16 127.80,522.13 128.30,522.10 128.80,522.07 129.30,522.04 129.80,522.01 130.30,522.00 130.80,522.00 131.30,521.99 131.80,521.99 132.30,521.99 132.80,521.99 133.30,521.98 133.80,521.98 134.30,521.98 134.80,521.98 135.30,521.97 135.80,521.97 136.30,521.97 136.80,521.97 137.30,521.97 137.80,521.96 138.30,521.96 138.80,521.96 139.30,521.96 139.80,521.95 140.30,521.95 140.80,521.95 141.30,521.95 141.80,521.94 142.30,521.94 142.80,521.94 143.30,521.94 143.80,521.93 144.30,521.93 144.80,521.93 145.30,521.93 145.80,521.92 146.30,521.92 146.80,521.92 147.30,521.92 147.80,521.92 148.30,521.91 148.80,521.91 149.30,521.91 149.80,521.91 150.30,521.90 150.80,521.90 151.30,521.90 151.80,521.90 152.30,521.89 152.80,521.89 153.30,521.89 153.80,521.89 154.30,521.88 154.80,521.88 155.30,521.88 155.80,521.88 156.30,521.87 156.80,521.87 157.30,521.87 157.80,521.87 158.30,521.87 158.80,521.86 159.30,521.86 159.80,521.86 160.30,521.86 160.80,521.85 161.30,521.85 161.80,521.85 162.30,521.85 162.80,521.84 163.30,521.84 163.80,521.84 164.30,521.84 164.80,521.83 165.30,521.83 165.80,521.83 166.30,521.83 166.80,521.82 167.30,521.82 167.80,521.82 168.30,521.82 168.80,521.82 169.30,521.81 169.80,521.81 170.30,521.81 170.80,521.81 171.30,521.80 171.80,521.80 172.30,521.80 172.80,521.80 173.30,521.79 173.80,521.79 174.30,521.79 174.80,521.79 175.30,521.78 175.80,521.78 176.30,521.78 176.80,521.78 177.30,521.77 177.80,521.77 178.30,521.77 178.80,521.77 179.30,521.77 179.80,521.76 180.30,521.76 180.80,521.76 181.30,521.76 181.80,521.75 182.30,521.75 182.80,521.75 183.30,521.75 183.80,521.74 184.30,521.74 184.80,521.74 185.30,521.74 185.80,521.73 186.30,521.73 186.80,521.73 187.30,521.73 187.80,521.72 188.30,521.72 188.80,521.72 189.30,521.72 189.80,521.72 190.30,521.71 190.80,521.71 191.30,521.71 191.80,521.71 192.30,521.70 192.80,521.70 193.30,521.70 193.80,521.70 194.30,521.69 194.80,521.69 195.30,521.69 195.80,521.69 196.30,521.68 196.80,521.68 197.30,521.68 197.80,521.68 198.30,521.67 198.80,521.67 199.30,521.67 199.80,521.67 200.30,521.67 200.80,521.66 201.30,521.66 201.80,521.66 202.30,521.66 202.80,521.65 203.30,521.65 203.80,521.65 204.30,521.65 204.80,521.64 205.30,521.64 205.80,521.64 206.30,521.64 206.80,521.63 207.30,521.63 207.80,521.63 208.30,521.63 208.80,521.62 209.30,521.62 209.80,521.62 210.30,521.62 210.80,521.62 211.30,521.61 211.80,521.61 212.30,521.61 212.80,521.61 213.30,521.60 213.80,521.60 214.30,521.60 214.80,521.60 215.30,521.59 215.80,521.59 216.30,521.59 216.80,521.59 217.30,521.58 217.80,521.58 218.30,521.58 218.80,521.58 219.30,521.57 219.80,521.57 220.30,521.57 220.80,521.57 221.30,521.57 221.80,521.56 222.30,521.56 222.80,521.56 223.30,521.56 223.80,521.55 224.30,521.55 224.80,521.55 225.30,521.55 225.80,521.54 226.30,521.54 226.80,521.54 227.30,521.54 227.80,521.53 228.30,521.53 228.80,521.53 229.30,521.53 229.80,521.52 230.30,521.52 230.80,521.52 231.30,521.52 231.80,521.52 232.30,521.51 232.80,521.51 233.30,521.51 233.80,521.51 234.30,521.50 234.80,521.50 235.30,521.50 235.80,521.50 236.30,521.49 236.80,521.49 237.30,521.49 237.80,521.49 238.30,521.48 238.80,521.48 239.30,521.48 239.80,521.48 240.30,521.47 240.80,521.47 241.30,521.47 241.80,521.47 242.30,521.47 242.80,521.46 243.30,521.46 243.80,521.46 244.30,521.46 244.80,521.45 245.30,521.45 245.80,521.45 246.30,521.45 246.80,521.44 247.30,521.44 247.80,521.44 248.30,521.44 248.80,521.43 249.30,521.43 249.80,521.43 250.30,521.43 250.80,521.42 251.30,521.42 251.80,521.42 252.30,521.42 252.80,521.42 253.30,521.41 253.80,521.41 254.30,521.41 254.80,521.41 255.30,521.40 255.80,521.40"/>
<polyline fill="none" stroke="#0000ff" stroke-width="1.2" stroke-opacity="1.0" stroke-linejoin="round" clip-path="url(#ce)" points="63.30,524.00 63.80,523.97 64.30,523.94 64.80,523.91 65.30,523.88 65.80,523.85 66.30,523.81 66.80,523.77 67.30,523.73 67.80,523.69 68.30,523.64 68.80,523.59 69.30,523.54 69.80,523.48 70.30,523.42 70.80,523.36 71.30,523.29 71.80,523.22 72.30,523.15 72.80,523.07 73.30,522.98 73.80,522.90 74.30,522.81 74.80,522.71 75.30,522.61 75.80,522.51 76.30,522.40 76.80,522.28 77.30,522.16 77.80,522.04 78.30,521.91 78.80,521.77 79.30,521.63 79.80,521.49 80.30,521.33 80.80,521.18 81.30,521.02 81.80,520.85 82.30,520.68 82.80,520.50 83.30,520.32 83.80,520.13 84.30,519.94 84.80,519.74 85.30,519.53 85.80,519.33 86.30,519.12 86.80,518.90 87.30,518.68 87.80,518.46 88.30,518.23 88.80,518.00 89.30,517.77 89.80,517.53 90.30,517.28 90.80,517.01 91.30,516.74 91.80,516.47 92.30,516.19 92.80,515.92 93.30,515.65 93.80,515.38 94.30,515.10 94.80,514.83 95.30,514.57 95.80,514.30 96.30,514.04 96.80,513.78 97.30,513.52 97.80,513.27 98.30,513.03 98.80,512.79 99.30,512.55 99.80,512.32 100.30,512.10 100.80,511.88 101.30,511.68 101.80,511.48 102.30,511.29 102.80,511.10 103.30,510.93 103.80,510.77 104.30,510.62 104.80,510.47 105.30,510.34 105.80,510.22 106.30,510.11 106.80,510.01 107.30,509.92 107.80,509.85 108.30,509.78 108.80,509.73 109.30,509.69 109.80,509.66 110.30,509.65 110.80,509.64 111.30,509.65 111.80,509.67 112.30,509.70 112.80,509.74 113.30,509.80 113.80,509.86 114.30,509.94 114.80,510.03 115.30,510.12 115.80,510.23 116.30,510.35 116.80,510.47 117.30,510.61 117.80,510.75 118.30,510.90 118.80,511.06 119.30,511.22 119.80,511.40 120.30,511.57 120.80,511.76 121.30,511.95 121.80,512.14 122.30,512.34 122.80,512.54 123.30,512.75 123.80,512.96 124.30,513.17 124.80,513.38 125.30,513.59 125.80,513.81 126.30,514.02 126.80,514.24 127.30,514.45 127.80,514.67 128.30,514.88 128.80,515.09 129.30,515.30 129.80,515.51 130.30,515.73 130.80,515.95 131.30,516.18 131.80,516.40 132.30,516.62 132.80,516.83 133.30,517.04 133.80,517.24 134.30,517.44 134.80,517.64 135.30,517.83 135.80,518.01 136.30,518.19 136.80,518.37 137.30,518.53 137.80,518.70 138.30,518.86 138.80,519.01 139.30,519.16 139.80,519.30 140.30,519.44 140.80,519.57 141.30,519.70 141.80,519.82 142.30,519.94 142.80,520.05 143.30,520.16 143.80,520.26 144.30,520.36 144.80,520.45 145.30,520.54 145.80,520.62 146.30,520.70 146.80,520.77 147.30,520.85 147.80,520.91 148.30,520.98 148.80,521.04 149.30,521.09 149.80,521.15 150.30,521.20 150.80,521.25 151.30,521.29 151.80,521.33 152.30,521.37 152.80,521.41 153.30,521.44 153.80,521.47 154.30,521.50 154.80,521.53 155.30,521.55 155.80,521.58"/>
<polyline fill="none" stroke="#ff00ff" stroke-width="1.2" stroke-opacity="1.0" stroke-linejoin="round" clip-path="url(#ce)" points="91.30,523.89 91.80,523.79 92.30,523.67 92.80,523.54 93.30,523.40 93.80,523.23 94.30,523.05 94.80,522.84 95.30,522.61 95.80,522.36 96.30,522.07 96.80,521.76 97.30,521.42 97.80,521.05 98.30,520.65 98.80,520.22 99.30,519.76 99.80,519.27 100.30,518.75 100.80,518.22 101.30,517.66 101.80,517.09 102.30,516.51 102.80,515.92 103.30,515.33 103.80,514.75 104.30,514.19 104.80,513.64 105.30,513.12 105.80,512.64 106.30,512.20 106.80,511.80 107.30,511.46 107.80,511.17 108.30,510.95 108.80,510.79 109.30,510.70 109.80,510.67 110.30,510.72 110.80,510.82 111.30,511.00 111.80,511.23 112.30,511.53 112.80,511.87 113.30,512.26 113.80,512.69 114.30,513.16 114.80,513.65 115.30,514.16 115.80,514.68 116.30,515.21 116.80,515.74 117.30,516.26 117.80,516.77 118.30,517.27 118.80,517.75 119.30,518.20 119.80,518.63 120.30,519.03 120.80,519.40 121.30,519.74 121.80,520.05 122.30,520.33 122.80,520.58 123.30,520.80 123.80,521.00 124.30,521.17 124.80,521.31 125.30,521.44 125.80,521.54 126.30,521.63 126.80,521.70 127.30,521.75 127.80,521.80"/>
<polyline fill="none" stroke="#00a000" stroke-width="1.2" stroke-opacity="1.0" stroke-linejoin="round" clip-path="url(#ce)" points="114.80,522.56 115.30,522.50 115.80,522.43 116.30,522.36 116.80,522.28 117.30,522.20 117.80,522.12 118.30,522.03 118.80,521.94 119.30,521.84 119.80,521.74 120.30,521.64 120.80,521.53 121.30,521.42 121.80,521.30 122.30,521.18 122.80,521.06 123.30,520.93 123.80,520.80 124.30,520.67 124.80,520.53 125.30,520.40 125.80,520.26 126.30,520.12 126.80,519.98 127.30,519.84 127.80,519.71 128.30,519.57 128.80,519.44 129.30,519.31 129.80,519.18 130.30,519.08 130.80,518.99 131.30,518.90 131.80,518.82 132.30,518.75 132.80,518.69 133.30,518.63 133.80,518.58 134.30,518.54 134.80,518.51 135.30,518.49 135.80,518.47 136.30,518.47 136.80,518.48 137.30,518.49 137.80,518.52 138.30,518.55 138.80,518.59 139.30,518.64 139.80,518.70 140.30,518.76 140.80,518.83 141.30,518.91 141.80,519.00 142.30,519.09 142.80,519.18 143.30,519.28 143.80,519.38 144.30,519.48 144.80,519.59 145.30,519.69 145.80,519.80 146.30,519.91 146.80,520.02 147.30,520.12 147.80,520.22 148.30,520.33 148.80,520.43 149.30,520.52 149.80,520.62 150.30,520.71 150.80,520.79 151.30,520.87 151.80,520.95 152.30,521.03 152.80,521.10 153.30,521.16 153.80,521.23 154.30,521.28 154.80,521.34 155.30,521.39 155.80,521.43 156.30,521.48 156.80,521.51 157.30,521.55"/>
<polyline fill="none" stroke="#101090" stroke-width="1.2" stroke-opacity="1.0" stroke-linejoin="round" clip-path="url(#ce)" points="142.80,521.63 143.30,521.59 143.80,521.55 144.30,521.51 144.80,521.46 145.30,521.41 145.80,521.36 146.30,521.30 146.80,521.24 147.30,521.18 147.80,521.11 148.30,521.04 148.80,520.96 149.30,520.88 149.80,520.80 150.30,520.72 150.80,520.63 151.30,520.54 151.80,520.45 152.30,520.35 152.80,520.26 153.30,520.16 153.80,520.07 154.30,519.97 154.80,519.87 155.30,519.78 155.80,519.69 156.30,519.60 156.80,519.51 157.30,519.42 157.80,519.34 158.30,519.27 158.80,519.19 159.30,519.13 159.80,519.07 160.30,519.01 160.80,518.97 161.30,518.93 161.80,518.89 162.30,518.87 162.80,518.85 163.30,518.84 163.80,518.84 164.30,518.85 164.80,518.86 165.30,518.88 165.80,518.91 166.30,518.95 166.80,519.00 167.30,519.05 167.80,519.10 168.30,519.17 168.80,519.24 169.30,519.31 169.80,519.39 170.30,519.47 170.80,519.55 171.30,519.64 171.80,519.73 172.30,519.82 172.80,519.91 173.30,520.00 173.80,520.09 174.30,520.18 174.80,520.27 175.30,520.36 175.80,520.45 176.30,520.53 176.80,520.61 177.30,520.69 177.80,520.77 178.30,520.84 178.80,520.91 179.30,520.98 179.80,521.04 180.30,521.10 180.80,521.15 181.30,521.20 181.80,521.25 182.30,521.30 182.80,521.34 183.30,521.38 183.80,521.41"/>
<polyline fill="none" stroke="#ff0000" stroke-width="1.2" stroke-opacity="1.0" stroke-linejoin="round" clip-path="url(#ce)" points="76.80,524.00 77.30,523.92 77.80,523.82 78.30,523.69 78.80,523.54 79.30,523.35 79.80,523.12 80.30,522.85 80.80,522.52 81.30,522.13 81.80,521.66 82.30,521.11 82.80,520.47 83.30,519.71 83.80,518.84 84.30,517.83 84.80,516.67 85.30,515.35 85.80,513.85 86.30,512.16 86.80,510.26 87.30,508.16 87.80,505.82 88.30,503.26 88.80,500.45 89.30,497.41 89.80,494.13 90.30,490.60 90.80,486.83 91.30,482.85 91.80,478.69 92.30,474.36 92.80,469.89 93.30,465.32 93.80,460.68 94.30,456.02 94.80,451.38 95.30,446.81 95.80,442.37 96.30,438.10 96.80,434.05 97.30,430.28 97.80,426.84 98.30,423.78 98.80,421.12 99.30,418.92 99.80,417.21 100.30,416.00 100.80,415.32 101.30,415.17 101.80,415.56 102.30,416.48 102.80,417.92 103.30,419.85 103.80,422.25 104.30,425.09 104.80,428.31 105.30,431.88 105.80,435.75 106.30,439.87 106.80,444.19 107.30,448.65 107.80,453.21 108.30,457.81 108.80,462.40 109.30,466.95 109.80,471.41 110.30,475.75 110.80,479.94 111.30,483.94 111.80,487.74 112.30,491.33 112.80,494.68 113.30,497.80 113.80,500.68 114.30,503.33 114.80,505.73 115.30,507.91 115.80,509.87 116.30,511.62 116.80,513.17 117.30,514.54 117.80,515.74 118.30,516.78 118.80,517.69 119.30,518.46 119.80,519.13 120.30,519.69 120.80,520.16 121.30,520.56 121.80,520.88 122.30,521.15 122.80,521.37 123.30,521.55 123.80,521.68 124.30,521.79 124.80,521.87 125.30,521.93"/>
<polyline fill="none" stroke="#222" stroke-width="0.9" stroke-opacity="1.0" stroke-linejoin="round" clip-path="url(#ce)" points="28.80,523.95 29.30,524.09 29.80,524.33 30.30,523.88 30.80,524.06 31.30,525.00 31.80,523.93 32.30,524.02 32.80,523.56 33.30,524.30 33.80,523.80 34.30,524.59 34.80,524.37 35.30,524.23 35.80,523.77 36.30,523.82 36.80,523.80 37.30,523.95 37.80,523.80 38.30,523.73 38.80,523.94 39.30,523.89 39.80,523.76 40.30,524.20 40.80,524.24 41.30,523.68 41.80,524.61 42.30,523.99 42.80,524.27 43.30,524.49 43.80,523.34 44.30,524.00 44.80,524.13 45.30,524.22 45.80,524.07 46.30,524.14 46.80,523.26 47.30,523.44 47.80,523.95 48.30,523.04 48.80,523.54 49.30,523.65 49.80,523.84 50.30,524.00 50.80,523.76 51.30,523.38 51.80,523.32 52.30,523.78 52.80,523.82 53.30,523.73 53.80,523.63 54.30,523.60 54.80,523.06 55.30,523.51 55.80,523.76 56.30,523.08 56.80,523.60 57.30,523.67 57.80,524.21 58.30,523.35 58.80,523.25 59.30,522.89 59.80,522.90 60.30,522.68 60.80,522.58 61.30,523.41 61.80,523.12 62.30,523.19 62.80,522.48 63.30,522.29 63.80,522.32 64.30,523.44 64.80,523.22 65.30,522.30 65.80,522.74 66.30,522.70 66.80,522.23 67.30,522.27 67.80,522.75 68.30,522.58 68.80,522.56 69.30,522.27 69.80,522.11 70.30,522.14 70.80,521.80 71.30,522.33 71.80,521.70 72.30,521.68 72.80,521.33 73.30,520.99 73.80,521.05 74.30,520.79 74.80,520.45 75.30,520.82 75.80,521.02 76.30,520.21 76.80,519.84 77.30,519.36 77.80,518.81 78.30,519.22 78.80,518.85 79.30,517.99 79.80,517.86 80.30,517.05 80.80,517.29 81.30,516.23 81.80,515.66 82.30,515.33 82.80,513.10 83.30,513.04 83.80,511.90 84.30,510.49 84.80,509.23 85.30,508.13 85.80,505.78 86.30,503.91 86.80,502.67 87.30,500.15 87.80,497.48 88.30,494.88 88.80,491.70 89.30,488.40 89.80,485.05 90.30,481.58 90.80,477.44 91.30,472.98 91.80,469.22 92.30,464.94 92.80,460.22 93.30,455.82 93.80,450.92 94.30,446.35 94.80,441.25 95.30,436.38 95.80,431.96 96.30,427.53 96.80,422.72 97.30,418.47 97.80,415.39 98.30,411.24 98.80,408.41 99.30,405.39 99.80,403.33 100.30,401.90 100.80,400.65 101.30,398.77 101.80,398.38 102.30,397.89 102.80,399.90 103.30,401.36 103.80,402.51 104.30,404.35 104.80,407.16 105.30,409.35 105.80,413.02 106.30,416.66 106.80,420.27 107.30,423.93 107.80,427.51 108.30,431.68 108.80,435.66 109.30,440.83 109.80,444.83 110.30,448.55 110.80,452.66 111.30,456.78 111.80,460.37 112.30,464.53 112.80,468.14 113.30,471.56 113.80,474.71 114.30,476.93 114.80,480.63 115.30,482.95 115.80,485.40 116.30,489.11 116.80,490.36 117.30,492.49 117.80,494.31 118.30,495.82 118.80,498.22 119.30,498.45 119.80,500.54 120.30,501.33 120.80,503.03 121.30,503.83 121.80,504.43 122.30,504.66 122.80,506.13 123.30,506.82 123.80,507.28 124.30,507.45 124.80,508.23 125.30,508.15 125.80,508.88 126.30,509.26 126.80,509.36 127.30,509.38 127.80,509.90 128.30,509.92 128.80,510.03 129.30,511.02 129.80,510.81 130.30,510.89 130.80,511.10 131.30,511.64 131.80,511.58 132.30,511.65 132.80,512.18 133.30,512.33 133.80,512.17 134.30,512.31 134.80,513.32 135.30,512.98 135.80,513.69 136.30,513.69 136.80,513.66 137.30,513.81 137.80,514.66 138.30,514.08 138.80,514.38 139.30,514.44 139.80,514.88 140.30,514.81 140.80,515.38 141.30,515.11 141.80,515.93 142.30,516.06 142.80,516.22 143.30,516.12 143.80,516.96 144.30,517.39 144.80,516.82 145.30,516.77 145.80,517.41 146.30,517.27 146.80,517.53 147.30,517.84 147.80,517.27 148.30,518.10 148.80,517.59 149.30,517.61 149.80,517.99 150.30,518.70 150.80,518.04 151.30,518.47 151.80,518.04 152.30,518.61 152.80,518.53 153.30,518.84 153.80,518.51 154.30,518.46 154.80,517.81 155.30,518.56 155.80,518.71 156.30,518.49 156.80,518.47 157.30,518.59 157.80,518.67 158.30,518.04 158.80,518.31 159.30,518.46 159.80,518.39 160.30,517.96 160.80,517.60 161.30,518.38 161.80,518.52 162.30,518.86 162.80,518.43 163.30,518.00 163.80,518.48 164.30,518.31 164.80,518.15 165.30,517.93 165.80,517.84 166.30,518.28 166.80,518.44 167.30,518.67 167.80,518.72 168.30,518.87 168.80,519.52 169.30,518.93 169.80,519.51 170.30,518.85 170.80,518.96 171.30,519.13 171.80,518.78 172.30,520.07 172.80,519.69 173.30,519.94 173.80,520.39 174.30,520.04 174.80,520.54 175.30,519.26 175.80,520.61 176.30,520.36 176.80,520.15 177.30,520.80 177.80,520.51 178.30,520.34 178.80,519.98 179.30,521.34 179.80,519.88 180.30,520.88 180.80,521.46 181.30,521.19 181.80,520.80 182.30,520.97 182.80,520.90 183.30,521.24 183.80,521.16 184.30,520.77 184.80,520.74 185.30,521.68 185.80,520.87 186.30,520.94 186.80,522.16 187.30,521.08 187.80,520.93 188.30,521.07 188.80,521.68 189.30,521.17 189.80,521.39 190.30,520.65 190.80,521.24 191.30,521.48 191.80,521.49 192.30,521.99 192.80,521.66 193.30,520.48 193.80,520.92 194.30,521.18 194.80,521.39 195.30,521.51 195.80,521.71 196.30,520.91 196.80,520.72 197.30,521.77 197.80,521.15 198.30,520.67 198.80,521.16 199.30,521.34 199.80,521.07 200.30,521.08 200.80,521.85 201.30,521.11 201.80,521.60 202.30,521.57 202.80,521.36 203.30,522.31 203.80,521.02 204.30,522.39 204.80,521.15 205.30,521.39 205.80,521.59 206.30,521.87 206.80,521.73 207.30,521.36 207.80,521.36 208.30,521.89 208.80,522.02 209.30,521.29 209.80,521.91 210.30,521.67 210.80,521.57 211.30,521.09 211.80,521.03 212.30,521.62 212.80,520.50 213.30,521.30 213.80,521.62 214.30,520.88 214.80,522.04 215.30,522.05 215.80,521.09 216.30,521.42 216.80,521.42 217.30,521.27 217.80,521.29 218.30,521.63 218.80,522.04 219.30,521.49 219.80,521.49 220.30,521.50 220.80,521.21 221.30,521.67 221.80,521.28 222.30,521.10 222.80,521.68 223.30,520.79 223.80,521.27 224.30,521.31 224.80,521.40 225.30,520.90 225.80,521.11 226.30,521.39 226.80,521.65 227.30,521.39 227.80,521.36 228.30,521.14 228.80,521.44 229.30,520.45 229.80,521.65 230.30,521.76 230.80,521.42 231.30,521.08 231.80,521.89 232.30,521.18 232.80,521.89 233.30,521.32 233.80,521.15 234.30,521.34 234.80,521.17 235.30,521.35 235.80,521.58 236.30,521.32 236.80,521.24 237.30,521.40 237.80,521.54 238.30,521.40 238.80,521.59 239.30,521.60 239.80,521.49 240.30,521.64 240.80,521.40 241.30,521.78 241.80,521.53 242.30,521.68 242.80,521.32 243.30,520.89 243.80,521.23 244.30,521.39 244.80,521.50 245.30,521.36 245.80,521.88 246.30,520.92 246.80,520.76 247.30,521.30 247.80,521.13 248.30,521.37 248.80,521.59 249.30,522.30 249.80,520.90 250.30,520.99 250.80,521.33 251.30,520.84 251.80,521.09 252.30,521.79 252.80,521.33 253.30,521.33 253.80,521.72 254.30,520.75 254.80,521.38 255.30,521.32 255.80,521.43"/>
<polyline fill="none" stroke="#800080" stroke-width="1.3" stroke-opacity="0.85" stroke-linejoin="round" clip-path="url(#ce)" points="28.80,524.00 29.30,524.00 29.80,523.99 30.30,523.99 30.80,523.99 31.30,523.98 31.80,523.98 32.30,523.97 32.80,523.97 33.30,523.96 33.80,523.96 34.30,523.95 34.80,523.95 35.30,523.94 35.80,523.94 36.30,523.93 36.80,523.92 37.30,523.92 37.80,523.91 38.30,523.91 38.80,523.90 39.30,523.89 39.80,523.89 40.30,523.88 40.80,523.87 41.30,523.87 41.80,523.86 42.30,523.85 42.80,523.84 43.30,523.84 43.80,523.83 44.30,523.82 44.80,523.81 45.30,523.80 45.80,523.79 46.30,523.78 46.80,523.77 47.30,523.76 47.80,523.75 48.30,523.74 48.80,523.73 49.30,523.71 49.80,523.70 50.30,523.69 50.80,523.67 51.30,523.66 51.80,523.64 52.30,523.63 52.80,523.61 53.30,523.59 53.80,523.57 54.30,523.56 54.80,523.54 55.30,523.51 55.80,523.49 56.30,523.47 56.80,523.44 57.30,523.42 57.80,523.39 58.30,523.36 58.80,523.33 59.30,523.30 59.80,523.27 60.30,523.23 60.80,523.20 61.30,523.16 61.80,523.12 62.30,523.07 62.80,523.03 63.30,522.98 63.80,522.93 64.30,522.88 64.80,522.82 65.30,522.76 65.80,522.70 66.30,522.63 66.80,522.56 67.30,522.49 67.80,522.41 68.30,522.33 68.80,522.24 69.30,522.15 69.80,522.06 70.30,521.95 70.80,521.85 71.30,521.73 71.80,521.61 72.30,521.49 72.80,521.35 73.30,521.21 73.80,521.05 74.30,520.89 74.80,520.71 75.30,520.53 75.80,520.32 76.30,520.10 76.80,519.86 77.30,519.60 77.80,519.31 78.30,518.99 78.80,518.64 79.30,518.25 79.80,517.82 80.30,517.33 80.80,516.79 81.30,516.18 81.80,515.49 82.30,514.72 82.80,513.86 83.30,512.88 83.80,511.79 84.30,510.57 84.80,509.21 85.30,507.68 85.80,505.99 86.30,504.12 86.80,502.05 87.30,499.78 87.80,497.29 88.30,494.58 88.80,491.64 89.30,488.48 89.80,485.08 90.30,481.45 90.80,477.58 91.30,473.51 91.80,469.25 92.30,464.82 92.80,460.25 93.30,455.56 93.80,450.80 94.30,445.99 94.80,441.18 95.30,436.41 95.80,431.74 96.30,427.20 96.80,422.85 97.30,418.74 97.80,414.90 98.30,411.39 98.80,408.26 99.30,405.52 99.80,403.23 100.30,401.40 100.80,400.05 101.30,399.20 101.80,398.86 102.30,399.01 102.80,399.67 103.30,400.80 103.80,402.40 104.30,404.42 104.80,406.85 105.30,409.65 105.80,412.77 106.30,416.17 106.80,419.82 107.30,423.66 107.80,427.66 108.30,431.77 108.80,435.95 109.30,440.17 109.80,444.38 110.30,448.55 110.80,452.66 111.30,456.67 111.80,460.57 112.30,464.33 112.80,467.94 113.30,471.39 113.80,474.67 114.30,477.76 114.80,480.68 115.30,483.41 115.80,485.96 116.30,488.32 116.80,490.51 117.30,492.53 117.80,494.39 118.30,496.09 118.80,497.65 119.30,499.07 119.80,500.35 120.30,501.52 120.80,502.57 121.30,503.52 121.80,504.38 122.30,505.15 122.80,505.85 123.30,506.47 123.80,507.03 124.30,507.54 124.80,507.99 125.30,508.40 125.80,508.78 126.30,509.11 126.80,509.42 127.30,509.70 127.80,509.96 128.30,510.21 128.80,510.43 129.30,510.64 129.80,510.85 130.30,511.05 130.80,511.27 131.30,511.47 131.80,511.68 132.30,511.88 132.80,512.07 133.30,512.27 133.80,512.47 134.30,512.67 134.80,512.86 135.30,513.06 135.80,513.26 136.30,513.47 136.80,513.67 137.30,513.88 137.80,514.08 138.30,514.29 138.80,514.50 139.30,514.71 139.80,514.92 140.30,515.12 140.80,515.33 141.30,515.54 141.80,515.74 142.30,515.94 142.80,516.13 143.30,516.32 143.80,516.51 144.30,516.69 144.80,516.86 145.30,517.02 145.80,517.18 146.30,517.33 146.80,517.47 147.30,517.60 147.80,517.72 148.30,517.84 148.80,517.94 149.30,518.03 149.80,518.11 150.30,518.19 150.80,518.25 151.30,518.30 151.80,518.35 152.30,518.38 152.80,518.41 153.30,518.43 153.80,518.44 154.30,518.45 154.80,518.45 155.30,518.44 155.80,518.43 156.30,518.42 156.80,518.40 157.30,518.38 157.80,518.36 158.30,518.34 158.80,518.32 159.30,518.31 159.80,518.29 160.30,518.28 160.80,518.27 161.30,518.27 161.80,518.26 162.30,518.27 162.80,518.28 163.30,518.29 163.80,518.32 164.30,518.34 164.80,518.38 165.30,518.42 165.80,518.46 166.30,518.52 166.80,518.57 167.30,518.64 167.80,518.71 168.30,518.78 168.80,518.86 169.30,518.94 169.80,519.03 170.30,519.12 170.80,519.21 171.30,519.30 171.80,519.40 172.30,519.49 172.80,519.59 173.30,519.69 173.80,519.79 174.30,519.88 174.80,519.98 175.30,520.07 175.80,520.16 176.30,520.25 176.80,520.33 177.30,520.42 177.80,520.50 178.30,520.57 178.80,520.65 179.30,520.72 179.80,520.78 180.30,520.84 180.80,520.90 181.30,520.96 181.80,521.01 182.30,521.06 182.80,521.10 183.30,521.14 183.80,521.18 184.30,521.22 184.80,521.25 185.30,521.28 185.80,521.30 186.30,521.33 186.80,521.35 187.30,521.37 187.80,521.39 188.30,521.40 188.80,521.42 189.30,521.43 189.80,521.44 190.30,521.45 190.80,521.46 191.30,521.47 191.80,521.47 192.30,521.48 192.80,521.48 193.30,521.49 193.80,521.49 194.30,521.49 194.80,521.50 195.30,521.50 195.80,521.50 196.30,521.50 196.80,521.50 197.30,521.50 197.80,521.50 198.30,521.50 198.80,521.50 199.30,521.50 199.80,521.50 200.30,521.50 200.80,521.50 201.30,521.50 201.80,521.50 202.30,521.50 202.80,521.50 203.30,521.50 203.80,521.50 204.30,521.50 204.80,521.50 205.30,521.50 205.80,521.49 206.30,521.49 206.80,521.49 207.30,521.49 207.80,521.49 208.30,521.49 208.80,521.49 209.30,521.49 209.80,521.49 210.30,521.48 210.80,521.48 211.30,521.48 211.80,521.48 212.30,521.48 212.80,521.48 213.30,521.48 213.80,521.48 214.30,521.47 214.80,521.47 215.30,521.47 215.80,521.47 216.30,521.47 216.80,521.47 217.30,521.47 217.80,521.47 218.30,521.46 218.80,521.46 219.30,521.46 219.80,521.46 220.30,521.46 220.80,521.46 221.30,521.46 221.80,521.45 222.30,521.45 222.80,521.45 223.30,521.45 223.80,521.45 224.30,521.45 224.80,521.44 225.30,521.44 225.80,521.44 226.30,521.44 226.80,521.44 227.30,521.44 227.80,521.44 228.30,521.43 228.80,521.43 229.30,521.43 229.80,521.43 230.30,521.43 230.80,521.43 231.30,521.42 231.80,521.42 232.30,521.42 232.80,521.42 233.30,521.42 233.80,521.42 234.30,521.41 234.80,521.41 235.30,521.41 235.80,521.41 236.30,521.41 236.80,521.40 237.30,521.40 237.80,521.40 238.30,521.40 238.80,521.40 239.30,521.40 239.80,521.39 240.30,521.39 240.80,521.39 241.30,521.39 241.80,521.39 242.30,521.39 242.80,521.38 243.30,521.38 243.80,521.38 244.30,521.38 244.80,521.38 245.30,521.37 245.80,521.37 246.30,521.37 246.80,521.37 247.30,521.37 247.80,521.36 248.30,521.36 248.80,521.36 249.30,521.36 249.80,521.36 250.30,521.36 250.80,521.35 251.30,521.35 251.80,521.35 252.30,521.35 252.80,521.35 253.30,521.34 253.80,521.34 254.30,521.34 254.80,521.34 255.30,521.34 255.80,521.33"/>
<text x="57" y="421.4" font-size="8.8" fill="#ff0000" stroke="#ff0000" stroke-width="0.18" font-family='"Liberation Sans", sans-serif'>C-C/C=C</text>
<line x1="77.9" y1="422.6" x2="96" y2="439.3" stroke="#ff0000" stroke-width="0.9"/>
<polygon points="96.00,439.30 92.56,438.31 94.73,435.95" fill="#ff0000"/>
<text x="69.5" y="477" font-size="8.8" fill="#0000ff" stroke="#0000ff" stroke-width="0.18" font-family='"Liberation Sans", sans-serif'>P-C</text>
<line x1="79.3" y1="481" x2="98.8" y2="508.9" stroke="#0000ff" stroke-width="0.9"/>
<polygon points="98.80,508.90 95.66,507.19 98.28,505.36" fill="#0000ff"/>
<text x="60.6" y="496.6" font-size="8.8" fill="#ff00ff" stroke="#ff00ff" stroke-width="0.18" font-family='"Liberation Sans", sans-serif'>C-O</text>
<line x1="71" y1="499.1" x2="100.2" y2="515.8" stroke="#ff00ff" stroke-width="0.9"/>
<polygon points="100.20,515.80 96.63,515.60 98.22,512.82" fill="#ff00ff"/>
<text x="138" y="508.3" font-size="8.8" fill="#00a000" stroke="#00a000" stroke-width="0.18" font-family='"Liberation Sans", sans-serif'>C-N</text>
<line x1="140.8" y1="510.3" x2="133" y2="519" stroke="#00a000" stroke-width="0.9"/>
<polygon points="133.00,519.00 133.94,515.55 136.33,517.69" fill="#00a000"/>
<text x="172.8" y="508.3" font-size="8.8" fill="#101090" stroke="#101090" stroke-width="0.18" font-family='"Liberation Sans", sans-serif'>N-C=N</text>
<line x1="177" y1="508.9" x2="165.8" y2="519.5" stroke="#101090" stroke-width="0.9"/>
<polygon points="165.80,519.50 167.02,516.14 169.22,518.46" fill="#101090"/>
<text x="291.2" y="398.2" font-size="17.5" fill="#000" text-anchor="start" font-family='"Liberation Serif", serif' >(f)</text>
<rect x="318" y="384.8" width="223.5" height="159.90000000000003" fill="none" stroke="#222" stroke-width="1.4"/>
<line x1="318.30" y1="544.7" x2="318.30" y2="547.7" stroke="#222" stroke-width="1.0"/>
<line x1="374.10" y1="544.7" x2="374.10" y2="547.7" stroke="#222" stroke-width="1.0"/>
<line x1="429.90" y1="544.7" x2="429.90" y2="547.7" stroke="#222" stroke-width="1.0"/>
<line x1="485.70" y1="544.7" x2="485.70" y2="547.7" stroke="#222" stroke-width="1.0"/>
<line x1="541.50" y1="544.7" x2="541.50" y2="547.7" stroke="#222" stroke-width="1.0"/>
<line x1="346.20" y1="544.7" x2="346.20" y2="547.2" stroke="#222" stroke-width="1.0"/>
<line x1="402.00" y1="544.7" x2="402.00" y2="547.2" stroke="#222" stroke-width="1.0"/>
<line x1="457.80" y1="544.7" x2="457.80" y2="547.2" stroke="#222" stroke-width="1.0"/>
<line x1="513.60" y1="544.7" x2="513.60" y2="547.2" stroke="#222" stroke-width="1.0"/>
<text x="318.3" y="556" font-size="8.8" fill="#111" text-anchor="middle" font-family='"Liberation Sans", sans-serif' >525</text>
<text x="374.1" y="556" font-size="8.8" fill="#111" text-anchor="middle" font-family='"Liberation Sans", sans-serif' >530</text>
<text x="429.9" y="556" font-size="8.8" fill="#111" text-anchor="middle" font-family='"Liberation Sans", sans-serif' >535</text>
<text x="485.7" y="556" font-size="8.8" fill="#111" text-anchor="middle" font-family='"Liberation Sans", sans-serif' >540</text>
<text x="541.5" y="556" font-size="8.8" fill="#111" text-anchor="middle" font-family='"Liberation Sans", sans-serif' >545</text>
<text x="430" y="571" font-size="8.5" fill="#222" text-anchor="middle" font-family='"Liberation Sans", sans-serif' >Binding energy / eV</text>
<text x="302" y="470.2" font-size="9" fill="#222" text-anchor="middle" font-family='"Liberation Sans", sans-serif' transform="rotate(-90 302 470.2)">Intensity / a.u.</text>
<text x="326" y="400" font-size="8.5" fill="#111" stroke="#111" stroke-width="0.15" font-family='"Liberation Serif", serif'>O1s</text>
<clipPath id="cf"><rect x="318.6" y="385.4" width="222.29999999999995" height="158.70000000000005"/></clipPath>
<polyline fill="none" stroke="#0000ff" stroke-width="1.2" stroke-opacity="1.0" stroke-linejoin="round" clip-path="url(#cf)" points="370.80,523.74 371.30,523.58 371.80,523.38 372.30,523.15 372.80,522.89 373.30,522.59 373.80,522.24 374.30,521.84 374.80,521.39 375.30,520.88 375.80,520.30 376.30,519.64 376.80,518.91 377.30,518.09 377.80,517.18 378.30,516.17 378.80,515.05 379.30,513.83 379.80,512.49 380.30,511.02 380.80,509.44 381.30,507.72 381.80,505.88 382.30,503.91 382.80,501.81 383.30,499.58 383.80,497.22 384.30,494.75 384.80,492.17 385.30,489.48 385.80,486.70 386.30,483.84 386.80,480.92 387.30,477.94 387.80,474.94 388.30,471.92 388.80,468.91 389.30,465.92 389.80,463.00 390.30,460.14 390.80,457.39 391.30,454.75 391.80,452.27 392.30,449.95 392.80,447.82 393.30,445.90 393.80,444.21 394.30,442.76 394.80,441.58 395.30,440.66 395.80,440.03 396.30,439.68 396.80,439.63 397.30,439.86 397.80,440.39 398.30,441.19 398.80,442.27 399.30,443.62 399.80,445.22 400.30,447.03 400.80,449.05 401.30,451.27 401.80,453.66 402.30,456.20 402.80,458.88 403.30,461.66 403.80,464.53 404.30,467.46 404.80,470.43 405.30,473.41 405.80,476.39 406.30,479.35 406.80,482.26 407.30,485.11 407.80,487.88 408.30,490.57 408.80,493.16 409.30,495.64 409.80,498.00 410.30,500.24 410.80,502.36 411.30,504.34 411.80,506.20 412.30,507.92 412.80,509.52 413.30,510.99 413.80,512.35 414.30,513.58 414.80,514.70 415.30,515.71 415.80,516.63 416.30,517.44 416.80,518.17 417.30,518.82 417.80,519.39 418.30,519.90 418.80,520.34 419.30,520.72 419.80,521.05 420.30,521.33 420.80,521.57 421.30,521.78 421.80,521.95 422.30,522.09"/>
<polyline fill="none" stroke="#ff0000" stroke-width="1.2" stroke-opacity="1.0" stroke-linejoin="round" clip-path="url(#cf)" points="379.80,524.36 380.30,524.32 380.80,524.27 381.30,524.21 381.80,524.14 382.30,524.06 382.80,523.97 383.30,523.87 383.80,523.75 384.30,523.61 384.80,523.45 385.30,523.27 385.80,523.06 386.30,522.82 386.80,522.56 387.30,522.25 387.80,521.91 388.30,521.52 388.80,521.09 389.30,520.61 389.80,520.07 390.30,519.47 390.80,518.80 391.30,518.07 391.80,517.26 392.30,516.36 392.80,515.38 393.30,514.31 393.80,513.15 394.30,511.88 394.80,510.51 395.30,509.02 395.80,507.43 396.30,505.72 396.80,503.89 397.30,501.93 397.80,499.86 398.30,497.66 398.80,495.35 399.30,492.91 399.80,490.35 400.30,487.67 400.80,484.86 401.30,481.95 401.80,478.95 402.30,475.86 402.80,472.69 403.30,469.46 403.80,466.18 404.30,462.87 404.80,459.53 405.30,456.18 405.80,452.85 406.30,449.54 406.80,446.28 407.30,443.09 407.80,439.98 408.30,436.97 408.80,434.08 409.30,431.33 409.80,428.75 410.30,426.33 410.80,424.11 411.30,422.10 411.80,420.31 412.30,418.75 412.80,417.44 413.30,416.39 413.80,415.60 414.30,415.08 414.80,414.82 415.30,414.85 415.80,415.15 416.30,415.72 416.80,416.55 417.30,417.65 417.80,418.99 418.30,420.58 418.80,422.40 419.30,424.43 419.80,426.67 420.30,429.09 420.80,431.68 421.30,434.42 421.80,437.30 422.30,440.28 422.80,443.37 423.30,446.52 423.80,449.74 424.30,452.99 424.80,456.27 425.30,459.54 425.80,462.81 426.30,466.04 426.80,469.24 427.30,472.37 427.80,475.44 428.30,478.43 428.80,481.33 429.30,484.13 429.80,486.83 430.30,489.41 430.80,491.89 431.30,494.24 431.80,496.47 432.30,498.58 432.80,500.57 433.30,502.43 433.80,504.18 434.30,505.81 434.80,507.32 435.30,508.72 435.80,510.01 436.30,511.20 436.80,512.29 437.30,513.29 437.80,514.20 438.30,515.02 438.80,515.77 439.30,516.44 439.80,517.04 440.30,517.58 440.80,518.06 441.30,518.48 441.80,518.86 442.30,519.19 442.80,519.48 443.30,519.74 443.80,519.95 444.30,520.14 444.80,520.30 445.30,520.45 445.80,520.57 446.30,520.68 446.80,520.77 447.30,520.84 447.80,520.90 448.30,520.95 448.80,520.99 449.30,521.02 449.80,521.04"/>
<polyline fill="none" stroke="#ff00ff" stroke-width="1.2" stroke-opacity="1.0" stroke-linejoin="round" clip-path="url(#cf)" points="318.80,524.80 319.30,524.80 319.80,524.79 320.30,524.79 320.80,524.79 321.30,524.79 321.80,524.79 322.30,524.78 322.80,524.78 323.30,524.78 323.80,524.78 324.30,524.78 324.80,524.78 325.30,524.77 325.80,524.77 326.30,524.77 326.80,524.77 327.30,524.77 327.80,524.76 328.30,524.76 328.80,524.76 329.30,524.76 329.80,524.76 330.30,524.75 330.80,524.75 331.30,524.75 331.80,524.75 332.30,524.75 332.80,524.75 333.30,524.74 333.80,524.74 334.30,524.74 334.80,524.74 335.30,524.74 335.80,524.73 336.30,524.73 336.80,524.73 337.30,524.73 337.80,524.73 338.30,524.73 338.80,524.72 339.30,524.72 339.80,524.72 340.30,524.72 340.80,524.72 341.30,524.71 341.80,524.71 342.30,524.71 342.80,524.71 343.30,524.71 343.80,524.71 344.30,524.70 344.80,524.70 345.30,524.70 345.80,524.70 346.30,524.70 346.80,524.69 347.30,524.69 347.80,524.69 348.30,524.69 348.80,524.69 349.30,524.69 349.80,524.68 350.30,524.68 350.80,524.68 351.30,524.68 351.80,524.68 352.30,524.67 352.80,524.67 353.30,524.67 353.80,524.67 354.30,524.67 354.80,524.67 355.30,524.66 355.80,524.66 356.30,524.66 356.80,524.66 357.30,524.66 357.80,524.65 358.30,524.65 358.80,524.65 359.30,524.65 359.80,524.65 360.30,524.65 360.80,524.64 361.30,524.64 361.80,524.64 362.30,524.64 362.80,524.64 363.30,524.63 363.80,524.63 364.30,524.63 364.80,524.63 365.30,524.63 365.80,524.63 366.30,524.62 366.80,524.62 367.30,524.62 367.80,524.62 368.30,524.62 368.80,524.61 369.30,524.61 369.80,524.61 370.30,524.61 370.80,524.61 371.30,524.61 371.80,524.60 372.30,524.60 372.80,524.60 373.30,524.60 373.80,524.60 374.30,524.59 374.80,524.59 375.30,524.59 375.80,524.59 376.30,524.59 376.80,524.58 377.30,524.58 377.80,524.58 378.30,524.58 378.80,524.58 379.30,524.58 379.80,524.57 380.30,524.57 380.80,524.57 381.30,524.57 381.80,524.57 382.30,524.56 382.80,524.56 383.30,524.56 383.80,524.56 384.30,524.56 384.80,524.56 385.30,524.55 385.80,524.55 386.30,524.55 386.80,524.55 387.30,524.55 387.80,524.54 388.30,524.54 388.80,524.54 389.30,524.54 389.80,524.54 390.30,524.54 390.80,524.53 391.30,524.53 391.80,524.53 392.30,524.53 392.80,524.53 393.30,524.52 393.80,524.52 394.30,524.52 394.80,524.52 395.30,524.52 395.80,524.52 396.30,524.51 396.80,524.51 397.30,524.51 397.80,524.51 398.30,524.51 398.80,524.50 399.30,524.50 399.80,524.50 400.30,524.48 400.80,524.45 401.30,524.41 401.80,524.38 402.30,524.35 402.80,524.31 403.30,524.28 403.80,524.25 404.30,524.21 404.80,524.18 405.30,524.15 405.80,524.11 406.30,524.08 406.80,524.05 407.30,524.01 407.80,523.98 408.30,523.95 408.80,523.91 409.30,523.88 409.80,523.85 410.30,523.81 410.80,523.78 411.30,523.75 411.80,523.71 412.30,523.68 412.80,523.65 413.30,523.61 413.80,523.58 414.30,523.55 414.80,523.51 415.30,523.48 415.80,523.45 416.30,523.41 416.80,523.38 417.30,523.35 417.80,523.31 418.30,523.28 418.80,523.25 419.30,523.21 419.80,523.18 420.30,523.15 420.80,523.11 421.30,523.08 421.80,523.05 422.30,523.01 422.80,522.98 423.30,522.95 423.80,522.91 424.30,522.88 424.80,522.85 425.30,522.81 425.80,522.78 426.30,522.75 426.80,522.71 427.30,522.68 427.80,522.65 428.30,522.61 428.80,522.58 429.30,522.55 429.80,522.51 430.30,522.48 430.80,522.45 431.30,522.41 431.80,522.38 432.30,522.35 432.80,522.31 433.30,522.28 433.80,522.25 434.30,522.21 434.80,522.18 435.30,522.15 435.80,522.11 436.30,522.08 436.80,522.05 437.30,522.01 437.80,521.98 438.30,521.95 438.80,521.91 439.30,521.88 439.80,521.85 440.30,521.81 440.80,521.78 441.30,521.75 441.80,521.71 442.30,521.68 442.80,521.65 443.30,521.61 443.80,521.58 444.30,521.55 444.80,521.51 445.30,521.49 445.80,521.46 446.30,521.44 446.80,521.42 447.30,521.39 447.80,521.37 448.30,521.35 448.80,521.32 449.30,521.30 449.80,521.27"/>
<polyline fill="none" stroke="#222" stroke-width="0.9" stroke-opacity="1.0" stroke-linejoin="round" clip-path="url(#cf)" points="318.80,523.10 319.80,524.51 320.80,524.59 321.80,525.91 322.80,523.02 323.80,526.07 324.80,520.53 325.80,526.40 326.80,525.17 327.80,522.67 328.80,524.40 329.80,524.31 330.80,524.77 331.80,526.10 332.80,523.96 333.80,523.86 334.80,523.88 335.80,524.60 336.80,525.18 337.80,524.08 338.80,523.02 339.80,523.64 340.80,522.64 341.80,522.76 342.80,523.31 343.80,522.94 344.80,525.22 345.80,521.24 346.80,524.48 347.80,521.39 348.80,525.52 349.80,523.42 350.80,525.50 351.80,523.51 352.80,521.32 353.80,523.55 354.80,521.59 355.80,522.17 356.80,520.98 357.80,522.34 358.80,522.40 359.80,522.38 360.80,525.89 361.80,520.19 362.80,522.03 363.80,520.89 364.80,520.67 365.80,520.55 366.80,521.16 367.80,520.57 368.80,522.26 369.80,521.13 370.80,518.96 371.80,520.50 372.80,519.81 373.80,518.06 374.80,517.28 375.80,516.14 376.80,516.06 377.80,513.45 378.80,510.48 379.80,509.16 380.80,507.22 381.80,503.34 382.80,501.95 383.80,497.79 384.80,495.52 385.80,486.04 386.80,478.48 387.80,470.17 388.80,461.53 389.80,454.59 390.80,448.43 391.80,441.00 392.80,436.54 393.80,433.04 394.80,429.48 395.80,425.21 396.80,422.08 397.80,418.64 398.80,415.29 399.80,415.06 400.80,412.30 401.80,412.44 402.80,412.68 403.80,411.91 404.80,411.78 405.80,409.37 406.80,410.13 407.80,409.01 408.80,409.05 409.80,407.09 410.80,405.78 411.80,404.65 412.80,402.73 413.80,403.28 414.80,403.11 415.80,406.02 416.80,407.83 417.80,412.42 418.80,417.14 419.80,423.04 420.80,429.01 421.80,436.65 422.80,442.03 423.80,452.72 424.80,459.99 425.80,468.72 426.80,476.96 427.80,481.55 428.80,487.87 429.80,492.09 430.80,496.66 431.80,499.04 432.80,501.87 433.80,503.67 434.80,507.47 435.80,508.56 436.80,510.43 437.80,511.35 438.80,511.96 439.80,511.78 440.80,515.22 441.80,511.42 442.80,517.19 443.80,515.88 444.80,517.74 445.80,516.23 446.80,520.51 447.80,517.48 448.80,519.99 449.80,516.66 450.80,517.66 451.80,518.61 452.80,519.86 453.80,515.67 454.80,518.10 455.80,517.47 456.80,518.02 457.80,517.53 458.80,520.13 459.80,518.74 460.80,518.03 461.80,519.54 462.80,519.37 463.80,516.74 464.80,517.33 465.80,519.42 466.80,521.09 467.80,513.30 468.80,518.44 469.80,519.14 470.80,516.33 471.80,519.84 472.80,517.71 473.80,515.91 474.80,517.69 475.80,518.46 476.80,516.14 477.80,519.19 478.80,517.78 479.80,517.17 480.80,518.39 481.80,516.70 482.80,518.04 483.80,515.56 484.80,520.10 485.80,515.91 486.80,519.37 487.80,519.81 488.80,518.66 489.80,516.31 490.80,517.19 491.80,516.49 492.80,517.17 493.80,515.02 494.80,513.96 495.80,517.62 496.80,515.97 497.80,518.77 498.80,518.26 499.80,513.15 500.80,515.22 501.80,517.14 502.80,517.00 503.80,515.11 504.80,515.34 505.80,511.96 506.80,519.45 507.80,512.14 508.80,516.15 509.80,514.37 510.80,512.67 511.80,515.79 512.80,515.61 513.80,512.99 514.80,513.87 515.80,514.21 516.80,514.41 517.80,513.94 518.80,511.01 519.80,511.59 520.80,511.81 521.80,508.04 522.80,511.18 523.80,511.85 524.80,510.67 525.80,510.52 526.80,513.15 527.80,511.25 528.80,512.39 529.80,510.22 530.80,510.25 531.80,509.29 532.80,511.17 533.80,507.05 534.80,509.59 535.80,510.97 536.80,510.77 537.80,509.13 538.80,507.63 539.80,510.66 540.80,507.44"/>
<polyline fill="none" stroke="#10a010" stroke-width="1.0" stroke-opacity="1.0" stroke-linejoin="round" clip-path="url(#cf)" points="318.80,524.79 319.30,524.79 319.80,524.79 320.30,524.78 320.80,524.78 321.30,524.77 321.80,524.77 322.30,524.76 322.80,524.76 323.30,524.75 323.80,524.75 324.30,524.74 324.80,524.74 325.30,524.73 325.80,524.73 326.30,524.72 326.80,524.72 327.30,524.72 327.80,524.71 328.30,524.71 328.80,524.70 329.30,524.70 329.80,524.69 330.30,524.69 330.80,524.68 331.30,524.68 331.80,524.67 332.30,524.67 332.80,524.66 333.30,524.66 333.80,524.65 334.30,524.65 334.80,524.64 335.30,524.64 335.80,524.63 336.30,524.63 336.80,524.62 337.30,524.62 337.80,524.61 338.30,524.61 338.80,524.60 339.30,524.60 339.80,524.59 340.30,524.59 340.80,524.59 341.30,524.58 341.80,524.58 342.30,524.57 342.80,524.57 343.30,524.56 343.80,524.56 344.30,524.55 344.80,524.55 345.30,524.54 345.80,524.54 346.30,524.53 346.80,524.53 347.30,524.52 347.80,524.52 348.30,524.51 348.80,524.51 349.30,524.50 349.80,524.50 350.30,524.49 350.80,524.49 351.30,524.48 351.80,524.48 352.30,524.47 352.80,524.47 353.30,524.46 353.80,524.46 354.30,524.45 354.80,524.45 355.30,524.45 355.80,524.44 356.30,524.44 356.80,524.43 357.30,524.43 357.80,524.42 358.30,524.42 358.80,524.41 359.30,524.40 359.80,524.38 360.30,524.35 360.80,524.32 361.30,524.28 361.80,524.24 362.30,524.19 362.80,524.15 363.30,524.10 363.80,524.06 364.30,524.01 364.80,523.97 365.30,523.92 365.80,523.88 366.30,523.83 366.80,523.79 367.30,523.74 367.80,523.70 368.30,523.65 368.80,523.59 369.30,523.51 369.80,523.38 370.30,523.20 370.80,522.97 371.30,522.70 371.80,522.41 372.30,522.09 372.80,521.73 373.30,521.31 373.80,520.81 374.30,520.24 374.80,519.60 375.30,518.93 375.80,518.25 376.30,517.53 376.80,516.76 377.30,515.89 377.80,514.87 378.30,513.70 378.80,512.42 379.30,511.08 379.80,509.70 380.30,508.32 380.80,506.93 381.30,505.55 381.80,504.16 382.30,502.77 382.80,501.35 383.30,499.84 383.80,498.11 384.30,495.98 384.80,493.29 385.30,490.04 385.80,486.35 386.30,482.40 386.80,478.36 387.30,474.30 387.80,470.27 388.30,466.29 388.80,462.37 389.30,458.48 389.80,454.63 390.30,450.87 390.80,447.27 391.30,443.99 391.80,441.14 392.30,438.73 392.80,436.66 393.30,434.79 393.80,433.00 394.30,431.24 394.80,429.46 395.30,427.64 395.80,425.75 396.30,423.81 396.80,421.86 397.30,420.01 397.80,418.41 398.30,417.14 398.80,416.20 399.30,415.50 399.80,414.92 400.30,414.40 400.80,413.90 401.30,413.41 401.80,412.92 402.30,412.47 402.80,412.06 403.30,411.70 403.80,411.40 404.30,411.12 404.80,410.87 405.30,410.62 405.80,410.38 406.30,410.13 406.80,409.87 407.30,409.60 407.80,409.27 408.30,408.87 408.80,408.36 409.30,407.77 409.80,407.11 410.30,406.42 410.80,405.72 411.30,405.02 411.80,404.32 412.30,403.66 412.80,403.08 413.30,402.70 413.80,402.62 414.30,402.90 414.80,403.49 415.30,404.30 415.80,405.27 416.30,406.45 416.80,407.95 417.30,409.88 417.80,412.25 418.30,414.95 418.80,417.83 419.30,420.76 419.80,423.70 420.30,426.67 420.80,429.70 421.30,432.85 421.80,436.16 422.30,439.68 422.80,443.39 423.30,447.34 423.80,451.54 424.30,455.97 424.80,460.53 425.30,465.05 425.80,469.32 426.30,473.18 426.80,476.58 427.30,479.59 427.80,482.37 428.30,485.02 428.80,487.60 429.30,490.05 429.80,492.32 430.30,494.35 430.80,496.14 431.30,497.77 431.80,499.29 432.30,500.78 432.80,502.26 433.30,503.74 433.80,505.21 434.30,506.67 434.80,508.09 435.30,509.41 435.80,510.58 436.30,511.55 436.80,512.32 437.30,512.94 437.80,513.49 438.30,514.00 438.80,514.50 439.30,515.00 439.80,515.50 440.30,516.00 440.80,516.50 441.30,517.00 441.80,517.50 442.30,518.00 442.80,518.50 443.30,519.00 443.80,519.50 444.30,519.98 444.80,520.43 445.30,520.81 445.80,521.08 446.30,521.25 446.80,521.34 447.30,521.36 447.80,521.36 448.30,521.36 448.80,521.35 449.30,521.34 449.80,521.33 450.30,521.32 450.80,521.32 451.30,521.31 451.80,521.30 452.30,521.29 452.80,521.28 453.30,521.27 453.80,521.27 454.30,521.26 454.80,521.25 455.30,521.24 455.80,521.23 456.30,521.23 456.80,521.22 457.30,521.21 457.80,521.20 458.30,521.19 458.80,521.18 459.30,521.18 459.80,521.17 460.30,521.16 460.80,521.15 461.30,521.14 461.80,521.13 462.30,521.13 462.80,521.12 463.30,521.11 463.80,521.10 464.30,521.09 464.80,521.09 465.30,521.08 465.80,521.07 466.30,521.06 466.80,521.05 467.30,521.04 467.80,521.04 468.30,521.03 468.80,521.02 469.30,521.01 469.80,521.00 470.30,520.99 470.80,520.97 471.30,520.96 471.80,520.94 472.30,520.92 472.80,520.91 473.30,520.89 473.80,520.87 474.30,520.86 474.80,520.84 475.30,520.82 475.80,520.81 476.30,520.79 476.80,520.77 477.30,520.76 477.80,520.74 478.30,520.72 478.80,520.71 479.30,520.69 479.80,520.67 480.30,520.66 480.80,520.64 481.30,520.62 481.80,520.61 482.30,520.59 482.80,520.57 483.30,520.56 483.80,520.54 484.30,520.52 484.80,520.51 485.30,520.49 485.80,520.47 486.30,520.46 486.80,520.44 487.30,520.42 487.80,520.41 488.30,520.39 488.80,520.37 489.30,520.36 489.80,520.34 490.30,520.32 490.80,520.31 491.30,520.29 491.80,520.27 492.30,520.26 492.80,520.24 493.30,520.22 493.80,520.21 494.30,520.19 494.80,520.17 495.30,520.16 495.80,520.14 496.30,520.12 496.80,520.11 497.30,520.09 497.80,520.07 498.30,520.06 498.80,520.04 499.30,520.02 499.80,520.00 500.30,519.97 500.80,519.94 501.30,519.90 501.80,519.87 502.30,519.83 502.80,519.80 503.30,519.76 503.80,519.72 504.30,519.69 504.80,519.65 505.30,519.61 505.80,519.58 506.30,519.54 506.80,519.50 507.30,519.47 507.80,519.43 508.30,519.39 508.80,519.36 509.30,519.32 509.80,519.28 510.30,519.25 510.80,519.21 511.30,519.17 511.80,519.14 512.30,519.10 512.80,519.06 513.30,519.03 513.80,518.99 514.30,518.95 514.80,518.92 515.30,518.88 515.80,518.84 516.30,518.81 516.80,518.77 517.30,518.73 517.80,518.70 518.30,518.66 518.80,518.62 519.30,518.59 519.80,518.55 520.30,518.51 520.80,518.48 521.30,518.44 521.80,518.40 522.30,518.37 522.80,518.33 523.30,518.30 523.80,518.26 524.30,518.22 524.80,518.19 525.30,518.15 525.80,518.11 526.30,518.08 526.80,518.04 527.30,518.00 527.80,517.97 528.30,517.93 528.80,517.89 529.30,517.86 529.80,517.82 530.30,517.78 530.80,517.75 531.30,517.71 531.80,517.67 532.30,517.64 532.80,517.60 533.30,517.56 533.80,517.53 534.30,517.49 534.80,517.45 535.30,517.42 535.80,517.38 536.30,517.34 536.80,517.31 537.30,517.27 537.80,517.23 538.30,517.20 538.80,517.16 539.30,517.13 539.80,517.09 540.30,517.06 540.80,517.04"/>
<text x="370.1" y="434" font-size="8.8" fill="#0000ff" stroke="#0000ff" stroke-width="0.18" font-family='"Liberation Sans", sans-serif'>C-O</text>
<line x1="380.4" y1="435.1" x2="395.7" y2="442.1" stroke="#0000ff" stroke-width="0.9"/>
<polygon points="395.70,442.10 392.12,442.22 393.46,439.31" fill="#0000ff"/>
<text x="427.6" y="410.3" font-size="8.8" fill="#ff0000" stroke="#ff0000" stroke-width="0.18" font-family='"Liberation Sans", sans-serif'>P-O</text>
<line x1="429" y1="411.4" x2="417.3" y2="417" stroke="#ff0000" stroke-width="0.9"/>
<polygon points="417.30,417.00 419.50,414.18 420.88,417.06" fill="#ff0000"/></svg>
</body></html>
